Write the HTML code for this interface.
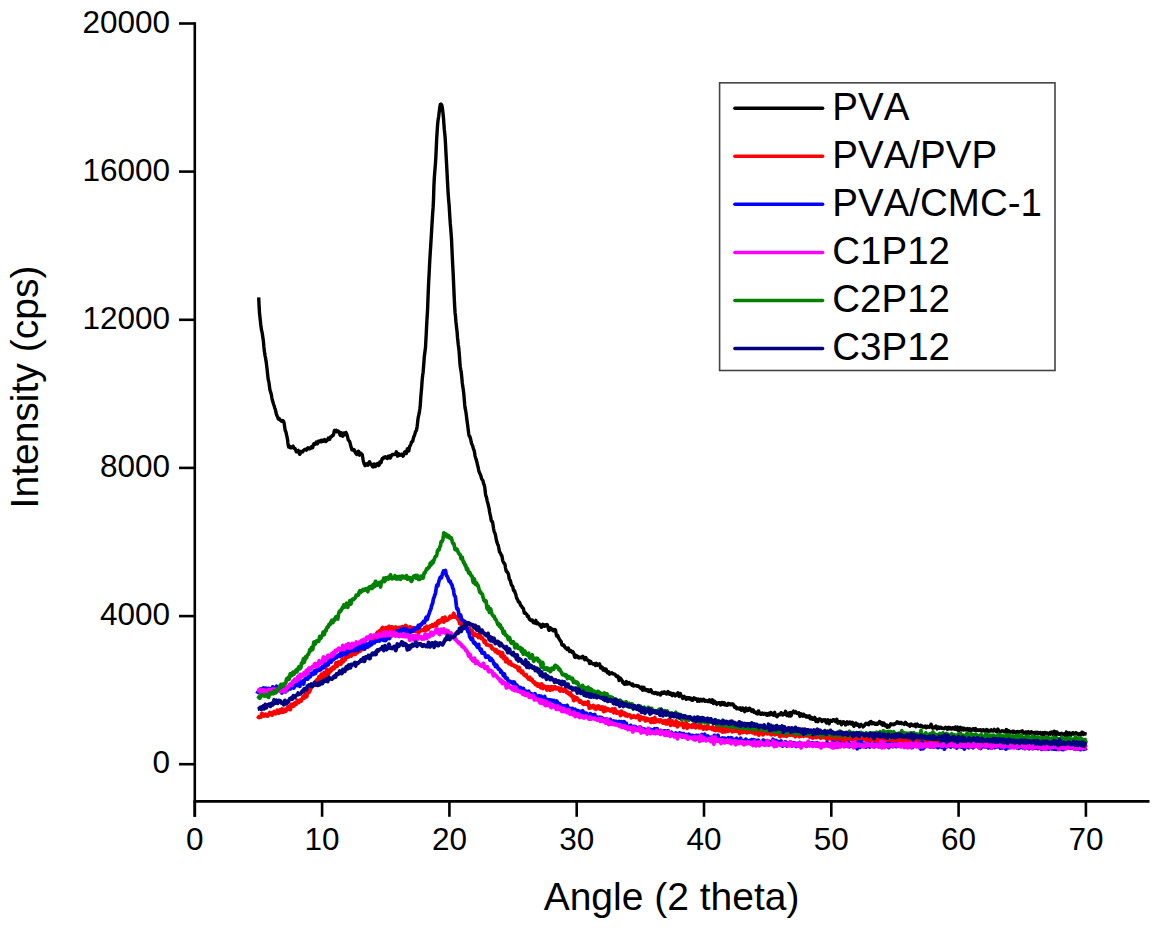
<!DOCTYPE html>
<html><head><meta charset="utf-8"><style>
html,body{margin:0;padding:0;background:#fff;}
svg{display:block;}
text{font-family:"Liberation Sans", sans-serif;fill:#000;font-kerning:none;}
</style></head><body>
<svg width="1159" height="928" viewBox="0 0 1159 928">
<rect width="1159" height="928" fill="#fff"/>

<path d="M258.7 297.4L259.1 305.9 259.5 313.0 259.9 316.6 260.3 320.2 260.7 324.2 261.1 327.2 261.5 329.9 261.9 331.6 262.3 333.5 262.7 336.4 263.1 339.1 263.5 342.1 263.9 346.9 264.3 350.6 264.7 353.4 265.1 355.8 265.5 357.6 265.9 360.2 266.3 362.6 266.7 366.1 267.1 369.2 267.5 373.2 267.9 376.7 268.3 379.9 268.7 381.3 269.1 383.5 269.5 386.7 269.9 389.8 270.3 391.1 270.7 392.4 271.1 393.6 271.5 395.5 271.9 398.0 272.3 400.0 272.7 401.4 273.1 402.5 273.5 404.0 273.9 405.1 274.3 406.1 274.7 407.9 275.1 408.7 275.5 410.0 275.9 412.3 276.3 413.7 276.7 415.0 277.1 415.9 277.5 416.7 277.9 417.8 278.3 419.1 278.7 419.2 279.1 418.4 279.5 418.9 279.9 419.8 280.3 420.2 280.7 420.3 281.1 420.7 281.5 421.3 281.9 421.3 282.3 421.0 282.7 420.5 283.1 421.1 283.5 421.1 283.9 422.5 284.3 424.2 284.7 427.1 285.1 429.9 285.5 431.2 285.9 431.9 286.3 433.7 286.7 435.5 287.1 437.3 287.5 439.3 287.9 442.9 288.3 445.5 288.7 447.1 289.1 446.5 289.5 446.1 289.9 447.3 290.3 447.9 290.7 447.9 291.1 447.5 291.5 447.8 291.9 447.7 292.3 446.7 292.7 446.4 293.1 446.1 293.5 447.3 293.9 448.1 294.3 448.4 294.7 448.3 295.1 448.5 295.5 449.6 295.9 450.5 296.3 451.7 296.7 451.4 297.1 451.8 297.5 451.3 297.9 450.7 298.3 450.4 298.7 451.2 299.1 452.5 299.5 454.2 299.9 454.2 300.3 452.9 300.7 451.5 301.1 452.0 301.5 452.1 301.9 451.7 302.3 451.6 302.7 451.8 303.1 451.1 303.5 450.3 303.9 450.0 304.3 449.8 304.7 449.6 305.1 449.2 305.5 449.8 305.9 449.9 306.3 450.2 306.7 449.4 307.1 449.1 307.5 448.2 307.9 447.8 308.3 448.2 308.7 448.5 309.1 448.9 309.5 448.0 309.9 448.7 310.3 447.9 310.7 448.4 311.1 447.7 311.5 446.8 311.9 446.4 312.3 447.2 312.7 447.6 313.1 446.1 313.5 444.7 313.9 443.8 314.3 444.1 314.7 444.2 315.1 444.3 315.5 443.2 315.9 442.8 316.3 442.0 316.7 442.7 317.1 443.2 317.5 443.8 317.9 443.0 318.3 442.1 318.7 441.1 319.1 440.9 319.5 441.5 319.9 441.6 320.3 441.7 320.7 440.9 321.1 440.4 321.5 441.2 321.9 441.7 322.3 441.1 322.7 440.2 323.1 441.4 323.5 441.4 323.9 440.7 324.3 439.8 324.7 439.6 325.1 440.0 325.5 440.8 325.9 441.6 326.3 440.8 326.7 440.7 327.1 440.3 327.5 440.0 327.9 439.0 328.3 438.1 328.7 438.6 329.1 439.2 329.5 439.5 329.9 438.5 330.3 437.8 330.7 436.8 331.1 436.8 331.5 436.7 331.9 436.3 332.3 435.5 332.7 435.7 333.1 435.6 333.5 434.7 333.9 432.8 334.3 430.7 334.7 430.3 335.1 431.0 335.5 431.4 335.9 430.6 336.3 430.3 336.7 431.1 337.1 431.7 337.5 431.4 337.9 431.7 338.3 431.1 338.7 431.5 339.1 431.7 339.5 433.2 339.9 434.4 340.3 435.4 340.7 434.6 341.1 432.7 341.5 432.8 341.9 434.0 342.3 435.4 342.7 436.2 343.1 435.6 343.5 433.8 343.9 433.0 344.3 434.1 344.7 434.8 345.1 434.4 345.5 433.6 345.9 432.4 346.3 433.2 346.7 434.3 347.1 435.2 347.5 436.5 347.9 438.3 348.3 440.2 348.7 440.5 349.1 440.9 349.5 441.3 349.9 442.4 350.3 444.0 350.7 445.5 351.1 447.1 351.5 448.1 351.9 449.8 352.3 449.6 352.7 449.8 353.1 449.5 353.5 450.4 353.9 449.7 354.3 449.8 354.7 450.8 355.1 452.1 355.5 452.8 355.9 452.8 356.3 453.8 356.7 454.5 357.1 453.9 357.5 452.8 357.9 452.0 358.3 451.2 358.7 451.3 359.1 453.4 359.5 455.2 359.9 454.5 360.3 452.9 360.7 453.2 361.1 454.2 361.5 454.6 361.9 454.1 362.3 455.0 362.7 457.2 363.1 459.7 363.5 461.8 363.9 462.8 364.3 464.2 364.7 464.4 365.1 465.6 365.5 465.2 365.9 464.9 366.3 464.2 366.7 463.8 367.1 464.2 367.5 465.2 367.9 465.3 368.3 464.3 368.7 463.6 369.1 462.3 369.5 461.7 369.9 462.4 370.3 464.1 370.7 463.8 371.1 463.8 371.5 464.1 371.9 465.5 372.3 466.4 372.7 466.8 373.1 467.0 373.5 466.7 373.9 465.9 374.3 464.0 374.7 464.5 375.1 465.5 375.5 466.5 375.9 465.8 376.3 465.0 376.7 464.2 377.1 463.6 377.5 463.5 377.9 463.6 378.3 464.8 378.7 465.5 379.1 465.2 379.5 463.5 379.9 462.0 380.3 462.4 380.7 462.9 381.1 462.6 381.5 460.9 381.9 459.3 382.3 458.6 382.7 458.8 383.1 458.9 383.5 458.0 383.9 457.4 384.3 457.7 384.7 457.2 385.1 457.0 385.5 456.7 385.9 457.7 386.3 457.7 386.7 458.1 387.1 458.4 387.5 458.5 387.9 457.4 388.3 456.3 388.7 456.3 389.1 455.9 389.5 456.0 389.9 457.4 390.3 458.0 390.7 457.3 391.1 455.6 391.5 455.6 391.9 455.1 392.3 454.5 392.7 454.6 393.1 454.5 393.5 454.6 393.9 454.5 394.3 454.6 394.7 454.0 395.1 454.3 395.5 454.3 395.9 453.4 396.3 451.8 396.7 452.2 397.1 454.2 397.5 456.2 397.9 455.9 398.3 454.5 398.7 453.7 399.1 454.4 399.5 455.0 399.9 455.3 400.3 455.2 400.7 455.0 401.1 454.5 401.5 454.3 401.9 454.3 402.3 454.5 402.7 455.6 403.1 456.2 403.5 455.5 403.9 453.5 404.3 452.8 404.7 452.0 405.1 451.7 405.5 452.0 405.9 453.4 406.3 453.5 406.7 451.3 407.1 449.6 407.5 448.8 407.9 449.5 408.3 450.8 408.7 451.0 409.1 449.4 409.5 446.9 409.9 445.8 410.3 445.5 410.7 444.6 411.1 443.5 411.5 442.0 411.9 441.8 412.3 441.5 412.7 441.4 413.1 439.4 413.5 437.8 413.9 436.5 414.3 435.7 414.7 434.5 415.1 433.2 415.5 431.7 415.9 431.4 416.3 430.5 416.7 429.0 417.1 426.7 417.5 423.4 417.9 419.8 418.3 416.9 418.7 415.6 419.1 413.4 419.5 411.1 419.9 408.4 420.3 405.1 420.7 398.5 421.1 393.6 421.5 389.5 421.9 383.9 422.3 378.6 422.7 375.0 423.1 372.4 423.5 367.5 423.9 362.3 424.3 356.7 424.7 353.8 425.1 350.5 425.5 347.5 425.9 340.0 426.3 332.7 426.7 324.3 427.1 317.3 427.5 311.2 427.9 300.8 428.3 290.5 428.7 281.4 429.1 274.1 429.5 265.9 429.9 258.4 430.3 252.0 430.7 245.8 431.1 239.3 431.5 232.6 431.9 225.9 432.3 219.1 432.7 212.9 433.1 207.7 433.5 199.6 433.9 186.1 434.3 178.1 434.7 172.9 435.1 167.9 435.5 163.0 435.9 155.8 436.3 147.0 436.7 138.7 437.1 132.0 437.5 126.0 437.9 121.6 438.3 118.8 438.7 116.3 439.1 112.9 439.5 109.6 439.9 106.6 440.3 104.5 440.7 104.7 441.1 104.1 441.5 104.9 441.9 105.5 442.3 107.7 442.7 110.8 443.1 114.2 443.5 118.1 443.9 124.0 444.3 129.2 444.7 133.1 445.1 137.2 445.5 143.9 445.9 151.7 446.3 159.0 446.7 166.2 447.1 173.9 447.5 181.8 447.9 189.2 448.3 195.3 448.7 200.7 449.1 204.9 449.5 211.5 449.9 218.0 450.3 223.9 450.7 228.3 451.1 233.7 451.5 239.2 451.9 247.8 452.3 256.9 452.7 264.8 453.1 272.4 453.5 281.2 453.9 290.1 454.3 299.1 454.7 306.9 455.1 312.9 455.5 316.2 455.9 321.4 456.3 325.0 456.7 328.7 457.1 331.9 457.5 337.4 457.9 341.0 458.3 345.0 458.7 347.7 459.1 351.6 459.5 356.9 459.9 362.8 460.3 367.0 460.7 369.3 461.1 371.3 461.5 374.6 461.9 378.6 462.3 382.9 462.7 386.1 463.1 388.5 463.5 391.4 463.9 394.9 464.3 399.8 464.7 404.7 465.1 408.1 465.5 409.9 465.9 412.0 466.3 415.1 466.7 418.2 467.1 421.3 467.5 424.1 467.9 427.4 468.3 430.4 468.7 433.5 469.1 435.8 469.5 436.4 469.9 436.7 470.3 437.9 470.7 439.5 471.1 441.5 471.5 443.2 471.9 444.1 472.3 445.1 472.7 446.0 473.1 447.5 473.5 448.8 473.9 449.8 474.3 451.2 474.7 453.4 475.1 456.1 475.5 457.5 475.9 458.7 476.3 459.8 476.7 461.3 477.1 463.0 477.5 465.0 477.9 466.4 478.3 468.2 478.7 470.1 479.1 471.8 479.5 472.6 479.9 473.8 480.3 474.2 480.7 475.4 481.1 476.6 481.5 478.5 481.9 479.4 482.3 479.7 482.7 480.1 483.1 481.3 483.5 483.1 483.9 484.4 484.3 485.1 484.7 487.1 485.1 490.2 485.5 493.8 485.9 496.0 486.3 496.6 486.7 498.4 487.1 500.6 487.5 502.1 487.9 503.4 488.3 505.1 488.7 507.0 489.1 508.2 489.5 511.2 489.9 513.4 490.3 515.1 490.7 517.0 491.1 519.8 491.5 521.1 491.9 521.4 492.3 521.5 492.7 522.8 493.1 525.2 493.5 528.2 493.9 530.4 494.3 532.0 494.7 532.7 495.1 533.7 495.5 535.1 495.9 537.5 496.3 539.7 496.7 541.4 497.1 542.6 497.5 543.8 497.9 544.8 498.3 545.6 498.7 547.3 499.1 549.7 499.5 552.0 499.9 552.2 500.3 552.9 500.7 553.6 501.1 554.9 501.5 554.9 501.9 555.9 502.3 558.0 502.7 560.6 503.1 561.6 503.5 562.1 503.9 563.3 504.3 563.4 504.7 563.8 505.1 565.1 505.5 568.0 505.9 569.9 506.3 571.1 506.7 571.6 507.1 571.6 507.5 572.3 507.9 573.0 508.3 573.9 508.7 575.5 509.1 578.2 509.5 579.6 509.9 580.0 510.3 580.3 510.7 582.3 511.1 583.8 511.5 585.4 511.9 585.5 512.3 586.0 512.7 586.4 513.1 588.4 513.5 590.3 513.9 590.7 514.3 590.5 514.7 591.2 515.1 592.9 515.5 593.6 515.9 594.8 516.3 596.7 516.7 598.3 517.1 598.5 517.5 599.5 517.9 600.3 518.3 601.9 518.7 602.0 519.1 602.1 519.5 602.2 519.9 603.1 520.3 604.5 520.7 605.4 521.1 605.9 521.5 606.1 521.9 606.6 522.3 607.8 522.7 608.0 523.1 608.1 523.5 608.8 523.9 611.1 524.3 613.2 524.7 613.3 525.1 612.7 525.5 613.0 525.9 613.9 526.3 614.0 526.7 614.2 527.1 615.6 527.5 616.6 527.9 616.4 528.3 616.0 528.7 617.3 529.1 618.6 529.5 619.3 529.9 619.3 530.3 620.1 530.7 620.3 531.1 620.6 531.5 620.2 531.9 620.2 532.3 620.0 532.7 621.4 533.1 622.3 533.5 622.6 533.9 622.1 534.3 622.2 534.7 622.9 535.1 622.2 535.5 621.1 535.9 620.4 536.3 622.3 536.7 623.7 537.1 623.6 537.5 622.6 537.9 623.4 538.3 623.9 538.7 623.7 539.1 623.8 539.5 624.7 539.9 625.4 540.3 624.8 540.7 625.6 541.1 626.7 541.5 627.3 541.9 626.5 542.3 624.6 542.7 624.2 543.1 624.5 543.5 626.0 543.9 626.4 544.3 626.4 544.7 625.1 545.1 624.7 545.5 625.0 545.9 625.7 546.3 625.4 546.7 625.5 547.1 624.5 547.5 625.1 547.9 626.4 548.3 628.5 548.7 629.7 549.1 630.3 549.5 628.9 549.9 627.6 550.3 627.6 550.7 628.7 551.1 629.7 551.5 629.5 551.9 629.5 552.3 629.0 552.7 629.9 553.1 630.1 553.5 630.9 553.9 630.9 554.3 630.8 554.7 630.5 555.1 629.5 555.5 630.0 555.9 632.0 556.3 634.7 556.7 636.0 557.1 635.9 557.5 635.2 557.9 635.9 558.3 637.0 558.7 638.3 559.1 638.5 559.5 639.5 559.9 640.1 560.3 640.8 560.7 640.8 561.1 641.3 561.5 643.2 561.9 644.8 562.3 645.1 562.7 644.7 563.1 645.5 563.5 645.4 563.9 645.1 564.3 645.8 564.7 647.0 565.1 647.5 565.5 648.2 565.9 648.3 566.3 648.4 566.7 648.1 567.1 649.5 567.5 649.2 567.9 648.7 568.3 648.0 568.7 649.3 569.1 650.4 569.5 651.5 569.9 650.8 570.3 650.5 570.7 650.5 571.1 651.4 571.5 651.9 571.9 652.3 572.3 651.8 572.7 651.5 573.1 651.9 573.5 652.8 573.9 653.9 574.3 655.6 574.7 657.1 575.1 657.4 575.5 656.5 575.9 655.3 576.3 655.5 576.7 656.1 577.1 657.0 577.5 657.5 577.9 656.8 578.3 656.6 578.7 657.1 579.1 657.9 579.5 657.5 579.9 657.6 580.3 657.3 580.7 657.7 581.1 657.8 581.5 657.8 581.9 657.4 582.3 656.6 582.7 656.3 583.1 656.5 583.5 657.7 583.9 657.8 584.3 659.0 584.7 659.7 585.1 659.6 585.5 657.9 585.9 657.6 586.3 658.6 586.7 659.5 587.1 659.9 587.5 659.9 587.9 660.4 588.3 660.2 588.7 660.6 589.1 661.3 589.5 663.4 589.9 663.6 590.3 662.6 590.7 661.3 591.1 662.5 591.5 663.0 591.9 663.4 592.3 663.5 592.7 664.0 593.1 664.0 593.5 664.1 593.9 663.8 594.3 663.5 594.7 663.8 595.1 665.1 595.5 665.5 595.9 664.3 596.3 663.3 596.7 663.7 597.1 665.0 597.5 665.2 597.9 664.4 598.3 664.4 598.7 664.5 599.1 664.3 599.5 663.8 599.9 665.1 600.3 666.6 600.7 667.9 601.1 667.5 601.5 667.6 601.9 667.1 602.3 667.3 602.7 668.6 603.1 670.0 603.5 669.8 603.9 668.6 604.3 668.9 604.7 670.3 605.1 670.7 605.5 669.7 605.9 668.9 606.3 669.6 606.7 671.0 607.1 672.3 607.5 672.9 607.9 673.0 608.3 671.8 608.7 671.8 609.1 672.9 609.5 674.2 609.9 673.9 610.3 673.0 610.7 673.5 611.1 673.3 611.5 673.0 611.9 672.7 612.3 673.7 612.7 673.8 613.1 673.7 613.5 673.6 613.9 674.0 614.3 674.2 614.7 674.2 615.1 674.3 615.5 675.3 615.9 676.1 616.3 676.2 616.7 676.6 617.1 676.8 617.5 676.7 617.9 676.1 618.3 677.1 618.7 678.7 619.1 680.6 619.5 679.9 619.9 678.7 620.3 678.0 620.7 678.5 621.1 679.4 621.5 679.6 621.9 680.2 622.3 680.6 622.7 682.5 623.1 683.1 623.5 683.2 623.9 682.9 624.3 683.6 624.7 684.3 625.1 684.2 625.5 683.3 625.9 681.7 626.3 681.5 626.7 682.6 627.1 684.0 627.5 683.7 627.9 683.9 628.3 683.7 628.7 683.1 629.1 682.5 629.5 683.6 629.9 683.7 630.3 684.1 630.7 683.9 631.1 684.0 631.5 684.4 631.9 685.2 632.3 685.0 632.7 684.1 633.1 684.8 633.5 686.1 633.9 686.1 634.3 685.5 634.7 685.4 635.1 685.5 635.5 685.6 635.9 685.6 636.3 685.9 636.7 685.6 637.1 685.9 637.5 686.3 637.9 686.3 638.3 685.9 638.7 686.3 639.1 686.8 639.5 687.2 639.9 687.4 640.3 687.7 640.7 688.4 641.1 687.8 641.5 687.6 641.9 687.1 642.3 688.9 642.7 690.2 643.1 689.6 643.5 687.7 643.9 687.3 644.3 689.0 644.7 689.9 645.1 689.6 645.5 689.3 645.9 689.4 646.3 689.9 646.7 690.5 647.1 689.7 647.5 689.9 647.9 689.7 648.3 691.3 648.7 691.5 649.1 691.6 649.5 691.3 649.9 691.1 650.3 690.8 650.7 689.7 651.1 690.0 651.5 690.9 651.9 692.4 652.3 692.7 652.7 692.9 653.1 692.7 653.5 692.7 653.9 692.7 654.3 693.5 654.7 693.6 655.1 693.0 655.5 692.4 655.9 692.6 656.3 692.6 656.7 693.3 657.1 693.6 657.5 694.1 657.9 693.3 658.3 693.3 658.7 693.3 659.1 693.4 659.5 693.9 659.9 694.3 660.3 695.1 660.7 694.7 661.1 693.8 661.5 692.4 661.9 692.2 662.3 692.9 662.7 693.4 663.1 693.4 663.5 692.6 663.9 692.4 664.3 691.9 664.7 692.8 665.1 693.0 665.5 693.6 665.9 693.5 666.3 694.1 666.7 694.0 667.1 692.9 667.5 692.0 667.9 691.6 668.3 691.8 668.7 693.2 669.1 694.0 669.5 694.2 669.9 692.9 670.3 693.2 670.7 693.0 671.1 693.7 671.5 694.1 671.9 695.3 672.3 695.6 672.7 695.0 673.1 693.5 673.5 693.5 673.9 693.7 674.3 694.8 674.7 695.0 675.1 695.9 675.5 694.8 675.9 694.2 676.3 694.2 676.7 695.2 677.1 694.6 677.5 693.5 677.9 692.7 678.3 692.9 678.7 694.7 679.1 696.5 679.5 695.8 679.9 693.9 680.3 693.5 680.7 695.0 681.1 695.8 681.5 695.9 681.9 696.2 682.3 697.7 682.7 698.4 683.1 697.6 683.5 696.7 683.9 696.8 684.3 696.4 684.7 697.2 685.1 697.5 685.5 698.3 685.9 698.6 686.3 699.3 686.7 698.3 687.1 697.5 687.5 698.1 687.9 698.7 688.3 697.9 688.7 697.6 689.1 697.7 689.5 699.0 689.9 698.7 690.3 698.5 690.7 698.0 691.1 699.2 691.5 700.0 691.9 700.4 692.3 700.4 692.7 700.4 693.1 699.2 693.5 698.5 693.9 697.9 694.3 698.8 694.7 699.1 695.1 699.1 695.5 698.5 695.9 698.6 696.3 699.5 696.7 699.5 697.1 700.0 697.5 701.2 697.9 700.7 698.3 699.1 698.7 699.6 699.1 701.2 699.5 701.2 699.9 700.0 700.3 699.4 700.7 699.3 701.1 699.7 701.5 700.7 701.9 701.0 702.3 700.9 702.7 699.7 703.1 699.5 703.5 699.2 703.9 699.4 704.3 700.0 704.7 700.9 705.1 701.3 705.5 701.1 705.9 701.0 706.3 700.8 706.7 700.6 707.1 701.0 707.5 700.9 707.9 701.6 708.3 701.6 708.7 701.5 709.1 700.3 709.5 699.8 709.9 700.4 710.3 700.8 710.7 702.1 711.1 702.2 711.5 701.3 711.9 700.0 712.3 699.7 712.7 700.8 713.1 702.1 713.5 703.5 713.9 702.6 714.3 701.1 714.7 701.6 715.1 702.6 715.5 702.7 715.9 702.3 716.3 703.4 716.7 704.4 717.1 704.0 717.5 703.1 717.9 703.1 718.3 703.2 718.7 702.8 719.1 702.6 719.5 702.7 719.9 703.1 720.3 703.4 720.7 705.0 721.1 704.7 721.5 703.7 721.9 702.4 722.3 703.1 722.7 704.2 723.1 704.5 723.5 703.8 723.9 702.6 724.3 702.6 724.7 703.7 725.1 705.0 725.5 705.0 725.9 704.4 726.3 704.5 726.7 705.4 727.1 705.4 727.5 705.1 727.9 703.9 728.3 703.3 728.7 704.3 729.1 704.6 729.5 704.4 729.9 703.9 730.3 704.7 730.7 704.4 731.1 704.2 731.5 704.5 731.9 704.7 732.3 704.0 732.7 703.9 733.1 704.1 733.5 704.9 733.9 705.5 734.3 706.6 734.7 707.3 735.1 706.8 735.5 706.6 735.9 707.1 736.3 708.2 736.7 708.8 737.1 708.5 737.5 708.0 737.9 708.2 738.3 708.3 738.7 708.8 739.1 708.8 739.5 709.3 739.9 708.3 740.3 707.7 740.7 707.9 741.1 709.2 741.5 710.3 741.9 710.1 742.3 709.2 742.7 708.1 743.1 708.2 743.5 708.7 743.9 709.8 744.3 711.0 744.7 711.6 745.1 710.3 745.5 708.7 745.9 708.1 746.3 708.3 746.7 709.5 747.1 710.6 747.5 709.9 747.9 709.1 748.3 709.7 748.7 710.2 749.1 709.2 749.5 708.2 749.9 708.4 750.3 709.1 750.7 710.0 751.1 710.7 751.5 711.2 751.9 711.5 752.3 711.5 752.7 710.4 753.1 709.8 753.5 710.4 753.9 711.6 754.3 712.4 754.7 712.4 755.1 711.9 755.5 712.1 755.9 712.9 756.3 713.5 756.7 713.4 757.1 713.8 757.5 713.9 757.9 712.3 758.3 711.0 758.7 711.0 759.1 712.1 759.5 712.7 759.9 713.7 760.3 714.1 760.7 713.2 761.1 713.5 761.5 714.1 761.9 713.7 762.3 712.9 762.7 713.6 763.1 714.1 763.5 714.3 763.9 714.1 764.3 713.7 764.7 713.3 765.1 714.0 765.5 714.2 765.9 713.9 766.3 713.6 766.7 715.2 767.1 715.1 767.5 715.2 767.9 713.9 768.3 713.7 768.7 713.3 769.1 714.0 769.5 714.9 769.9 714.7 770.3 713.7 770.7 712.5 771.1 712.5 771.5 713.2 771.9 714.2 772.3 714.4 772.7 714.6 773.1 715.1 773.5 715.3 773.9 714.1 774.3 712.8 774.7 712.3 775.1 714.0 775.5 714.9 775.9 715.8 776.3 715.6 776.7 716.7 777.1 716.7 777.5 716.2 777.9 715.1 778.3 714.4 778.7 714.5 779.1 714.2 779.5 714.0 779.9 714.7 780.3 714.2 780.7 713.7 781.1 712.7 781.5 713.6 781.9 714.3 782.3 714.9 782.7 715.0 783.1 713.7 783.5 713.7 783.9 713.5 784.3 714.3 784.7 713.9 785.1 712.5 785.5 711.3 785.9 711.8 786.3 714.4 786.7 715.4 787.1 715.1 787.5 713.5 787.9 713.8 788.3 715.2 788.7 716.0 789.1 714.7 789.5 712.7 789.9 712.6 790.3 714.5 790.7 716.0 791.1 715.8 791.5 714.6 791.9 713.2 792.3 712.7 792.7 711.9 793.1 711.7 793.5 711.1 793.9 712.2 794.3 712.6 794.7 712.8 795.1 712.3 795.5 711.6 795.9 711.9 796.3 712.7 796.7 713.2 797.1 713.1 797.5 713.6 797.9 713.6 798.3 713.2 798.7 712.7 799.1 713.5 799.5 714.7 799.9 716.4 800.3 715.7 800.7 714.4 801.1 713.9 801.5 714.8 801.9 715.2 802.3 715.9 802.7 716.2 803.1 715.5 803.5 714.2 803.9 714.8 804.3 716.0 804.7 716.1 805.1 715.3 805.5 715.4 805.9 716.6 806.3 717.0 806.7 717.0 807.1 717.1 807.5 716.6 807.9 716.0 808.3 716.4 808.7 717.1 809.1 716.3 809.5 715.8 809.9 716.9 810.3 718.9 810.7 718.2 811.1 718.3 811.5 717.4 811.9 718.3 812.3 718.2 812.7 719.4 813.1 719.4 813.5 718.3 813.9 718.2 814.3 718.1 814.7 717.4 815.1 718.4 815.5 719.9 815.9 721.4 816.3 719.6 816.7 719.4 817.1 719.9 817.5 721.7 817.9 721.6 818.3 720.5 818.7 719.7 819.1 719.0 819.5 718.8 819.9 719.1 820.3 719.8 820.7 720.0 821.1 719.5 821.5 720.6 821.9 721.4 822.3 721.2 822.7 720.6 823.1 719.9 823.5 719.8 823.9 720.3 824.3 720.6 824.7 720.5 825.1 719.7 825.5 720.5 825.9 722.0 826.3 722.9 826.7 722.7 827.1 721.3 827.5 720.6 827.9 719.7 828.3 720.8 828.7 723.0 829.1 723.8 829.5 722.1 829.9 720.7 830.3 720.3 830.7 720.9 831.1 721.0 831.5 721.3 831.9 721.3 832.3 721.0 832.7 720.7 833.1 719.8 833.5 719.8 833.9 719.7 834.3 720.5 834.7 720.5 835.1 721.2 835.5 721.6 835.9 721.1 836.3 720.0 836.7 719.2 837.1 720.2 837.5 721.9 837.9 723.2 838.3 722.7 838.7 722.7 839.1 722.1 839.5 722.8 839.9 722.4 840.3 721.6 840.7 722.0 841.1 723.9 841.5 724.7 841.9 723.1 842.3 722.3 842.7 722.7 843.1 722.0 843.5 721.7 843.9 721.9 844.3 722.8 844.7 723.7 845.1 723.9 845.5 725.0 845.9 724.6 846.3 724.3 846.7 722.4 847.1 721.8 847.5 722.6 847.9 723.5 848.3 724.0 848.7 723.4 849.1 722.9 849.5 722.1 849.9 722.0 850.3 722.4 850.7 723.2 851.1 724.1 851.5 724.1 851.9 722.9 852.3 722.4 852.7 722.8 853.1 723.8 853.5 725.4 853.9 726.3 854.3 725.6 854.7 724.2 855.1 723.5 855.5 723.2 855.9 723.0 856.3 723.5 856.7 724.2 857.1 725.2 857.5 725.4 857.9 725.3 858.3 724.3 858.7 725.0 859.1 725.7 859.5 726.8 859.9 726.2 860.3 726.0 860.7 724.8 861.1 724.4 861.5 725.3 861.9 725.5 862.3 725.5 862.7 725.8 863.1 726.9 863.5 726.5 863.9 726.3 864.3 725.8 864.7 725.1 865.1 724.2 865.5 723.9 865.9 723.4 866.3 723.8 866.7 724.1 867.1 724.3 867.5 723.4 867.9 723.7 868.3 724.3 868.7 724.8 869.1 723.4 869.5 722.3 869.9 722.0 870.3 722.3 870.7 721.6 871.1 721.4 871.5 723.3 871.9 723.7 872.3 723.3 872.7 722.6 873.1 723.4 873.5 723.6 873.9 723.1 874.3 723.0 874.7 723.4 875.1 724.3 875.5 724.0 875.9 723.4 876.3 723.4 876.7 724.3 877.1 724.0 877.5 724.2 877.9 723.0 878.3 723.3 878.7 723.1 879.1 722.2 879.5 721.5 879.9 721.6 880.3 722.7 880.7 723.7 881.1 723.9 881.5 722.9 881.9 722.8 882.3 724.0 882.7 725.2 883.1 724.9 883.5 724.1 883.9 723.1 884.3 723.9 884.7 725.5 885.1 725.8 885.5 725.2 885.9 724.9 886.3 724.9 886.7 726.3 887.1 727.2 887.5 726.8 887.9 725.5 888.3 725.8 888.7 726.9 889.1 727.1 889.5 726.1 889.9 725.4 890.3 724.5 890.7 723.7 891.1 723.9 891.5 724.5 891.9 724.7 892.3 724.4 892.7 724.6 893.1 724.0 893.5 724.2 893.9 724.7 894.3 724.4 894.7 723.7 895.1 724.0 895.5 723.8 895.9 723.3 896.3 723.1 896.7 722.4 897.1 721.9 897.5 722.2 897.9 723.0 898.3 722.4 898.7 722.2 899.1 722.6 899.5 723.5 899.9 723.1 900.3 723.0 900.7 722.4 901.1 722.5 901.5 723.1 901.9 723.6 902.3 723.2 902.7 723.1 903.1 723.5 903.5 723.5 903.9 723.4 904.3 724.4 904.7 723.8 905.1 722.9 905.5 722.3 905.9 723.1 906.3 723.4 906.7 723.7 907.1 724.5 907.5 724.7 907.9 724.9 908.3 724.8 908.7 724.7 909.1 724.5 909.5 725.4 909.9 726.2 910.3 725.6 910.7 724.6 911.1 724.0 911.5 724.4 911.9 725.2 912.3 725.5 912.7 725.0 913.1 725.3 913.5 725.8 913.9 725.8 914.3 724.8 914.7 724.4 915.1 724.2 915.5 726.0 915.9 726.8 916.3 726.2 916.7 724.4 917.1 724.1 917.5 724.5 917.9 725.0 918.3 725.9 918.7 725.9 919.1 726.3 919.5 725.9 919.9 726.2 920.3 725.3 920.7 725.2 921.1 725.6 921.5 726.4 921.9 725.7 922.3 726.0 922.7 726.5 923.1 727.1 923.5 726.6 923.9 726.7 924.3 727.0 924.7 726.5 925.1 726.1 925.5 726.3 925.9 727.4 926.3 727.8 926.7 727.2 927.1 726.5 927.5 726.2 927.9 726.9 928.3 726.7 928.7 726.9 929.1 727.0 929.5 727.2 929.9 726.7 930.3 725.8 930.7 724.9 931.1 724.2 931.5 725.3 931.9 726.7 932.3 727.6 932.7 728.1 933.1 727.4 933.5 727.6 933.9 727.3 934.3 727.8 934.7 727.5 935.1 727.4 935.5 726.6 935.9 726.0 936.3 726.6 936.7 727.8 937.1 728.9 937.5 728.5 937.9 727.6 938.3 727.0 938.7 727.8 939.1 727.6 939.5 728.2 939.9 728.0 940.3 727.9 940.7 727.2 941.1 727.8 941.5 728.3 941.9 728.4 942.3 728.0 942.7 728.2 943.1 728.5 943.5 728.6 943.9 728.7 944.3 728.5 944.7 728.5 945.1 727.4 945.5 727.2 945.9 727.7 946.3 728.0 946.7 728.4 947.1 728.6 947.5 729.3 947.9 727.8 948.3 727.3 948.7 728.0 949.1 728.9 949.5 728.8 949.9 727.5 950.3 727.7 950.7 727.8 951.1 729.1 951.5 728.1 951.9 728.1 952.3 727.8 952.7 728.8 953.1 728.2 953.5 727.8 953.9 728.7 954.3 729.2 954.7 728.5 955.1 727.1 955.5 727.0 955.9 727.9 956.3 729.4 956.7 729.6 957.1 727.6 957.5 727.1 957.9 728.7 958.3 730.4 958.7 730.8 959.1 730.0 959.5 729.1 959.9 727.8 960.3 727.3 960.7 727.9 961.1 728.7 961.5 730.0 961.9 729.7 962.3 729.0 962.7 728.1 963.1 729.1 963.5 730.0 963.9 729.0 964.3 728.2 964.7 729.0 965.1 729.7 965.5 729.2 965.9 729.2 966.3 729.9 966.7 729.7 967.1 728.9 967.5 728.5 967.9 729.1 968.3 729.6 968.7 730.6 969.1 730.8 969.5 729.7 969.9 728.8 970.3 729.3 970.7 730.6 971.1 731.0 971.5 730.4 971.9 729.5 972.3 729.3 972.7 729.4 973.1 728.6 973.5 728.6 973.9 729.4 974.3 730.2 974.7 729.2 975.1 728.8 975.5 728.5 975.9 729.3 976.3 730.5 976.7 730.2 977.1 730.2 977.5 729.9 977.9 730.0 978.3 729.9 978.7 730.5 979.1 730.0 979.5 730.1 979.9 730.0 980.3 730.3 980.7 729.8 981.1 730.9 981.5 730.8 981.9 731.0 982.3 730.2 982.7 730.6 983.1 730.0 983.5 729.7 983.9 730.1 984.3 730.9 984.7 730.9 985.1 731.0 985.5 731.4 985.9 730.6 986.3 729.8 986.7 729.6 987.1 730.5 987.5 731.5 987.9 731.9 988.3 730.8 988.7 730.3 989.1 730.9 989.5 730.9 989.9 731.1 990.3 730.4 990.7 730.2 991.1 729.9 991.5 730.7 991.9 731.0 992.3 730.6 992.7 730.8 993.1 730.9 993.5 731.1 993.9 730.1 994.3 729.4 994.7 729.8 995.1 730.0 995.5 730.2 995.9 730.5 996.3 731.5 996.7 732.0 997.1 731.2 997.5 729.6 997.9 729.1 998.3 729.9 998.7 731.1 999.1 730.9 999.5 731.3 999.9 731.4 1000.3 731.8 1000.7 731.5 1001.1 731.2 1001.5 730.9 1001.9 730.7 1002.3 730.9 1002.7 730.8 1003.1 731.4 1003.5 731.3 1003.9 731.7 1004.3 731.1 1004.7 731.1 1005.1 731.9 1005.5 732.2 1005.9 731.3 1006.3 729.6 1006.7 729.7 1007.1 731.6 1007.5 732.7 1007.9 732.9 1008.3 731.2 1008.7 730.7 1009.1 730.9 1009.5 732.5 1009.9 732.5 1010.3 732.2 1010.7 732.0 1011.1 732.0 1011.5 731.8 1011.9 731.8 1012.3 731.3 1012.7 731.3 1013.1 732.1 1013.5 732.7 1013.9 731.3 1014.3 731.4 1014.7 732.0 1015.1 732.9 1015.5 733.1 1015.9 732.8 1016.3 732.4 1016.7 731.8 1017.1 731.9 1017.5 731.5 1017.9 731.7 1018.3 732.3 1018.7 732.6 1019.1 732.4 1019.5 731.7 1019.9 731.8 1020.3 731.6 1020.7 731.4 1021.1 731.2 1021.5 731.2 1021.9 731.1 1022.3 730.8 1022.7 732.0 1023.1 733.0 1023.5 733.5 1023.9 732.4 1024.3 732.7 1024.7 733.0 1025.1 732.8 1025.5 731.9 1025.9 732.0 1026.3 732.8 1026.7 733.2 1027.1 734.0 1027.5 733.2 1027.9 733.0 1028.3 731.7 1028.7 732.6 1029.1 732.5 1029.5 732.6 1029.9 732.5 1030.3 733.6 1030.7 733.4 1031.1 732.7 1031.5 731.8 1031.9 732.4 1032.3 733.1 1032.7 733.7 1033.1 733.1 1033.5 732.6 1033.9 732.4 1034.3 733.1 1034.7 734.3 1035.1 733.8 1035.5 732.9 1035.9 732.2 1036.3 733.3 1036.7 733.0 1037.1 732.9 1037.5 732.2 1037.9 732.8 1038.3 733.3 1038.7 733.8 1039.1 733.6 1039.5 733.4 1039.9 732.6 1040.3 732.5 1040.7 733.2 1041.1 734.0 1041.5 734.3 1041.9 734.7 1042.3 734.0 1042.7 732.7 1043.1 733.0 1043.5 734.8 1043.9 735.0 1044.3 733.4 1044.7 732.4 1045.1 732.7 1045.5 732.8 1045.9 733.1 1046.3 732.9 1046.7 732.8 1047.1 733.0 1047.5 733.5 1047.9 733.7 1048.3 733.6 1048.7 734.3 1049.1 733.9 1049.5 733.3 1049.9 732.5 1050.3 733.4 1050.7 734.1 1051.1 733.6 1051.5 732.1 1051.9 731.9 1052.3 732.7 1052.7 733.7 1053.1 734.4 1053.5 733.8 1053.9 732.4 1054.3 731.2 1054.7 731.6 1055.1 732.5 1055.5 734.9 1055.9 735.4 1056.3 733.8 1056.7 731.9 1057.1 732.2 1057.5 733.0 1057.9 733.1 1058.3 733.1 1058.7 733.9 1059.1 734.3 1059.5 734.1 1059.9 734.3 1060.3 734.4 1060.7 734.5 1061.1 733.5 1061.5 733.3 1061.9 733.9 1062.3 734.0 1062.7 734.0 1063.1 734.2 1063.5 734.7 1063.9 734.5 1064.3 733.7 1064.7 734.4 1065.1 735.2 1065.5 735.7 1065.9 733.8 1066.3 732.0 1066.7 732.3 1067.1 734.4 1067.5 735.3 1067.9 735.0 1068.3 733.8 1068.7 733.2 1069.1 732.7 1069.5 733.4 1069.9 733.1 1070.3 733.6 1070.7 734.6 1071.1 735.1 1071.5 733.7 1071.9 733.2 1072.3 733.7 1072.7 732.9 1073.1 732.7 1073.5 733.4 1073.9 734.0 1074.3 734.4 1074.7 734.7 1075.1 734.1 1075.5 733.0 1075.9 732.7 1076.3 732.8 1076.7 733.2 1077.1 733.6 1077.5 733.5 1077.9 734.0 1078.3 734.8 1078.7 735.0 1079.1 734.1 1079.5 733.7 1079.9 734.1 1080.3 734.3 1080.7 735.0 1081.1 734.3 1081.5 733.7 1081.9 732.2 1082.3 732.2 1082.7 732.9 1083.1 734.4 1083.5 734.5 1083.9 733.8 1084.3 733.3 1084.7 733.6 1085.1 733.6 1085.5 733.9 1085.9 734.0 1086.3 734.1 1086.7 734.2" stroke="#000000" stroke-width="3.4" fill="none" stroke-linejoin="round"/>
<path d="M257.7 718.8L258.1 718.1 258.5 717.3 258.9 716.7 259.3 717.1 259.7 717.0 260.1 717.2 260.5 717.1 260.9 717.2 261.3 715.4 261.7 713.6 262.1 713.4 262.5 714.0 262.9 714.7 263.3 715.3 263.7 715.9 264.1 716.1 264.5 715.6 264.9 714.8 265.3 715.0 265.7 714.2 266.1 714.3 266.5 714.7 266.9 715.0 267.3 716.2 267.7 716.2 268.1 715.6 268.5 714.4 268.9 714.1 269.3 713.7 269.7 712.5 270.1 712.7 270.5 712.7 270.9 713.6 271.3 714.7 271.7 715.0 272.1 715.1 272.5 714.4 272.9 713.1 273.3 712.6 273.7 712.0 274.1 711.5 274.5 711.7 274.9 713.1 275.3 713.7 275.7 713.2 276.1 713.5 276.5 712.5 276.9 711.4 277.3 710.2 277.7 710.9 278.1 710.8 278.5 712.5 278.9 713.2 279.3 712.7 279.7 711.1 280.1 709.9 280.5 710.4 280.9 711.2 281.3 712.3 281.7 710.4 282.1 708.9 282.5 709.2 282.9 711.0 283.3 712.2 283.7 711.1 284.1 710.5 284.5 709.5 284.9 710.2 285.3 710.3 285.7 711.3 286.1 710.7 286.5 709.9 286.9 708.5 287.3 707.7 287.7 708.0 288.1 709.2 288.5 708.5 288.9 706.6 289.3 706.3 289.7 708.4 290.1 709.7 290.5 709.6 290.9 706.4 291.3 704.4 291.7 704.2 292.1 705.6 292.5 705.8 292.9 705.1 293.3 705.4 293.7 706.2 294.1 705.8 294.5 703.1 294.9 702.8 295.3 703.0 295.7 704.0 296.1 704.3 296.5 703.9 296.9 702.1 297.3 700.2 297.7 700.8 298.1 700.8 298.5 702.2 298.9 702.5 299.3 701.6 299.7 700.6 300.1 700.1 300.5 699.7 300.9 700.6 301.3 701.0 301.7 700.3 302.1 698.7 302.5 698.5 302.9 697.0 303.3 697.5 303.7 698.1 304.1 698.2 304.5 696.4 304.9 695.1 305.3 693.5 305.7 693.2 306.1 695.4 306.5 696.8 306.9 696.3 307.3 693.0 307.7 691.3 308.1 690.1 308.5 691.4 308.9 691.8 309.3 692.2 309.7 691.3 310.1 690.4 310.5 688.8 310.9 688.5 311.3 687.9 311.7 686.9 312.1 685.4 312.5 685.1 312.9 685.1 313.3 685.4 313.7 685.6 314.1 684.6 314.5 683.3 314.9 683.4 315.3 682.1 315.7 681.6 316.1 680.7 316.5 680.4 316.9 679.8 317.3 680.1 317.7 680.8 318.1 680.9 318.5 678.7 318.9 676.6 319.3 677.2 319.7 679.9 320.1 680.7 320.5 679.1 320.9 676.6 321.3 674.0 321.7 674.5 322.1 676.7 322.5 677.2 322.9 675.9 323.3 674.8 323.7 673.5 324.1 672.5 324.5 673.5 324.9 676.5 325.3 676.7 325.7 676.0 326.1 674.0 326.5 672.3 326.9 669.0 327.3 669.5 327.7 670.8 328.1 673.8 328.5 674.0 328.9 673.5 329.3 670.4 329.7 670.6 330.1 670.9 330.5 671.4 330.9 668.6 331.3 668.4 331.7 669.3 332.1 669.9 332.5 668.3 332.9 667.2 333.3 667.8 333.7 667.7 334.1 668.5 334.5 668.2 334.9 667.1 335.3 665.3 335.7 663.5 336.1 662.8 336.5 664.2 336.9 666.5 337.3 666.0 337.7 664.6 338.1 662.5 338.5 661.8 338.9 662.0 339.3 663.7 339.7 663.0 340.1 662.6 340.5 663.7 340.9 664.1 341.3 663.4 341.7 661.0 342.1 659.2 342.5 659.0 342.9 660.7 343.3 661.8 343.7 660.3 344.1 659.1 344.5 658.9 344.9 660.1 345.3 659.7 345.7 656.8 346.1 655.4 346.5 656.0 346.9 657.1 347.3 656.3 347.7 657.2 348.1 657.2 348.5 657.0 348.9 654.3 349.3 653.3 349.7 652.8 350.1 654.2 350.5 655.2 350.9 655.1 351.3 656.0 351.7 655.3 352.1 654.7 352.5 653.6 352.9 653.3 353.3 653.3 353.7 653.5 354.1 653.9 354.5 654.5 354.9 654.5 355.3 654.3 355.7 652.2 356.1 650.4 356.5 649.6 356.9 650.5 357.3 651.7 357.7 652.5 358.1 651.0 358.5 649.3 358.9 647.6 359.3 649.9 359.7 650.9 360.1 651.1 360.5 649.1 360.9 649.4 361.3 649.5 361.7 649.7 362.1 647.4 362.5 647.4 362.9 647.9 363.3 649.3 363.7 649.1 364.1 648.3 364.5 647.1 364.9 646.5 365.3 647.0 365.7 646.7 366.1 645.8 366.5 644.9 366.9 645.2 367.3 646.2 367.7 646.6 368.1 647.0 368.5 645.4 368.9 644.3 369.3 644.2 369.7 645.1 370.1 643.4 370.5 642.6 370.9 643.6 371.3 643.4 371.7 642.3 372.1 641.3 372.5 640.4 372.9 639.4 373.3 639.8 373.7 639.5 374.1 638.5 374.5 637.6 374.9 637.6 375.3 637.7 375.7 638.4 376.1 637.5 376.5 635.3 376.9 632.8 377.3 632.3 377.7 634.2 378.1 635.8 378.5 634.8 378.9 633.1 379.3 631.2 379.7 631.2 380.1 630.4 380.5 631.2 380.9 630.8 381.3 630.5 381.7 629.6 382.1 627.9 382.5 627.4 382.9 628.2 383.3 632.2 383.7 633.5 384.1 632.0 384.5 628.2 384.9 628.2 385.3 627.8 385.7 627.6 386.1 627.5 386.5 628.1 386.9 629.6 387.3 630.9 387.7 631.3 388.1 629.2 388.5 627.2 388.9 626.3 389.3 627.1 389.7 629.1 390.1 630.4 390.5 630.1 390.9 628.8 391.3 628.1 391.7 626.8 392.1 626.8 392.5 628.0 392.9 630.2 393.3 629.7 393.7 628.0 394.1 628.2 394.5 630.2 394.9 629.7 395.3 627.8 395.7 626.9 396.1 628.8 396.5 628.7 396.9 628.4 397.3 627.6 397.7 629.5 398.1 629.8 398.5 629.4 398.9 627.3 399.3 627.7 399.7 628.9 400.1 628.8 400.5 628.3 400.9 627.5 401.3 627.6 401.7 626.9 402.1 626.8 402.5 626.6 402.9 626.7 403.3 627.7 403.7 628.9 404.1 629.4 404.5 627.9 404.9 627.6 405.3 626.6 405.7 625.4 406.1 625.7 406.5 628.6 406.9 630.9 407.3 630.3 407.7 628.6 408.1 627.3 408.5 628.3 408.9 629.2 409.3 628.8 409.7 627.3 410.1 626.8 410.5 628.1 410.9 630.0 411.3 630.1 411.7 628.3 412.1 627.8 412.5 629.5 412.9 630.1 413.3 630.2 413.7 628.4 414.1 627.8 414.5 628.5 414.9 631.1 415.3 631.2 415.7 629.7 416.1 629.5 416.5 630.2 416.9 630.1 417.3 630.0 417.7 630.8 418.1 632.1 418.5 632.8 418.9 632.6 419.3 631.6 419.7 631.3 420.1 630.9 420.5 629.8 420.9 630.4 421.3 630.3 421.7 630.6 422.1 630.2 422.5 630.5 422.9 629.7 423.3 629.8 423.7 630.4 424.1 629.6 424.5 628.5 424.9 627.4 425.3 629.1 425.7 630.6 426.1 629.9 426.5 627.5 426.9 626.2 427.3 626.7 427.7 627.3 428.1 629.5 428.5 628.6 428.9 627.9 429.3 627.1 429.7 627.4 430.1 626.3 430.5 625.6 430.9 625.9 431.3 626.5 431.7 625.7 432.1 625.5 432.5 624.7 432.9 626.0 433.3 625.4 433.7 626.1 434.1 625.5 434.5 625.6 434.9 624.7 435.3 623.4 435.7 623.1 436.1 624.1 436.5 626.2 436.9 624.5 437.3 622.5 437.7 621.4 438.1 621.5 438.5 620.6 438.9 621.2 439.3 623.0 439.7 621.8 440.1 620.4 440.5 620.6 440.9 621.7 441.3 621.1 441.7 620.3 442.1 619.0 442.5 618.0 442.9 618.8 443.3 620.3 443.7 622.1 444.1 621.7 444.5 619.1 444.9 617.0 445.3 617.9 445.7 620.0 446.1 620.3 446.5 619.2 446.9 619.5 447.3 619.3 447.7 620.0 448.1 619.4 448.5 618.8 448.9 619.0 449.3 617.7 449.7 616.8 450.1 616.1 450.5 617.4 450.9 617.7 451.3 616.9 451.7 616.2 452.1 616.8 452.5 617.1 452.9 616.6 453.3 614.0 453.7 613.3 454.1 613.8 454.5 615.9 454.9 617.1 455.3 616.5 455.7 616.8 456.1 616.4 456.5 616.8 456.9 617.3 457.3 618.5 457.7 619.1 458.1 619.1 458.5 619.1 458.9 620.5 459.3 622.3 459.7 623.6 460.1 622.4 460.5 622.3 460.9 622.5 461.3 624.0 461.7 626.1 462.1 626.7 462.5 626.3 462.9 625.3 463.3 623.3 463.7 621.9 464.1 622.8 464.5 626.3 464.9 627.1 465.3 627.5 465.7 627.9 466.1 627.9 466.5 628.0 466.9 629.1 467.3 630.0 467.7 628.4 468.1 628.2 468.5 628.5 468.9 628.8 469.3 628.1 469.7 628.2 470.1 629.4 470.5 630.9 470.9 632.7 471.3 632.9 471.7 631.8 472.1 630.8 472.5 631.6 472.9 632.8 473.3 635.2 473.7 635.5 474.1 634.8 474.5 633.6 474.9 634.8 475.3 635.3 475.7 634.4 476.1 634.4 476.5 635.2 476.9 636.0 477.3 635.8 477.7 635.7 478.1 636.4 478.5 637.6 478.9 635.4 479.3 633.4 479.7 632.9 480.1 635.1 480.5 636.5 480.9 637.9 481.3 638.5 481.7 638.1 482.1 637.4 482.5 638.4 482.9 639.0 483.3 639.6 483.7 640.6 484.1 642.4 484.5 641.2 484.9 640.5 485.3 641.1 485.7 642.8 486.1 643.8 486.5 644.9 486.9 644.6 487.3 644.3 487.7 644.7 488.1 645.1 488.5 645.0 488.9 645.4 489.3 645.6 489.7 645.5 490.1 645.7 490.5 645.8 490.9 645.4 491.3 646.6 491.7 648.0 492.1 648.8 492.5 648.1 492.9 648.4 493.3 648.7 493.7 649.2 494.1 649.1 494.5 650.1 494.9 650.5 495.3 651.7 495.7 650.4 496.1 649.7 496.5 650.2 496.9 652.2 497.3 652.8 497.7 652.7 498.1 652.7 498.5 653.1 498.9 651.7 499.3 651.8 499.7 651.8 500.1 653.8 500.5 655.4 500.9 655.8 501.3 656.6 501.7 656.3 502.1 655.2 502.5 652.6 502.9 654.6 503.3 657.4 503.7 658.7 504.1 657.1 504.5 656.2 504.9 657.7 505.3 659.4 505.7 661.8 506.1 661.5 506.5 659.6 506.9 658.7 507.3 659.7 507.7 661.4 508.1 662.5 508.5 663.2 508.9 663.7 509.3 662.9 509.7 662.2 510.1 661.6 510.5 661.7 510.9 663.2 511.3 664.3 511.7 665.0 512.1 664.7 512.5 664.7 512.9 664.9 513.3 665.4 513.7 665.5 514.1 666.2 514.5 665.5 514.9 665.8 515.3 666.3 515.7 666.9 516.1 666.8 516.5 666.4 516.9 667.6 517.3 667.9 517.7 668.6 518.1 669.6 518.5 670.5 518.9 668.8 519.3 667.5 519.7 668.6 520.1 670.2 520.5 671.2 520.9 671.8 521.3 672.5 521.7 671.8 522.1 671.3 522.5 671.2 522.9 672.0 523.3 673.3 523.7 674.5 524.1 674.8 524.5 674.9 524.9 675.5 525.3 675.2 525.7 674.7 526.1 674.6 526.5 676.1 526.9 677.0 527.3 677.7 527.7 677.5 528.1 678.3 528.5 679.1 528.9 678.5 529.3 677.6 529.7 677.1 530.1 679.4 530.5 680.0 530.9 680.1 531.3 678.9 531.7 679.1 532.1 679.4 532.5 680.8 532.9 681.8 533.3 682.3 533.7 682.2 534.1 681.7 534.5 682.2 534.9 683.0 535.3 684.6 535.7 683.3 536.1 683.2 536.5 683.5 536.9 684.1 537.3 685.3 537.7 686.1 538.1 685.8 538.5 684.1 538.9 684.3 539.3 685.5 539.7 686.3 540.1 687.0 540.5 687.7 540.9 686.7 541.3 685.1 541.7 683.8 542.1 685.1 542.5 687.0 542.9 688.6 543.3 687.6 543.7 685.8 544.1 686.4 544.5 687.3 544.9 687.5 545.3 687.3 545.7 686.6 546.1 687.0 546.5 688.1 546.9 690.0 547.3 689.0 547.7 687.7 548.1 686.7 548.5 687.2 548.9 687.9 549.3 688.4 549.7 689.3 550.1 690.2 550.5 689.1 550.9 686.6 551.3 686.6 551.7 687.6 552.1 688.9 552.5 689.5 552.9 689.6 553.3 688.1 553.7 687.2 554.1 687.2 554.5 686.7 554.9 686.6 555.3 688.2 555.7 688.9 556.1 688.9 556.5 688.1 556.9 687.6 557.3 688.8 557.7 688.4 558.1 688.2 558.5 687.9 558.9 688.9 559.3 689.5 559.7 690.5 560.1 691.0 560.5 690.1 560.9 688.5 561.3 688.9 561.7 689.0 562.1 689.7 562.5 690.2 562.9 690.6 563.3 691.2 563.7 690.9 564.1 689.7 564.5 688.8 564.9 689.3 565.3 689.8 565.7 690.6 566.1 691.3 566.5 692.5 566.9 691.3 567.3 691.6 567.7 692.3 568.1 693.3 568.5 693.8 568.9 692.9 569.3 694.3 569.7 694.7 570.1 694.5 570.5 693.0 570.9 693.8 571.3 695.9 571.7 696.3 572.1 696.6 572.5 695.6 572.9 697.6 573.3 698.8 573.7 700.7 574.1 698.8 574.5 698.3 574.9 697.0 575.3 698.3 575.7 699.5 576.1 699.7 576.5 698.5 576.9 697.8 577.3 698.4 577.7 699.0 578.1 699.7 578.5 699.9 578.9 700.5 579.3 701.9 579.7 702.1 580.1 701.1 580.5 700.8 580.9 701.6 581.3 701.5 581.7 702.0 582.1 702.9 582.5 703.5 582.9 702.7 583.3 703.2 583.7 704.4 584.1 704.3 584.5 702.6 584.9 702.4 585.3 702.8 585.7 703.4 586.1 703.6 586.5 704.2 586.9 703.9 587.3 703.0 587.7 702.6 588.1 701.6 588.5 704.1 588.9 706.5 589.3 708.3 589.7 706.6 590.1 705.7 590.5 706.0 590.9 707.0 591.3 707.6 591.7 706.8 592.1 706.5 592.5 706.2 592.9 706.3 593.3 705.4 593.7 706.2 594.1 708.0 594.5 707.9 594.9 708.3 595.3 709.0 595.7 709.3 596.1 707.4 596.5 706.4 596.9 707.8 597.3 708.5 597.7 707.8 598.1 707.0 598.5 705.9 598.9 706.2 599.3 707.2 599.7 708.9 600.1 709.1 600.5 708.7 600.9 709.0 601.3 708.7 601.7 707.7 602.1 706.9 602.5 707.0 602.9 709.0 603.3 711.0 603.7 711.5 604.1 709.7 604.5 707.6 604.9 707.4 605.3 709.4 605.7 710.9 606.1 710.8 606.5 709.0 606.9 708.9 607.3 709.4 607.7 709.6 608.1 708.8 608.5 709.5 608.9 709.6 609.3 710.3 609.7 710.6 610.1 711.0 610.5 710.6 610.9 710.3 611.3 709.8 611.7 709.1 612.1 708.9 612.5 710.0 612.9 710.9 613.3 712.3 613.7 712.7 614.1 710.7 614.5 709.6 614.9 708.6 615.3 710.5 615.7 710.5 616.1 711.9 616.5 713.2 616.9 713.0 617.3 712.6 617.7 712.1 618.1 712.2 618.5 712.1 618.9 712.6 619.3 713.3 619.7 712.4 620.1 714.7 620.5 715.6 620.9 714.0 621.3 711.0 621.7 711.3 622.1 712.8 622.5 714.0 622.9 714.1 623.3 714.7 623.7 714.7 624.1 714.1 624.5 712.9 624.9 713.1 625.3 714.8 625.7 715.9 626.1 715.6 626.5 714.5 626.9 714.2 627.3 715.9 627.7 716.1 628.1 715.8 628.5 715.2 628.9 715.2 629.3 714.8 629.7 714.8 630.1 715.3 630.5 715.6 630.9 716.6 631.3 717.8 631.7 717.2 632.1 716.4 632.5 717.2 632.9 717.1 633.3 716.4 633.7 715.8 634.1 716.7 634.5 716.9 634.9 716.6 635.3 717.0 635.7 717.7 636.1 717.7 636.5 717.2 636.9 716.5 637.3 716.3 637.7 716.0 638.1 715.2 638.5 715.7 638.9 717.4 639.3 719.7 639.7 720.2 640.1 718.1 640.5 717.5 640.9 716.8 641.3 717.4 641.7 718.2 642.1 718.7 642.5 718.9 642.9 718.3 643.3 718.9 643.7 717.7 644.1 717.7 644.5 718.2 644.9 719.7 645.3 720.9 645.7 720.6 646.1 719.0 646.5 718.3 646.9 718.7 647.3 718.6 647.7 719.3 648.1 720.4 648.5 720.1 648.9 719.3 649.3 719.7 649.7 720.0 650.1 719.3 650.5 720.2 650.9 722.5 651.3 722.0 651.7 719.4 652.1 718.7 652.5 719.7 652.9 720.7 653.3 721.1 653.7 722.4 654.1 720.8 654.5 718.7 654.9 717.5 655.3 720.1 655.7 722.0 656.1 721.2 656.5 720.0 656.9 720.5 657.3 721.1 657.7 720.2 658.1 719.9 658.5 721.0 658.9 721.7 659.3 721.9 659.7 721.3 660.1 720.9 660.5 719.9 660.9 720.1 661.3 720.4 661.7 720.8 662.1 721.4 662.5 722.3 662.9 723.1 663.3 721.7 663.7 721.3 664.1 720.9 664.5 721.3 664.9 720.6 665.3 722.1 665.7 723.9 666.1 723.7 666.5 721.6 666.9 720.9 667.3 721.6 667.7 723.8 668.1 723.4 668.5 721.5 668.9 719.7 669.3 720.9 669.7 722.5 670.1 723.6 670.5 725.4 670.9 725.2 671.3 723.6 671.7 720.8 672.1 720.9 672.5 722.5 672.9 723.8 673.3 724.2 673.7 723.9 674.1 725.0 674.5 725.1 674.9 724.5 675.3 722.9 675.7 721.6 676.1 720.9 676.5 721.6 676.9 724.1 677.3 726.8 677.7 726.6 678.1 724.9 678.5 722.5 678.9 722.9 679.3 724.1 679.7 724.7 680.1 724.5 680.5 724.8 680.9 723.8 681.3 723.3 681.7 723.5 682.1 724.0 682.5 722.9 682.9 724.1 683.3 726.1 683.7 727.7 684.1 725.9 684.5 724.0 684.9 723.7 685.3 724.2 685.7 724.0 686.1 722.4 686.5 724.4 686.9 726.7 687.3 728.3 687.7 727.0 688.1 725.6 688.5 724.8 688.9 725.3 689.3 725.7 689.7 726.6 690.1 726.2 690.5 725.6 690.9 725.7 691.3 726.6 691.7 727.4 692.1 726.3 692.5 724.7 692.9 724.4 693.3 724.8 693.7 726.9 694.1 726.0 694.5 725.0 694.9 724.3 695.3 726.2 695.7 727.9 696.1 726.9 696.5 727.0 696.9 726.1 697.3 726.1 697.7 725.2 698.1 725.8 698.5 726.8 698.9 727.3 699.3 727.9 699.7 728.0 700.1 727.3 700.5 725.7 700.9 725.3 701.3 726.5 701.7 727.5 702.1 726.8 702.5 727.2 702.9 728.0 703.3 729.2 703.7 727.4 704.1 726.3 704.5 726.3 704.9 727.4 705.3 727.8 705.7 728.7 706.1 728.2 706.5 729.0 706.9 727.3 707.3 726.2 707.7 726.0 708.1 727.2 708.5 728.3 708.9 727.8 709.3 728.4 709.7 727.4 710.1 727.6 710.5 727.6 710.9 728.1 711.3 728.1 711.7 729.2 712.1 729.4 712.5 728.1 712.9 726.7 713.3 727.7 713.7 729.3 714.1 730.1 714.5 729.1 714.9 728.7 715.3 729.3 715.7 730.5 716.1 730.2 716.5 727.7 716.9 726.8 717.3 728.6 717.7 729.9 718.1 729.0 718.5 727.9 718.9 729.4 719.3 730.8 719.7 729.6 720.1 728.3 720.5 727.8 720.9 728.2 721.3 727.9 721.7 729.4 722.1 731.9 722.5 732.1 722.9 728.8 723.3 726.7 723.7 727.0 724.1 729.0 724.5 729.3 724.9 731.3 725.3 731.9 725.7 730.4 726.1 728.2 726.5 728.4 726.9 729.2 727.3 729.6 727.7 730.8 728.1 731.4 728.5 730.4 728.9 729.1 729.3 729.3 729.7 729.8 730.1 730.3 730.5 730.4 730.9 729.4 731.3 728.2 731.7 729.3 732.1 731.8 732.5 731.8 732.9 730.9 733.3 729.5 733.7 728.2 734.1 728.2 734.5 729.7 734.9 731.2 735.3 730.8 735.7 730.5 736.1 729.6 736.5 729.8 736.9 730.8 737.3 731.4 737.7 731.4 738.1 729.5 738.5 728.3 738.9 729.1 739.3 732.5 739.7 733.5 740.1 732.1 740.5 729.8 740.9 729.6 741.3 730.8 741.7 731.1 742.1 730.9 742.5 731.2 742.9 732.5 743.3 731.2 743.7 730.9 744.1 730.0 744.5 731.3 744.9 731.8 745.3 731.7 745.7 731.2 746.1 732.4 746.5 732.6 746.9 732.8 747.3 731.9 747.7 731.8 748.1 731.3 748.5 730.8 748.9 730.7 749.3 730.7 749.7 732.3 750.1 731.1 750.5 731.4 750.9 731.1 751.3 730.9 751.7 730.7 752.1 731.0 752.5 732.8 752.9 732.7 753.3 732.2 753.7 730.7 754.1 731.6 754.5 732.8 754.9 733.8 755.3 733.5 755.7 732.1 756.1 731.7 756.5 732.8 756.9 733.8 757.3 733.2 757.7 730.8 758.1 731.4 758.5 733.6 758.9 735.2 759.3 734.0 759.7 732.9 760.1 732.0 760.5 731.9 760.9 732.8 761.3 733.4 761.7 732.7 762.1 732.6 762.5 733.8 762.9 734.8 763.3 734.6 763.7 732.7 764.1 732.3 764.5 732.4 764.9 732.9 765.3 731.6 765.7 731.5 766.1 732.1 766.5 733.3 766.9 733.1 767.3 733.9 767.7 733.4 768.1 732.4 768.5 731.8 768.9 732.3 769.3 733.8 769.7 733.6 770.1 733.1 770.5 732.9 770.9 734.1 771.3 734.8 771.7 734.6 772.1 733.9 772.5 733.6 772.9 733.3 773.3 733.2 773.7 732.6 774.1 732.2 774.5 734.0 774.9 734.8 775.3 734.4 775.7 733.0 776.1 733.3 776.5 734.2 776.9 734.1 777.3 732.6 777.7 732.2 778.1 732.1 778.5 733.0 778.9 733.3 779.3 735.2 779.7 736.5 780.1 736.7 780.5 735.3 780.9 733.1 781.3 732.4 781.7 733.2 782.1 733.1 782.5 733.4 782.9 734.0 783.3 735.9 783.7 736.0 784.1 735.9 784.5 734.8 784.9 734.2 785.3 732.8 785.7 733.1 786.1 734.9 786.5 736.4 786.9 736.0 787.3 734.0 787.7 734.4 788.1 734.2 788.5 735.1 788.9 734.6 789.3 734.2 789.7 734.0 790.1 734.4 790.5 735.1 790.9 734.7 791.3 734.8 791.7 734.4 792.1 734.6 792.5 735.0 792.9 735.4 793.3 735.0 793.7 734.0 794.1 733.3 794.5 733.7 794.9 735.1 795.3 736.8 795.7 736.4 796.1 735.9 796.5 734.3 796.9 734.5 797.3 734.7 797.7 734.8 798.1 733.9 798.5 734.1 798.9 735.9 799.3 736.7 799.7 735.6 800.1 736.3 800.5 736.4 800.9 735.6 801.3 734.9 801.7 735.8 802.1 735.9 802.5 735.5 802.9 735.7 803.3 736.2 803.7 735.8 804.1 735.2 804.5 735.3 804.9 735.8 805.3 735.7 805.7 734.3 806.1 734.8 806.5 735.7 806.9 736.0 807.3 735.9 807.7 735.9 808.1 734.3 808.5 733.7 808.9 734.7 809.3 736.5 809.7 737.2 810.1 736.9 810.5 736.3 810.9 736.1 811.3 735.8 811.7 736.1 812.1 736.9 812.5 738.0 812.9 738.1 813.3 737.8 813.7 736.6 814.1 735.8 814.5 736.1 814.9 737.0 815.3 736.6 815.7 737.3 816.1 737.6 816.5 736.9 816.9 736.2 817.3 736.8 817.7 737.0 818.1 736.1 818.5 735.2 818.9 734.9 819.3 735.1 819.7 736.1 820.1 737.7 820.5 738.2 820.9 737.8 821.3 737.1 821.7 737.3 822.1 736.8 822.5 736.7 822.9 736.8 823.3 737.6 823.7 737.3 824.1 737.0 824.5 737.2 824.9 736.8 825.3 737.4 825.7 737.9 826.1 738.7 826.5 738.7 826.9 739.5 827.3 739.4 827.7 739.0 828.1 737.6 828.5 736.2 828.9 734.8 829.3 737.1 829.7 738.0 830.1 738.5 830.5 738.3 830.9 738.6 831.3 738.4 831.7 738.8 832.1 739.8 832.5 740.1 832.9 739.7 833.3 738.5 833.7 737.2 834.1 737.0 834.5 736.8 834.9 735.8 835.3 738.2 835.7 739.7 836.1 740.0 836.5 738.1 836.9 738.4 837.3 738.7 837.7 739.1 838.1 738.1 838.5 736.7 838.9 736.1 839.3 737.0 839.7 739.6 840.1 741.3 840.5 742.1 840.9 741.1 841.3 740.1 841.7 737.9 842.1 737.4 842.5 736.4 842.9 736.8 843.3 738.6 843.7 740.9 844.1 741.7 844.5 740.1 844.9 738.0 845.3 736.2 845.7 736.5 846.1 738.6 846.5 740.9 846.9 740.9 847.3 739.1 847.7 737.6 848.1 738.0 848.5 737.6 848.9 737.9 849.3 738.9 849.7 740.1 850.1 739.2 850.5 738.4 850.9 737.1 851.3 738.3 851.7 738.6 852.1 739.4 852.5 738.7 852.9 738.7 853.3 737.8 853.7 736.5 854.1 737.7 854.5 739.2 854.9 740.2 855.3 740.2 855.7 739.9 856.1 739.3 856.5 738.0 856.9 739.0 857.3 739.4 857.7 739.8 858.1 739.1 858.5 739.2 858.9 740.2 859.3 739.7 859.7 739.1 860.1 738.7 860.5 740.0 860.9 738.9 861.3 739.3 861.7 739.5 862.1 740.3 862.5 739.6 862.9 738.9 863.3 738.3 863.7 737.5 864.1 737.7 864.5 737.8 864.9 739.0 865.3 739.6 865.7 739.8 866.1 741.3 866.5 742.0 866.9 740.9 867.3 738.7 867.7 738.1 868.1 738.8 868.5 739.0 868.9 738.9 869.3 740.1 869.7 740.9 870.1 740.7 870.5 739.1 870.9 739.0 871.3 740.5 871.7 741.6 872.1 742.1 872.5 738.7 872.9 737.4 873.3 738.2 873.7 742.1 874.1 742.4 874.5 740.0 874.9 738.5 875.3 738.3 875.7 738.1 876.1 737.3 876.5 738.8 876.9 741.2 877.3 742.1 877.7 740.7 878.1 740.9 878.5 740.2 878.9 739.9 879.3 737.4 879.7 738.8 880.1 740.0 880.5 741.6 880.9 741.0 881.3 740.2 881.7 739.4 882.1 738.0 882.5 738.5 882.9 739.6 883.3 740.5 883.7 739.3 884.1 738.8 884.5 740.3 884.9 741.2 885.3 741.1 885.7 739.7 886.1 738.2 886.5 737.7 886.9 738.5 887.3 739.7 887.7 740.1 888.1 740.5 888.5 741.0 888.9 741.0 889.3 741.0 889.7 741.0 890.1 740.9 890.5 740.9 890.9 739.8 891.3 740.3 891.7 739.8 892.1 741.1 892.5 740.8 892.9 742.1 893.3 741.7 893.7 740.6 894.1 740.3 894.5 740.7 894.9 741.1 895.3 740.5 895.7 741.2 896.1 742.0 896.5 742.0 896.9 739.9 897.3 738.4 897.7 738.4 898.1 740.9 898.5 741.8 898.9 741.2 899.3 740.5 899.7 740.3 900.1 740.1 900.5 739.5 900.9 738.8 901.3 739.4 901.7 740.2 902.1 741.0 902.5 739.4 902.9 739.1 903.3 740.7 903.7 741.6 904.1 740.6 904.5 740.0 904.9 739.6 905.3 738.5 905.7 737.9 906.1 739.0 906.5 740.3 906.9 740.4 907.3 740.8 907.7 740.7 908.1 740.1 908.5 739.1 908.9 739.7 909.3 741.4 909.7 742.8 910.1 742.9 910.5 739.9 910.9 737.6 911.3 737.4 911.7 740.1 912.1 740.0 912.5 740.7 912.9 741.1 913.3 741.2 913.7 739.9 914.1 739.6 914.5 739.4 914.9 739.8 915.3 740.2 915.7 739.6 916.1 738.6 916.5 738.9 916.9 739.2 917.3 740.2 917.7 740.0 918.1 741.2 918.5 741.3 918.9 741.1 919.3 739.6 919.7 739.9 920.1 740.6 920.5 739.5 920.9 738.8 921.3 740.6 921.7 741.0 922.1 740.8 922.5 739.9 922.9 740.5 923.3 739.7 923.7 739.4 924.1 740.2 924.5 741.1 924.9 740.6 925.3 740.4 925.7 739.4 926.1 739.8 926.5 739.3 926.9 740.9 927.3 741.0 927.7 741.2 928.1 740.3 928.5 740.3 928.9 740.0 929.3 741.4 929.7 740.8 930.1 740.9 930.5 740.5 930.9 741.4 931.3 740.6 931.7 740.8 932.1 740.1 932.5 739.3 932.9 739.6 933.3 740.0 933.7 741.4 934.1 741.3 934.5 741.9 934.9 740.9 935.3 741.0 935.7 740.5 936.1 739.6 936.5 739.0 936.9 739.9 937.3 741.5 937.7 742.8 938.1 742.5 938.5 741.3 938.9 739.2 939.3 739.2 939.7 740.7 940.1 741.7 940.5 741.5 940.9 742.0 941.3 742.4 941.7 742.4 942.1 742.0 942.5 740.6 942.9 739.2 943.3 739.3 943.7 741.2 944.1 741.4 944.5 740.9 944.9 739.7 945.3 739.8 945.7 740.4 946.1 741.8 946.5 742.5 946.9 742.2 947.3 741.4 947.7 740.9 948.1 741.1 948.5 742.0 948.9 740.6 949.3 739.5 949.7 739.3 950.1 742.0 950.5 741.9 950.9 741.7 951.3 742.0 951.7 742.5 952.1 740.8 952.5 739.5 952.9 739.2 953.3 740.7 953.7 740.9 954.1 742.7 954.5 742.8 954.9 742.1 955.3 740.0 955.7 739.0 956.1 739.9 956.5 741.9 956.9 742.9 957.3 742.7 957.7 741.0 958.1 740.8 958.5 742.0 958.9 742.5 959.3 742.8 959.7 742.6 960.1 742.2 960.5 739.5 960.9 738.2 961.3 740.3 961.7 741.4 962.1 741.7 962.5 741.3 962.9 741.6 963.3 741.5 963.7 740.8 964.1 741.4 964.5 741.2 964.9 742.2 965.3 741.9 965.7 741.5 966.1 741.1 966.5 742.2 966.9 741.7 967.3 741.0 967.7 740.3 968.1 740.8 968.5 741.1 968.9 741.6 969.3 741.8 969.7 741.1 970.1 743.0 970.5 743.2 970.9 742.1 971.3 739.6 971.7 738.8 972.1 739.8 972.5 740.9 972.9 742.3 973.3 742.3 973.7 741.9 974.1 741.1 974.5 740.8 974.9 741.1 975.3 742.0 975.7 743.1 976.1 742.8 976.5 741.0 976.9 739.9 977.3 740.9 977.7 740.9 978.1 740.7 978.5 741.0 978.9 742.0 979.3 741.0 979.7 741.4 980.1 743.0 980.5 743.2 980.9 742.4 981.3 742.5 981.7 742.1 982.1 742.8 982.5 742.5 982.9 742.5 983.3 740.2 983.7 740.7 984.1 740.3 984.5 740.8 984.9 741.9 985.3 743.0 985.7 742.6 986.1 742.6 986.5 742.1 986.9 742.3 987.3 741.6 987.7 742.2 988.1 741.9 988.5 742.4 988.9 742.4 989.3 742.0 989.7 741.7 990.1 742.4 990.5 743.4 990.9 743.0 991.3 741.8 991.7 741.4 992.1 742.2 992.5 743.0 992.9 743.9 993.3 743.6 993.7 743.3 994.1 742.5 994.5 740.8 994.9 740.5 995.3 741.1 995.7 742.0 996.1 741.3 996.5 742.6 996.9 742.8 997.3 743.4 997.7 742.8 998.1 742.2 998.5 740.4 998.9 740.7 999.3 742.1 999.7 743.7 1000.1 744.6 1000.5 744.5 1000.9 743.7 1001.3 742.2 1001.7 742.1 1002.1 741.9 1002.5 741.6 1002.9 743.0 1003.3 742.7 1003.7 742.8 1004.1 742.4 1004.5 744.0 1004.9 743.3 1005.3 742.8 1005.7 742.6 1006.1 742.3 1006.5 742.4 1006.9 742.6 1007.3 742.8 1007.7 743.0 1008.1 742.7 1008.5 742.8 1008.9 742.2 1009.3 743.0 1009.7 743.2 1010.1 743.9 1010.5 742.9 1010.9 741.7 1011.3 740.9 1011.7 741.6 1012.1 743.1 1012.5 744.8 1012.9 744.7 1013.3 743.9 1013.7 742.3 1014.1 741.1 1014.5 740.7 1014.9 742.1 1015.3 742.8 1015.7 741.9 1016.1 742.3 1016.5 742.8 1016.9 742.2 1017.3 743.1 1017.7 744.3 1018.1 744.5 1018.5 743.2 1018.9 742.8 1019.3 743.9 1019.7 743.0 1020.1 742.0 1020.5 740.9 1020.9 741.9 1021.3 743.8 1021.7 743.2 1022.1 742.3 1022.5 741.2 1022.9 742.8 1023.3 744.1 1023.7 744.2 1024.1 745.1 1024.5 744.2 1024.9 743.4 1025.3 742.8 1025.7 743.3 1026.1 743.1 1026.5 742.7 1026.9 742.7 1027.3 742.4 1027.7 742.3 1028.1 741.7 1028.5 742.0 1028.9 741.4 1029.3 743.3 1029.7 744.9 1030.1 746.4 1030.5 744.3 1030.9 742.2 1031.3 742.3 1031.7 743.3 1032.1 744.4 1032.5 743.6 1032.9 744.2 1033.3 743.8 1033.7 744.1 1034.1 742.5 1034.5 742.2 1034.9 742.7 1035.3 743.7 1035.7 743.7 1036.1 743.7 1036.5 744.1 1036.9 744.8 1037.3 743.0 1037.7 742.6 1038.1 742.9 1038.5 743.6 1038.9 742.1 1039.3 742.5 1039.7 743.3 1040.1 743.3 1040.5 743.3 1040.9 743.9 1041.3 744.2 1041.7 743.4 1042.1 743.7 1042.5 744.4 1042.9 745.5 1043.3 743.6 1043.7 742.7 1044.1 743.1 1044.5 743.9 1044.9 744.1 1045.3 743.1 1045.7 744.1 1046.1 743.6 1046.5 745.4 1046.9 744.5 1047.3 743.4 1047.7 742.2 1048.1 742.8 1048.5 744.4 1048.9 745.2 1049.3 744.6 1049.7 744.1 1050.1 744.2 1050.5 744.7 1050.9 743.4 1051.3 742.2 1051.7 743.0 1052.1 744.7 1052.5 744.9 1052.9 743.2 1053.3 743.5 1053.7 743.7 1054.1 744.4 1054.5 743.4 1054.9 742.6 1055.3 741.9 1055.7 742.4 1056.1 744.3 1056.5 745.8 1056.9 745.8 1057.3 744.7 1057.7 744.0 1058.1 743.8 1058.5 742.6 1058.9 743.3 1059.3 744.4 1059.7 744.8 1060.1 743.6 1060.5 743.6 1060.9 743.3 1061.3 744.3 1061.7 745.9 1062.1 746.4 1062.5 744.6 1062.9 743.1 1063.3 742.2 1063.7 742.4 1064.1 743.5 1064.5 746.8 1064.9 747.7 1065.3 745.5 1065.7 743.7 1066.1 742.1 1066.5 742.1 1066.9 743.6 1067.3 746.4 1067.7 745.8 1068.1 742.9 1068.5 742.8 1068.9 744.4 1069.3 745.3 1069.7 745.1 1070.1 744.8 1070.5 743.7 1070.9 743.8 1071.3 744.6 1071.7 744.9 1072.1 743.3 1072.5 743.6 1072.9 743.9 1073.3 744.9 1073.7 745.0 1074.1 746.2 1074.5 745.8 1074.9 744.7 1075.3 742.2 1075.7 741.2 1076.1 742.7 1076.5 746.7 1076.9 747.1 1077.3 744.7 1077.7 742.8 1078.1 744.5 1078.5 745.3 1078.9 745.0 1079.3 743.7 1079.7 743.4 1080.1 744.4 1080.5 746.9 1080.9 747.1 1081.3 745.7 1081.7 744.7 1082.1 745.6 1082.5 746.4 1082.9 745.6 1083.3 745.0 1083.7 745.5 1084.1 745.5 1084.5 744.1 1084.9 743.9 1085.3 744.7 1085.7 745.4 1086.1 745.3 1086.5 744.9 1086.9 744.7" stroke="#ff0000" stroke-width="3.7" fill="none" stroke-linejoin="round"/>
<path d="M257.1 693.7L257.5 692.5 257.9 692.1 258.3 692.3 258.7 692.7 259.1 692.5 259.5 692.7 259.9 691.2 260.3 689.1 260.7 689.1 261.1 689.9 261.5 689.2 261.9 689.0 262.3 689.7 262.7 689.1 263.1 688.1 263.5 687.9 263.9 689.3 264.3 689.4 264.7 690.8 265.1 689.8 265.5 689.9 265.9 688.2 266.3 688.3 266.7 689.0 267.1 690.8 267.5 691.6 267.9 690.6 268.3 689.3 268.7 688.4 269.1 688.8 269.5 688.7 269.9 689.0 270.3 689.1 270.7 690.0 271.1 689.9 271.5 690.1 271.9 689.0 272.3 688.1 272.7 686.9 273.1 686.9 273.5 687.2 273.9 688.4 274.3 687.7 274.7 689.3 275.1 689.7 275.5 690.6 275.9 689.5 276.3 687.8 276.7 686.2 277.1 687.5 277.5 688.5 277.9 688.8 278.3 688.2 278.7 689.3 279.1 689.1 279.5 688.7 279.9 688.4 280.3 687.8 280.7 688.1 281.1 688.4 281.5 691.5 281.9 693.0 282.3 692.1 282.7 689.6 283.1 688.6 283.5 688.6 283.9 690.3 284.3 691.5 284.7 691.7 285.1 690.8 285.5 691.9 285.9 690.6 286.3 690.2 286.7 689.4 287.1 690.6 287.5 689.5 287.9 688.2 288.3 688.0 288.7 688.8 289.1 688.7 289.5 687.6 289.9 687.6 290.3 688.9 290.7 688.6 291.1 686.7 291.5 684.8 291.9 686.0 292.3 686.9 292.7 686.5 293.1 685.3 293.5 686.8 293.9 688.1 294.3 686.5 294.7 684.7 295.1 684.2 295.5 685.0 295.9 684.5 296.3 684.4 296.7 684.1 297.1 685.0 297.5 685.6 297.9 684.9 298.3 682.9 298.7 682.4 299.1 684.2 299.5 686.2 299.9 686.4 300.3 683.4 300.7 681.7 301.1 681.6 301.5 683.3 301.9 682.4 302.3 681.7 302.7 681.0 303.1 682.9 303.5 684.0 303.9 683.3 304.3 680.6 304.7 679.3 305.1 679.1 305.5 678.5 305.9 678.1 306.3 678.3 306.7 679.0 307.1 679.1 307.5 679.2 307.9 678.9 308.3 677.5 308.7 674.8 309.1 673.6 309.5 674.4 309.9 675.9 310.3 676.8 310.7 675.9 311.1 674.1 311.5 673.2 311.9 674.3 312.3 674.4 312.7 673.7 313.1 673.9 313.5 674.3 313.9 673.5 314.3 670.8 314.7 671.0 315.1 672.2 315.5 673.5 315.9 672.0 316.3 670.1 316.7 669.3 317.1 669.6 317.5 670.9 317.9 670.1 318.3 670.2 318.7 669.5 319.1 670.3 319.5 668.7 319.9 668.5 320.3 668.9 320.7 669.9 321.1 668.8 321.5 667.5 321.9 668.1 322.3 668.1 322.7 666.8 323.1 666.4 323.5 666.9 323.9 667.6 324.3 666.6 324.7 665.0 325.1 663.4 325.5 665.0 325.9 665.8 326.3 665.3 326.7 664.0 327.1 663.3 327.5 663.5 327.9 664.0 328.3 664.8 328.7 662.7 329.1 660.4 329.5 657.7 329.9 658.0 330.3 659.4 330.7 661.5 331.1 662.2 331.5 661.4 331.9 659.6 332.3 658.5 332.7 659.8 333.1 659.8 333.5 659.5 333.9 658.6 334.3 658.6 334.7 658.6 335.1 658.3 335.5 657.2 335.9 656.8 336.3 657.4 336.7 657.5 337.1 656.5 337.5 656.2 337.9 655.5 338.3 655.3 338.7 655.0 339.1 655.9 339.5 656.4 339.9 656.4 340.3 654.9 340.7 653.6 341.1 652.5 341.5 654.4 341.9 655.2 342.3 655.4 342.7 654.6 343.1 654.0 343.5 652.7 343.9 651.7 344.3 652.1 344.7 651.5 345.1 651.3 345.5 652.9 345.9 654.4 346.3 654.3 346.7 652.9 347.1 650.9 347.5 650.8 347.9 651.6 348.3 652.1 348.7 651.4 349.1 651.2 349.5 651.2 349.9 650.1 350.3 649.3 350.7 648.8 351.1 649.5 351.5 650.2 351.9 650.8 352.3 650.0 352.7 649.0 353.1 649.9 353.5 649.2 353.9 649.6 354.3 649.3 354.7 650.6 355.1 649.6 355.5 649.3 355.9 648.5 356.3 647.5 356.7 647.7 357.1 647.9 357.5 649.3 357.9 650.5 358.3 648.8 358.7 645.7 359.1 645.0 359.5 647.4 359.9 648.1 360.3 647.7 360.7 647.4 361.1 647.5 361.5 648.3 361.9 648.2 362.3 647.7 362.7 645.3 363.1 644.3 363.5 643.3 363.9 645.4 364.3 647.8 364.7 649.1 365.1 646.5 365.5 643.9 365.9 643.7 366.3 644.9 366.7 646.2 367.1 647.1 367.5 645.0 367.9 644.1 368.3 644.0 368.7 645.3 369.1 645.5 369.5 645.8 369.9 644.3 370.3 641.6 370.7 641.4 371.1 642.9 371.5 644.8 371.9 644.2 372.3 642.3 372.7 641.7 373.1 641.9 373.5 642.8 373.9 642.5 374.3 642.8 374.7 641.7 375.1 641.8 375.5 641.6 375.9 641.2 376.3 640.8 376.7 640.7 377.1 641.1 377.5 641.1 377.9 640.8 378.3 639.9 378.7 639.5 379.1 640.6 379.5 641.0 379.9 640.3 380.3 638.7 380.7 639.2 381.1 639.7 381.5 639.5 381.9 638.9 382.3 639.0 382.7 639.7 383.1 640.2 383.5 638.9 383.9 637.0 384.3 634.7 384.7 635.8 385.1 638.0 385.5 640.7 385.9 640.2 386.3 639.7 386.7 638.9 387.1 638.3 387.5 636.4 387.9 635.4 388.3 635.1 388.7 636.8 389.1 638.6 389.5 638.6 389.9 637.6 390.3 636.8 390.7 636.6 391.1 635.1 391.5 634.2 391.9 633.9 392.3 634.4 392.7 634.8 393.1 635.2 393.5 634.8 393.9 634.8 394.3 634.1 394.7 634.1 395.1 632.9 395.5 632.9 395.9 632.7 396.3 633.1 396.7 631.3 397.1 630.8 397.5 631.0 397.9 631.9 398.3 631.8 398.7 631.8 399.1 630.7 399.5 630.7 399.9 631.0 400.3 630.2 400.7 629.4 401.1 629.9 401.5 630.9 401.9 631.1 402.3 630.8 402.7 630.5 403.1 629.7 403.5 628.7 403.9 629.5 404.3 630.3 404.7 630.8 405.1 629.1 405.5 629.1 405.9 628.9 406.3 631.9 406.7 632.2 407.1 631.5 407.5 630.3 407.9 632.3 408.3 631.9 408.7 631.0 409.1 631.7 409.5 632.6 409.9 632.8 410.3 632.3 410.7 631.9 411.1 630.7 411.5 630.5 411.9 630.0 412.3 631.1 412.7 631.4 413.1 630.7 413.5 629.1 413.9 629.2 414.3 630.0 414.7 629.4 415.1 629.1 415.5 628.0 415.9 628.0 416.3 627.7 416.7 627.6 417.1 628.6 417.5 628.4 417.9 627.1 418.3 625.4 418.7 626.0 419.1 626.7 419.5 627.3 419.9 625.9 420.3 625.0 420.7 624.4 421.1 624.9 421.5 624.8 421.9 623.5 422.3 623.0 422.7 622.8 423.1 622.5 423.5 621.4 423.9 622.1 424.3 622.7 424.7 622.4 425.1 620.8 425.5 619.5 425.9 617.8 426.3 617.2 426.7 618.4 427.1 619.5 427.5 618.5 427.9 617.0 428.3 615.8 428.7 614.8 429.1 613.6 429.5 612.6 429.9 610.9 430.3 610.5 430.7 609.2 431.1 608.5 431.5 605.8 431.9 605.2 432.3 603.8 432.7 603.2 433.1 600.5 433.5 598.7 433.9 597.7 434.3 596.9 434.7 595.3 435.1 594.4 435.5 592.9 435.9 590.7 436.3 587.4 436.7 585.7 437.1 584.9 437.5 586.1 437.9 585.7 438.3 584.1 438.7 582.2 439.1 580.3 439.5 579.5 439.9 577.9 440.3 577.4 440.7 577.0 441.1 577.4 441.5 577.9 441.9 575.8 442.3 574.5 442.7 572.8 443.1 572.7 443.5 571.0 443.9 571.2 444.3 571.4 444.7 571.7 445.1 570.7 445.5 570.5 445.9 572.9 446.3 575.1 446.7 576.0 447.1 576.0 447.5 576.9 447.9 577.9 448.3 579.0 448.7 580.3 449.1 581.3 449.5 580.9 449.9 581.0 450.3 581.3 450.7 582.9 451.1 583.7 451.5 584.4 451.9 584.7 452.3 586.3 452.7 588.1 453.1 588.6 453.5 589.8 453.9 592.8 454.3 595.2 454.7 596.0 455.1 596.2 455.5 597.9 455.9 601.3 456.3 605.3 456.7 608.0 457.1 609.1 457.5 608.6 457.9 608.9 458.3 610.6 458.7 613.4 459.1 615.5 459.5 616.3 459.9 616.2 460.3 614.7 460.7 615.4 461.1 616.7 461.5 619.2 461.9 619.6 462.3 619.6 462.7 620.1 463.1 620.2 463.5 620.8 463.9 621.7 464.3 622.4 464.7 621.4 465.1 621.5 465.5 623.1 465.9 625.4 466.3 626.9 466.7 627.5 467.1 628.3 467.5 630.2 467.9 631.8 468.3 632.1 468.7 631.6 469.1 633.1 469.5 636.0 469.9 637.3 470.3 637.7 470.7 638.3 471.1 639.4 471.5 639.0 471.9 638.3 472.3 638.5 472.7 639.3 473.1 641.3 473.5 642.5 473.9 643.1 474.3 643.1 474.7 642.3 475.1 642.7 475.5 644.3 475.9 644.8 476.3 645.0 476.7 645.7 477.1 646.6 477.5 647.2 477.9 646.2 478.3 644.6 478.7 644.5 479.1 647.1 479.5 648.1 479.9 649.2 480.3 650.4 480.7 650.2 481.1 648.9 481.5 650.0 481.9 653.0 482.3 653.1 482.7 652.7 483.1 652.4 483.5 652.9 483.9 652.8 484.3 652.7 484.7 653.4 485.1 654.9 485.5 656.7 485.9 657.3 486.3 656.8 486.7 656.7 487.1 657.0 487.5 656.4 487.9 656.0 488.3 656.3 488.7 657.1 489.1 657.2 489.5 658.0 489.9 660.2 490.3 660.4 490.7 659.0 491.1 658.5 491.5 659.6 491.9 659.9 492.3 660.0 492.7 660.6 493.1 661.3 493.5 662.9 493.9 664.1 494.3 664.5 494.7 663.6 495.1 665.3 495.5 666.7 495.9 666.1 496.3 664.9 496.7 665.2 497.1 666.2 497.5 666.9 497.9 668.0 498.3 668.9 498.7 668.7 499.1 669.3 499.5 669.2 499.9 670.0 500.3 670.7 500.7 672.3 501.1 670.9 501.5 672.0 501.9 672.1 502.3 673.1 502.7 673.5 503.1 675.2 503.5 675.6 503.9 673.9 504.3 673.9 504.7 675.0 505.1 677.5 505.5 678.2 505.9 678.3 506.3 678.4 506.7 678.4 507.1 678.1 507.5 679.6 507.9 680.3 508.3 681.3 508.7 680.7 509.1 682.1 509.5 681.3 509.9 681.5 510.3 681.3 510.7 681.9 511.1 682.1 511.5 681.8 511.9 682.0 512.3 682.1 512.7 683.4 513.1 683.9 513.5 683.1 513.9 682.0 514.3 682.1 514.7 682.7 515.1 684.0 515.5 685.2 515.9 686.4 516.3 685.4 516.7 684.9 517.1 685.6 517.5 685.9 517.9 686.6 518.3 686.8 518.7 687.7 519.1 687.7 519.5 687.4 519.9 687.8 520.3 687.5 520.7 687.6 521.1 688.8 521.5 690.4 521.9 690.2 522.3 690.1 522.7 690.9 523.1 689.6 523.5 688.5 523.9 690.5 524.3 693.3 524.7 694.5 525.1 693.9 525.5 693.1 525.9 691.1 526.3 691.2 526.7 692.7 527.1 694.6 527.5 694.8 527.9 692.6 528.3 691.6 528.7 691.3 529.1 693.3 529.5 693.7 529.9 694.5 530.3 693.3 530.7 694.3 531.1 693.8 531.5 694.1 531.9 695.0 532.3 696.5 532.7 695.5 533.1 694.3 533.5 695.7 533.9 697.4 534.3 696.1 534.7 695.1 535.1 693.7 535.5 695.8 535.9 696.9 536.3 697.6 536.7 696.5 537.1 696.9 537.5 696.5 537.9 696.8 538.3 696.9 538.7 696.1 539.1 695.8 539.5 697.9 539.9 699.9 540.3 699.1 540.7 696.9 541.1 696.1 541.5 697.4 541.9 699.1 542.3 699.7 542.7 698.5 543.1 698.6 543.5 699.1 543.9 699.2 544.3 697.3 544.7 696.5 545.1 698.1 545.5 700.0 545.9 700.5 546.3 700.1 546.7 699.4 547.1 699.5 547.5 700.1 547.9 700.7 548.3 700.7 548.7 700.3 549.1 699.7 549.5 700.1 549.9 700.0 550.3 701.3 550.7 701.4 551.1 701.6 551.5 700.2 551.9 700.1 552.3 700.5 552.7 701.6 553.1 701.7 553.5 700.7 553.9 700.5 554.3 701.5 554.7 703.0 555.1 704.3 555.5 704.5 555.9 702.6 556.3 701.4 556.7 701.0 557.1 701.6 557.5 703.2 557.9 705.7 558.3 706.3 558.7 705.0 559.1 704.3 559.5 703.6 559.9 704.0 560.3 704.6 560.7 706.9 561.1 706.4 561.5 706.7 561.9 705.6 562.3 706.8 562.7 706.3 563.1 707.2 563.5 706.8 563.9 706.6 564.3 705.8 564.7 706.6 565.1 707.8 565.5 709.4 565.9 710.1 566.3 708.0 566.7 706.2 567.1 705.3 567.5 707.2 567.9 709.0 568.3 709.8 568.7 708.6 569.1 707.9 569.5 708.5 569.9 710.0 570.3 710.5 570.7 710.9 571.1 711.1 571.5 710.8 571.9 710.0 572.3 708.3 572.7 708.9 573.1 710.4 573.5 712.6 573.9 712.8 574.3 711.3 574.7 709.7 575.1 709.3 575.5 710.5 575.9 712.9 576.3 712.8 576.7 710.7 577.1 710.6 577.5 711.6 577.9 712.4 578.3 710.7 578.7 711.4 579.1 711.7 579.5 712.3 579.9 712.0 580.3 711.4 580.7 711.6 581.1 712.8 581.5 714.2 581.9 713.5 582.3 711.5 582.7 710.8 583.1 711.5 583.5 712.4 583.9 712.5 584.3 713.0 584.7 713.4 585.1 713.9 585.5 713.6 585.9 713.9 586.3 713.1 586.7 713.8 587.1 714.3 587.5 715.2 587.9 714.8 588.3 715.5 588.7 716.1 589.1 716.1 589.5 715.4 589.9 713.7 590.3 713.6 590.7 714.2 591.1 715.4 591.5 716.9 591.9 716.2 592.3 715.3 592.7 714.9 593.1 717.3 593.5 718.3 593.9 716.7 594.3 714.8 594.7 714.4 595.1 715.6 595.5 717.6 595.9 718.0 596.3 718.1 596.7 717.3 597.1 717.2 597.5 717.4 597.9 717.3 598.3 717.8 598.7 718.0 599.1 718.8 599.5 718.1 599.9 717.1 600.3 717.4 600.7 719.0 601.1 719.3 601.5 718.5 601.9 717.7 602.3 719.4 602.7 719.4 603.1 720.6 603.5 719.5 603.9 720.1 604.3 719.1 604.7 719.5 605.1 720.0 605.5 720.8 605.9 720.7 606.3 719.2 606.7 720.0 607.1 721.9 607.5 722.6 607.9 720.9 608.3 720.1 608.7 720.4 609.1 721.6 609.5 721.2 609.9 720.5 610.3 719.3 610.7 720.7 611.1 722.5 611.5 723.2 611.9 722.4 612.3 722.2 612.7 722.3 613.1 721.1 613.5 721.0 613.9 722.3 614.3 723.2 614.7 723.8 615.1 724.0 615.5 722.5 615.9 721.3 616.3 721.7 616.7 724.1 617.1 724.4 617.5 723.9 617.9 722.8 618.3 723.0 618.7 722.0 619.1 721.5 619.5 721.7 619.9 723.9 620.3 726.3 620.7 726.2 621.1 723.9 621.5 721.6 621.9 722.1 622.3 722.9 622.7 724.2 623.1 725.8 623.5 725.4 623.9 723.6 624.3 721.7 624.7 723.7 625.1 726.6 625.5 727.0 625.9 724.4 626.3 723.3 626.7 725.4 627.1 727.7 627.5 727.9 627.9 727.2 628.3 726.7 628.7 726.4 629.1 727.6 629.5 728.5 629.9 727.9 630.3 726.2 630.7 725.3 631.1 725.8 631.5 727.0 631.9 727.3 632.3 727.5 632.7 728.8 633.1 730.2 633.5 728.5 633.9 726.5 634.3 726.3 634.7 726.6 635.1 726.6 635.5 726.7 635.9 727.5 636.3 728.3 636.7 727.6 637.1 728.3 637.5 729.1 637.9 730.1 638.3 728.1 638.7 728.1 639.1 727.9 639.5 729.3 639.9 729.5 640.3 729.0 640.7 727.2 641.1 728.1 641.5 730.3 641.9 730.8 642.3 729.8 642.7 729.5 643.1 729.2 643.5 729.0 643.9 728.8 644.3 729.0 644.7 729.4 645.1 729.3 645.5 729.6 645.9 729.5 646.3 730.3 646.7 730.4 647.1 731.1 647.5 731.2 647.9 731.0 648.3 730.2 648.7 730.1 649.1 729.3 649.5 729.1 649.9 729.5 650.3 730.4 650.7 730.7 651.1 729.6 651.5 730.2 651.9 730.1 652.3 730.9 652.7 730.7 653.1 732.1 653.5 732.1 653.9 731.2 654.3 729.1 654.7 728.8 655.1 729.3 655.5 731.0 655.9 732.6 656.3 731.8 656.7 729.4 657.1 728.7 657.5 731.5 657.9 732.8 658.3 732.5 658.7 731.8 659.1 731.9 659.5 732.9 659.9 733.4 660.3 732.1 660.7 730.4 661.1 730.5 661.5 731.3 661.9 731.6 662.3 731.6 662.7 731.8 663.1 732.7 663.5 733.0 663.9 732.3 664.3 730.8 664.7 730.9 665.1 733.1 665.5 734.4 665.9 735.0 666.3 734.0 666.7 732.2 667.1 731.0 667.5 730.9 667.9 731.5 668.3 730.9 668.7 732.8 669.1 733.5 669.5 733.2 669.9 733.3 670.3 735.1 670.7 734.3 671.1 732.8 671.5 732.3 671.9 733.1 672.3 733.9 672.7 734.2 673.1 733.9 673.5 734.5 673.9 734.2 674.3 733.7 674.7 733.7 675.1 734.5 675.5 734.0 675.9 732.9 676.3 733.4 676.7 733.6 677.1 734.7 677.5 735.4 677.9 735.6 678.3 734.4 678.7 733.5 679.1 733.5 679.5 733.0 679.9 733.5 680.3 734.1 680.7 735.0 681.1 733.4 681.5 733.6 681.9 735.2 682.3 737.0 682.7 735.4 683.1 733.6 683.5 733.6 683.9 734.9 684.3 735.3 684.7 735.8 685.1 735.3 685.5 735.2 685.9 734.5 686.3 734.6 686.7 735.4 687.1 735.9 687.5 735.9 687.9 734.8 688.3 734.5 688.7 734.2 689.1 736.0 689.5 736.4 689.9 736.8 690.3 735.4 690.7 735.3 691.1 735.6 691.5 737.5 691.9 737.1 692.3 735.4 692.7 735.5 693.1 735.8 693.5 736.4 693.9 735.6 694.3 736.1 694.7 737.3 695.1 739.2 695.5 739.6 695.9 736.7 696.3 735.3 696.7 735.3 697.1 736.6 697.5 737.6 697.9 736.7 698.3 736.1 698.7 735.5 699.1 736.1 699.5 737.1 699.9 737.0 700.3 737.3 700.7 736.7 701.1 736.3 701.5 734.9 701.9 734.4 702.3 736.8 702.7 739.0 703.1 740.1 703.5 739.1 703.9 736.2 704.3 734.6 704.7 734.2 705.1 736.2 705.5 737.5 705.9 739.4 706.3 739.4 706.7 738.7 707.1 736.8 707.5 736.4 707.9 736.0 708.3 737.7 708.7 737.8 709.1 738.2 709.5 737.2 709.9 737.5 710.3 737.9 710.7 738.2 711.1 738.3 711.5 737.2 711.9 738.1 712.3 738.3 712.7 739.6 713.1 740.5 713.5 739.3 713.9 736.7 714.3 735.3 714.7 737.9 715.1 738.8 715.5 738.8 715.9 737.7 716.3 738.3 716.7 737.8 717.1 738.5 717.5 736.6 717.9 735.2 718.3 736.0 718.7 738.7 719.1 739.0 719.5 738.9 719.9 740.0 720.3 741.1 720.7 739.6 721.1 739.2 721.5 739.0 721.9 738.2 722.3 737.9 722.7 738.1 723.1 740.2 723.5 741.1 723.9 740.7 724.3 739.0 724.7 738.2 725.1 739.3 725.5 739.6 725.9 739.1 726.3 739.1 726.7 739.9 727.1 740.9 727.5 740.9 727.9 739.8 728.3 737.7 728.7 738.2 729.1 739.6 729.5 740.9 729.9 740.6 730.3 739.8 730.7 739.3 731.1 737.7 731.5 737.9 731.9 737.9 732.3 740.7 732.7 741.7 733.1 741.7 733.5 740.2 733.9 740.2 734.3 739.9 734.7 739.5 735.1 739.2 735.5 741.4 735.9 742.2 736.3 740.2 736.7 738.2 737.1 740.2 737.5 741.4 737.9 742.6 738.3 742.0 738.7 742.5 739.1 740.4 739.5 740.3 739.9 739.3 740.3 739.1 740.7 738.2 741.1 739.7 741.5 740.4 741.9 741.6 742.3 741.2 742.7 741.3 743.1 740.7 743.5 740.6 743.9 741.0 744.3 741.3 744.7 741.8 745.1 741.5 745.5 740.0 745.9 739.1 746.3 739.7 746.7 741.7 747.1 743.3 747.5 743.0 747.9 741.9 748.3 740.8 748.7 741.1 749.1 740.8 749.5 741.0 749.9 740.3 750.3 740.4 750.7 741.7 751.1 741.6 751.5 740.9 751.9 739.7 752.3 741.4 752.7 743.4 753.1 744.0 753.5 741.1 753.9 739.7 754.3 741.4 754.7 742.5 755.1 741.6 755.5 741.2 755.9 740.5 756.3 740.7 756.7 742.0 757.1 743.7 757.5 742.4 757.9 741.0 758.3 740.2 758.7 741.3 759.1 741.6 759.5 742.8 759.9 743.1 760.3 742.0 760.7 741.8 761.1 742.7 761.5 743.9 761.9 743.0 762.3 741.9 762.7 741.7 763.1 740.2 763.5 740.2 763.9 741.3 764.3 744.2 764.7 744.4 765.1 741.9 765.5 741.2 765.9 741.7 766.3 742.8 766.7 743.2 767.1 742.9 767.5 743.2 767.9 742.1 768.3 743.4 768.7 742.6 769.1 742.8 769.5 741.3 769.9 742.6 770.3 743.7 770.7 744.3 771.1 744.3 771.5 744.4 771.9 744.5 772.3 742.9 772.7 740.7 773.1 739.2 773.5 740.6 773.9 742.8 774.3 744.4 774.7 744.6 775.1 744.3 775.5 743.2 775.9 741.6 776.3 740.4 776.7 742.0 777.1 744.3 777.5 744.3 777.9 742.3 778.3 741.6 778.7 743.5 779.1 743.7 779.5 743.3 779.9 743.3 780.3 742.6 780.7 741.4 781.1 740.9 781.5 742.1 781.9 744.3 782.3 745.8 782.7 746.0 783.1 743.5 783.5 743.3 783.9 744.3 784.3 744.7 784.7 743.6 785.1 741.9 785.5 741.8 785.9 743.1 786.3 745.4 786.7 746.0 787.1 745.6 787.5 744.3 787.9 743.1 788.3 743.5 788.7 744.6 789.1 744.2 789.5 743.4 789.9 744.0 790.3 745.1 790.7 744.7 791.1 743.6 791.5 743.3 791.9 744.8 792.3 745.8 792.7 744.9 793.1 743.7 793.5 742.8 793.9 743.1 794.3 743.0 794.7 744.3 795.1 744.5 795.5 745.3 795.9 746.5 796.3 746.5 796.7 744.8 797.1 743.4 797.5 744.0 797.9 744.9 798.3 744.6 798.7 745.0 799.1 744.9 799.5 743.5 799.9 742.4 800.3 743.1 800.7 745.6 801.1 745.6 801.5 744.4 801.9 744.0 802.3 744.2 802.7 744.6 803.1 744.4 803.5 745.4 803.9 745.2 804.3 743.8 804.7 743.5 805.1 743.4 805.5 743.7 805.9 744.6 806.3 746.3 806.7 745.9 807.1 743.9 807.5 743.3 807.9 743.5 808.3 742.5 808.7 743.1 809.1 744.5 809.5 745.7 809.9 744.6 810.3 743.8 810.7 744.1 811.1 743.7 811.5 743.1 811.9 742.8 812.3 744.1 812.7 744.9 813.1 744.4 813.5 743.2 813.9 744.3 814.3 744.9 814.7 744.8 815.1 743.4 815.5 744.7 815.9 745.1 816.3 744.9 816.7 743.2 817.1 742.8 817.5 744.1 817.9 745.8 818.3 745.3 818.7 745.5 819.1 745.5 819.5 745.5 819.9 744.5 820.3 744.7 820.7 745.0 821.1 744.6 821.5 745.1 821.9 745.0 822.3 743.8 822.7 743.7 823.1 743.8 823.5 745.3 823.9 745.4 824.3 745.8 824.7 744.9 825.1 745.4 825.5 745.3 825.9 744.5 826.3 743.9 826.7 742.7 827.1 742.5 827.5 742.9 827.9 744.7 828.3 745.6 828.7 746.1 829.1 746.1 829.5 744.7 829.9 744.8 830.3 744.5 830.7 744.0 831.1 744.0 831.5 745.3 831.9 747.0 832.3 746.5 832.7 743.9 833.1 742.2 833.5 743.6 833.9 745.2 834.3 746.0 834.7 746.9 835.1 746.5 835.5 744.4 835.9 742.5 836.3 743.6 836.7 745.4 837.1 747.2 837.5 746.2 837.9 744.7 838.3 743.4 838.7 742.9 839.1 742.5 839.5 742.3 839.9 743.1 840.3 744.6 840.7 746.1 841.1 746.0 841.5 744.8 841.9 744.1 842.3 744.7 842.7 745.2 843.1 745.2 843.5 744.6 843.9 744.3 844.3 744.2 844.7 744.0 845.1 744.9 845.5 744.3 845.9 744.6 846.3 743.4 846.7 745.2 847.1 746.2 847.5 746.3 847.9 744.2 848.3 742.5 848.7 742.8 849.1 743.9 849.5 746.8 849.9 746.4 850.3 745.7 850.7 743.8 851.1 744.4 851.5 744.4 851.9 745.4 852.3 745.3 852.7 744.4 853.1 744.0 853.5 744.1 853.9 745.6 854.3 745.4 854.7 744.6 855.1 743.2 855.5 743.1 855.9 743.0 856.3 744.7 856.7 747.4 857.1 748.8 857.5 746.6 857.9 744.0 858.3 742.2 858.7 743.1 859.1 744.8 859.5 746.8 859.9 747.3 860.3 746.4 860.7 744.1 861.1 741.6 861.5 741.7 861.9 744.1 862.3 746.5 862.7 746.2 863.1 745.1 863.5 744.2 863.9 745.1 864.3 745.3 864.7 744.3 865.1 744.4 865.5 745.6 865.9 747.1 866.3 746.0 866.7 745.6 867.1 744.4 867.5 743.5 867.9 743.2 868.3 744.2 868.7 745.7 869.1 746.7 869.5 746.8 869.9 747.0 870.3 745.8 870.7 745.7 871.1 743.8 871.5 744.1 871.9 743.9 872.3 744.9 872.7 745.4 873.1 744.5 873.5 744.2 873.9 743.8 874.3 745.2 874.7 745.8 875.1 746.3 875.5 745.6 875.9 744.5 876.3 744.8 876.7 744.9 877.1 745.6 877.5 744.2 877.9 744.9 878.3 744.3 878.7 745.3 879.1 744.5 879.5 745.0 879.9 744.1 880.3 744.5 880.7 744.1 881.1 744.8 881.5 745.1 881.9 745.5 882.3 746.0 882.7 745.6 883.1 745.9 883.5 745.4 883.9 744.7 884.3 744.0 884.7 744.4 885.1 746.6 885.5 746.5 885.9 746.2 886.3 745.1 886.7 743.8 887.1 743.5 887.5 743.3 887.9 745.5 888.3 747.0 888.7 747.5 889.1 744.9 889.5 743.4 889.9 744.2 890.3 746.2 890.7 746.3 891.1 745.0 891.5 744.1 891.9 744.0 892.3 746.2 892.7 746.7 893.1 746.5 893.5 745.1 893.9 744.7 894.3 744.5 894.7 744.5 895.1 745.0 895.5 745.0 895.9 745.9 896.3 746.7 896.7 745.5 897.1 743.9 897.5 744.2 897.9 745.0 898.3 745.3 898.7 745.1 899.1 746.0 899.5 746.0 899.9 745.7 900.3 744.7 900.7 744.8 901.1 744.6 901.5 746.1 901.9 746.4 902.3 746.4 902.7 745.7 903.1 746.0 903.5 746.3 903.9 745.8 904.3 745.4 904.7 744.5 905.1 744.2 905.5 745.7 905.9 746.2 906.3 745.8 906.7 744.7 907.1 745.5 907.5 747.5 907.9 747.5 908.3 746.8 908.7 745.7 909.1 746.0 909.5 746.0 909.9 745.2 910.3 745.5 910.7 745.3 911.1 745.2 911.5 745.4 911.9 746.4 912.3 747.6 912.7 745.3 913.1 743.8 913.5 742.9 913.9 744.6 914.3 746.2 914.7 745.4 915.1 744.2 915.5 743.7 915.9 745.9 916.3 746.5 916.7 745.7 917.1 744.7 917.5 744.2 917.9 744.6 918.3 744.9 918.7 745.3 919.1 745.4 919.5 744.2 919.9 745.8 920.3 747.6 920.7 749.1 921.1 746.4 921.5 743.2 921.9 741.8 922.3 743.1 922.7 746.6 923.1 748.6 923.5 747.8 923.9 746.1 924.3 746.1 924.7 746.7 925.1 746.9 925.5 746.8 925.9 746.2 926.3 744.5 926.7 744.3 927.1 746.0 927.5 746.2 927.9 744.6 928.3 743.9 928.7 743.1 929.1 744.6 929.5 745.1 929.9 747.0 930.3 747.0 930.7 746.3 931.1 744.3 931.5 744.5 931.9 746.1 932.3 746.2 932.7 744.9 933.1 745.9 933.5 747.1 933.9 747.0 934.3 745.7 934.7 744.3 935.1 744.4 935.5 745.7 935.9 746.2 936.3 746.8 936.7 745.4 937.1 745.1 937.5 745.6 937.9 747.7 938.3 747.7 938.7 745.8 939.1 744.3 939.5 744.4 939.9 745.8 940.3 746.5 940.7 745.5 941.1 744.5 941.5 745.3 941.9 747.3 942.3 746.8 942.7 745.3 943.1 743.3 943.5 743.5 943.9 746.7 944.3 749.2 944.7 748.6 945.1 745.5 945.5 744.2 945.9 743.0 946.3 743.5 946.7 744.7 947.1 746.8 947.5 745.9 947.9 745.5 948.3 745.7 948.7 745.5 949.1 744.9 949.5 743.4 949.9 744.7 950.3 745.9 950.7 747.2 951.1 746.5 951.5 744.7 951.9 744.5 952.3 745.3 952.7 746.1 953.1 745.8 953.5 745.5 953.9 746.5 954.3 745.7 954.7 745.0 955.1 744.3 955.5 745.6 955.9 746.7 956.3 747.7 956.7 748.0 957.1 746.7 957.5 745.5 957.9 744.2 958.3 745.1 958.7 746.0 959.1 746.6 959.5 745.6 959.9 745.0 960.3 744.8 960.7 745.9 961.1 746.1 961.5 747.2 961.9 747.2 962.3 745.8 962.7 744.2 963.1 743.5 963.5 745.4 963.9 747.6 964.3 749.1 964.7 748.4 965.1 746.3 965.5 744.3 965.9 743.5 966.3 744.8 966.7 745.2 967.1 745.0 967.5 745.3 967.9 746.5 968.3 747.3 968.7 747.7 969.1 746.7 969.5 745.2 969.9 745.1 970.3 744.9 970.7 745.5 971.1 746.0 971.5 746.1 971.9 744.2 972.3 745.8 972.7 747.4 973.1 747.8 973.5 746.7 973.9 747.0 974.3 746.7 974.7 746.3 975.1 745.5 975.5 745.8 975.9 744.9 976.3 745.5 976.7 745.8 977.1 745.9 977.5 746.4 977.9 746.0 978.3 747.0 978.7 745.5 979.1 745.8 979.5 744.5 979.9 746.1 980.3 747.2 980.7 748.5 981.1 747.5 981.5 746.9 981.9 745.8 982.3 745.3 982.7 745.8 983.1 746.4 983.5 746.6 983.9 745.2 984.3 744.6 984.7 745.5 985.1 746.6 985.5 747.1 985.9 746.9 986.3 746.4 986.7 745.2 987.1 744.9 987.5 745.7 987.9 746.5 988.3 747.9 988.7 747.4 989.1 745.2 989.5 744.1 989.9 744.6 990.3 745.4 990.7 746.6 991.1 748.2 991.5 748.2 991.9 746.8 992.3 746.1 992.7 746.3 993.1 745.5 993.5 744.7 993.9 743.8 994.3 745.5 994.7 747.6 995.1 747.6 995.5 746.7 995.9 745.7 996.3 746.6 996.7 746.2 997.1 746.9 997.5 746.4 997.9 746.4 998.3 745.8 998.7 746.0 999.1 746.0 999.5 745.4 999.9 746.9 1000.3 748.3 1000.7 747.7 1001.1 744.6 1001.5 742.7 1001.9 743.6 1002.3 746.7 1002.7 747.9 1003.1 746.9 1003.5 744.2 1003.9 745.0 1004.3 745.7 1004.7 746.9 1005.1 747.1 1005.5 748.3 1005.9 749.1 1006.3 747.8 1006.7 745.4 1007.1 743.8 1007.5 743.4 1007.9 745.6 1008.3 747.0 1008.7 747.7 1009.1 746.3 1009.5 747.4 1009.9 747.4 1010.3 747.6 1010.7 747.1 1011.1 747.2 1011.5 745.2 1011.9 745.4 1012.3 745.7 1012.7 746.4 1013.1 746.1 1013.5 746.7 1013.9 747.6 1014.3 747.0 1014.7 746.5 1015.1 745.9 1015.5 746.3 1015.9 746.9 1016.3 746.9 1016.7 747.7 1017.1 747.0 1017.5 745.9 1017.9 745.2 1018.3 747.1 1018.7 748.3 1019.1 747.6 1019.5 746.5 1019.9 746.9 1020.3 747.2 1020.7 747.5 1021.1 746.1 1021.5 746.5 1021.9 747.0 1022.3 747.2 1022.7 746.6 1023.1 746.8 1023.5 748.2 1023.9 746.9 1024.3 747.4 1024.7 747.2 1025.1 746.5 1025.5 746.0 1025.9 746.7 1026.3 747.5 1026.7 746.8 1027.1 745.8 1027.5 746.3 1027.9 746.7 1028.3 747.8 1028.7 748.4 1029.1 748.8 1029.5 747.9 1029.9 746.0 1030.3 745.9 1030.7 747.3 1031.1 747.8 1031.5 746.5 1031.9 746.0 1032.3 746.6 1032.7 747.4 1033.1 748.4 1033.5 748.2 1033.9 747.4 1034.3 745.0 1034.7 745.3 1035.1 746.0 1035.5 748.2 1035.9 747.5 1036.3 746.6 1036.7 746.5 1037.1 747.3 1037.5 748.5 1037.9 748.6 1038.3 747.4 1038.7 745.7 1039.1 744.7 1039.5 746.0 1039.9 747.2 1040.3 748.1 1040.7 747.2 1041.1 747.3 1041.5 749.4 1041.9 749.3 1042.3 747.9 1042.7 745.1 1043.1 745.2 1043.5 745.7 1043.9 746.9 1044.3 747.6 1044.7 748.1 1045.1 746.9 1045.5 747.1 1045.9 747.7 1046.3 748.2 1046.7 748.0 1047.1 747.3 1047.5 746.1 1047.9 747.4 1048.3 749.3 1048.7 748.8 1049.1 746.8 1049.5 746.5 1049.9 746.2 1050.3 746.1 1050.7 747.0 1051.1 748.1 1051.5 748.8 1051.9 747.5 1052.3 745.7 1052.7 745.8 1053.1 747.3 1053.5 749.1 1053.9 749.1 1054.3 747.9 1054.7 746.4 1055.1 745.6 1055.5 746.3 1055.9 747.1 1056.3 749.4 1056.7 749.5 1057.1 748.7 1057.5 747.7 1057.9 748.2 1058.3 746.3 1058.7 745.3 1059.1 745.6 1059.5 747.8 1059.9 747.8 1060.3 748.0 1060.7 748.7 1061.1 749.2 1061.5 748.0 1061.9 746.7 1062.3 746.7 1062.7 748.0 1063.1 749.7 1063.5 749.4 1063.9 747.2 1064.3 745.3 1064.7 746.3 1065.1 747.7 1065.5 748.5 1065.9 748.3 1066.3 748.4 1066.7 748.1 1067.1 747.0 1067.5 746.3 1067.9 746.7 1068.3 747.9 1068.7 748.0 1069.1 747.3 1069.5 747.8 1069.9 748.2 1070.3 748.4 1070.7 747.6 1071.1 747.2 1071.5 746.0 1071.9 745.9 1072.3 746.3 1072.7 747.9 1073.1 747.7 1073.5 747.3 1073.9 747.2 1074.3 748.2 1074.7 748.9 1075.1 749.2 1075.5 748.2 1075.9 746.8 1076.3 745.6 1076.7 747.5 1077.1 748.2 1077.5 748.8 1077.9 749.1 1078.3 748.8 1078.7 747.9 1079.1 746.9 1079.5 747.0 1079.9 747.8 1080.3 748.7 1080.7 749.7 1081.1 749.0 1081.5 748.2 1081.9 747.3 1082.3 747.0 1082.7 746.3 1083.1 746.8 1083.5 748.2 1083.9 749.3 1084.3 748.3 1084.7 747.7 1085.1 747.8 1085.5 748.2 1085.9 748.6 1086.3 748.5 1086.7 748.2" stroke="#0000ff" stroke-width="3.7" fill="none" stroke-linejoin="round"/>
<path d="M257.1 690.5L257.5 690.5 257.9 690.7 258.3 690.8 258.7 690.3 259.1 689.7 259.5 689.3 259.9 690.0 260.3 691.3 260.7 692.6 261.1 692.8 261.5 691.8 261.9 690.7 262.3 690.5 262.7 690.5 263.1 690.5 263.5 689.6 263.9 689.8 264.3 690.2 264.7 692.2 265.1 693.1 265.5 692.5 265.9 691.1 266.3 690.4 266.7 691.1 267.1 691.8 267.5 694.3 267.9 693.2 268.3 691.3 268.7 689.4 269.1 690.4 269.5 691.2 269.9 690.9 270.3 690.0 270.7 689.8 271.1 691.4 271.5 691.1 271.9 689.2 272.3 689.1 272.7 691.0 273.1 692.8 273.5 691.2 273.9 689.7 274.3 689.0 274.7 690.0 275.1 690.3 275.5 690.2 275.9 690.7 276.3 690.7 276.7 690.1 277.1 689.2 277.5 689.2 277.9 689.6 278.3 690.0 278.7 689.9 279.1 690.7 279.5 691.5 279.9 691.4 280.3 691.3 280.7 691.2 281.1 691.3 281.5 690.8 281.9 691.2 282.3 691.1 282.7 691.3 283.1 690.5 283.5 689.6 283.9 689.2 284.3 689.9 284.7 690.0 285.1 691.0 285.5 691.3 285.9 690.1 286.3 687.7 286.7 686.9 287.1 687.2 287.5 687.1 287.9 687.9 288.3 686.9 288.7 686.4 289.1 685.6 289.5 685.0 289.9 684.0 290.3 683.9 290.7 684.0 291.1 684.7 291.5 685.4 291.9 685.0 292.3 682.5 292.7 681.4 293.1 681.7 293.5 682.2 293.9 681.6 294.3 680.1 294.7 679.2 295.1 679.5 295.5 679.7 295.9 679.5 296.3 679.9 296.7 680.7 297.1 680.8 297.5 678.1 297.9 676.3 298.3 676.9 298.7 678.6 299.1 679.0 299.5 678.6 299.9 677.0 300.3 674.4 300.7 674.3 301.1 675.4 301.5 677.0 301.9 676.2 302.3 675.8 302.7 676.1 303.1 675.4 303.5 674.6 303.9 672.8 304.3 673.2 304.7 673.7 305.1 674.6 305.5 674.1 305.9 671.8 306.3 670.3 306.7 670.6 307.1 672.3 307.5 673.6 307.9 673.2 308.3 671.0 308.7 668.4 309.1 668.0 309.5 669.5 309.9 669.3 310.3 669.3 310.7 669.1 311.1 668.8 311.5 668.0 311.9 667.0 312.3 667.0 312.7 666.4 313.1 666.9 313.5 666.2 313.9 666.0 314.3 664.3 314.7 663.8 315.1 663.4 315.5 665.9 315.9 667.0 316.3 666.5 316.7 664.3 317.1 663.7 317.5 664.1 317.9 666.3 318.3 665.0 318.7 663.8 319.1 660.5 319.5 661.9 319.9 661.7 320.3 663.4 320.7 662.3 321.1 662.5 321.5 661.9 321.9 663.0 322.3 662.6 322.7 660.0 323.1 657.8 323.5 656.9 323.9 659.3 324.3 660.5 324.7 660.9 325.1 659.6 325.5 658.5 325.9 657.7 326.3 658.5 326.7 659.1 327.1 658.9 327.5 656.3 327.9 655.3 328.3 655.7 328.7 656.8 329.1 657.1 329.5 657.0 329.9 656.3 330.3 656.2 330.7 655.1 331.1 654.5 331.5 653.8 331.9 655.2 332.3 656.2 332.7 655.9 333.1 653.7 333.5 652.3 333.9 652.7 334.3 654.3 334.7 653.3 335.1 651.3 335.5 650.3 335.9 651.2 336.3 651.4 336.7 651.4 337.1 649.9 337.5 650.0 337.9 649.0 338.3 649.0 338.7 648.2 339.1 649.6 339.5 650.1 339.9 649.9 340.3 649.8 340.7 649.1 341.1 649.0 341.5 649.6 341.9 649.4 342.3 647.3 342.7 645.3 343.1 646.9 343.5 649.2 343.9 649.6 344.3 648.4 344.7 647.8 345.1 648.6 345.5 647.1 345.9 645.7 346.3 644.9 346.7 646.5 347.1 646.9 347.5 646.4 347.9 645.6 348.3 643.5 348.7 645.1 349.1 646.7 349.5 648.3 349.9 645.4 350.3 644.5 350.7 645.6 351.1 647.8 351.5 647.7 351.9 645.0 352.3 643.5 352.7 643.7 353.1 645.4 353.5 644.8 353.9 644.3 354.3 644.0 354.7 644.6 355.1 645.3 355.5 644.4 355.9 643.1 356.3 641.9 356.7 643.3 357.1 644.2 357.5 643.7 357.9 643.3 358.3 643.6 358.7 643.1 359.1 642.3 359.5 642.0 359.9 642.7 360.3 642.8 360.7 642.2 361.1 641.0 361.5 640.5 361.9 641.3 362.3 641.8 362.7 641.2 363.1 639.9 363.5 639.5 363.9 640.5 364.3 640.7 364.7 641.5 365.1 641.0 365.5 640.6 365.9 639.0 366.3 637.8 366.7 637.2 367.1 638.0 367.5 639.1 367.9 638.9 368.3 637.9 368.7 636.8 369.1 636.5 369.5 637.3 369.9 638.5 370.3 636.2 370.7 634.9 371.1 635.6 371.5 638.7 371.9 638.6 372.3 637.8 372.7 636.4 373.1 635.7 373.5 635.9 373.9 635.7 374.3 635.1 374.7 635.0 375.1 635.1 375.5 635.5 375.9 634.9 376.3 635.9 376.7 636.6 377.1 637.4 377.5 636.5 377.9 635.7 378.3 634.2 378.7 633.8 379.1 634.4 379.5 636.4 379.9 636.1 380.3 635.0 380.7 634.7 381.1 636.1 381.5 635.9 381.9 635.3 382.3 635.4 382.7 635.9 383.1 634.3 383.5 632.3 383.9 632.1 384.3 634.6 384.7 635.7 385.1 635.9 385.5 635.6 385.9 634.5 386.3 632.3 386.7 632.4 387.1 634.6 387.5 635.3 387.9 634.2 388.3 633.7 388.7 633.2 389.1 634.9 389.5 634.6 389.9 633.2 390.3 631.7 390.7 634.2 391.1 635.8 391.5 635.6 391.9 634.1 392.3 634.1 392.7 633.6 393.1 633.3 393.5 632.3 393.9 632.3 394.3 634.3 394.7 635.8 395.1 635.9 395.5 636.1 395.9 636.0 396.3 634.6 396.7 633.5 397.1 633.8 397.5 634.7 397.9 635.9 398.3 636.4 398.7 635.4 399.1 635.9 399.5 636.5 399.9 635.7 400.3 634.7 400.7 635.2 401.1 634.8 401.5 635.7 401.9 636.2 402.3 636.4 402.7 635.2 403.1 635.1 403.5 633.9 403.9 634.7 404.3 635.3 404.7 636.7 405.1 635.7 405.5 635.1 405.9 634.9 406.3 636.3 406.7 636.7 407.1 636.7 407.5 636.2 407.9 636.4 408.3 635.0 408.7 635.5 409.1 637.2 409.5 639.9 409.9 640.3 410.3 638.9 410.7 638.3 411.1 637.9 411.5 638.3 411.9 638.0 412.3 635.9 412.7 635.7 413.1 637.0 413.5 639.8 413.9 638.8 414.3 638.5 414.7 638.4 415.1 637.4 415.5 635.3 415.9 635.1 416.3 636.7 416.7 638.1 417.1 638.1 417.5 639.5 417.9 638.7 418.3 637.4 418.7 635.8 419.1 636.3 419.5 636.7 419.9 637.3 420.3 636.8 420.7 636.4 421.1 637.1 421.5 638.5 421.9 639.2 422.3 638.7 422.7 637.3 423.1 636.9 423.5 637.5 423.9 639.2 424.3 638.5 424.7 636.3 425.1 633.8 425.5 634.6 425.9 637.3 426.3 638.3 426.7 638.6 427.1 637.1 427.5 635.5 427.9 634.9 428.3 635.7 428.7 635.7 429.1 635.9 429.5 636.7 429.9 635.8 430.3 634.4 430.7 632.5 431.1 632.4 431.5 632.6 431.9 632.3 432.3 632.5 432.7 633.9 433.1 635.0 433.5 633.8 433.9 633.3 434.3 632.9 434.7 632.8 435.1 632.5 435.5 631.5 435.9 629.6 436.3 629.1 436.7 631.2 437.1 632.3 437.5 632.8 437.9 631.2 438.3 629.5 438.7 630.0 439.1 633.1 439.5 634.6 439.9 632.6 440.3 631.3 440.7 630.6 441.1 630.3 441.5 629.2 441.9 630.5 442.3 631.7 442.7 632.5 443.1 631.5 443.5 629.7 443.9 628.9 444.3 630.3 444.7 631.7 445.1 632.8 445.5 631.6 445.9 631.2 446.3 630.3 446.7 630.8 447.1 631.5 447.5 630.6 447.9 630.7 448.3 631.5 448.7 633.2 449.1 633.0 449.5 632.7 449.9 633.3 450.3 633.7 450.7 633.3 451.1 633.0 451.5 634.1 451.9 635.6 452.3 636.0 452.7 636.0 453.1 635.8 453.5 635.9 453.9 635.2 454.3 635.9 454.7 637.9 455.1 639.6 455.5 639.2 455.9 639.1 456.3 639.9 456.7 640.9 457.1 641.1 457.5 641.9 457.9 642.3 458.3 641.8 458.7 642.8 459.1 643.8 459.5 643.9 459.9 643.0 460.3 644.1 460.7 644.1 461.1 644.5 461.5 644.5 461.9 646.5 462.3 646.7 462.7 646.6 463.1 646.3 463.5 647.2 463.9 648.0 464.3 647.8 464.7 647.8 465.1 649.4 465.5 649.8 465.9 650.6 466.3 649.8 466.7 651.4 467.1 651.4 467.5 652.2 467.9 653.0 468.3 655.2 468.7 656.1 469.1 655.3 469.5 655.1 469.9 654.3 470.3 655.1 470.7 656.8 471.1 658.8 471.5 658.7 471.9 659.0 472.3 659.4 472.7 660.6 473.1 661.0 473.5 661.2 473.9 660.1 474.3 658.1 474.7 658.5 475.1 660.1 475.5 663.5 475.9 662.4 476.3 662.2 476.7 660.9 477.1 661.9 477.5 661.5 477.9 662.5 478.3 663.0 478.7 664.1 479.1 664.4 479.5 664.6 479.9 665.0 480.3 665.5 480.7 665.1 481.1 665.2 481.5 665.6 481.9 666.2 482.3 665.8 482.7 665.6 483.1 663.3 483.5 663.6 483.9 664.4 484.3 666.9 484.7 668.2 485.1 668.4 485.5 667.8 485.9 667.1 486.3 668.2 486.7 666.9 487.1 666.8 487.5 667.1 487.9 669.2 488.3 671.2 488.7 671.7 489.1 670.3 489.5 670.3 489.9 670.9 490.3 671.1 490.7 670.3 491.1 671.2 491.5 672.0 491.9 671.8 492.3 671.5 492.7 672.8 493.1 675.1 493.5 675.8 493.9 674.8 494.3 673.8 494.7 674.6 495.1 675.0 495.5 675.6 495.9 675.4 496.3 675.6 496.7 676.1 497.1 677.1 497.5 677.8 497.9 678.2 498.3 678.7 498.7 679.0 499.1 678.6 499.5 678.7 499.9 679.9 500.3 681.4 500.7 681.8 501.1 680.9 501.5 680.3 501.9 681.9 502.3 683.7 502.7 683.4 503.1 682.2 503.5 681.9 503.9 682.9 504.3 682.5 504.7 683.0 505.1 683.0 505.5 683.8 505.9 685.5 506.3 687.9 506.7 687.8 507.1 685.8 507.5 684.6 507.9 684.1 508.3 684.3 508.7 685.4 509.1 686.2 509.5 687.0 509.9 687.3 510.3 687.1 510.7 687.3 511.1 688.1 511.5 688.4 511.9 688.6 512.3 689.7 512.7 689.4 513.1 688.0 513.5 687.1 513.9 686.7 514.3 688.1 514.7 690.6 515.1 690.7 515.5 689.2 515.9 687.4 516.3 688.6 516.7 689.2 517.1 690.4 517.5 690.8 517.9 691.3 518.3 691.2 518.7 691.0 519.1 691.2 519.5 691.7 519.9 691.5 520.3 692.1 520.7 692.2 521.1 692.6 521.5 691.5 521.9 692.2 522.3 692.6 522.7 694.4 523.1 693.4 523.5 693.0 523.9 692.2 524.3 693.9 524.7 694.8 525.1 695.2 525.5 693.9 525.9 693.6 526.3 694.0 526.7 695.3 527.1 694.3 527.5 693.7 527.9 693.3 528.3 695.3 528.7 695.5 529.1 697.3 529.5 697.0 529.9 697.3 530.3 695.7 530.7 695.3 531.1 695.9 531.5 695.8 531.9 696.8 532.3 696.8 532.7 697.6 533.1 695.4 533.5 696.1 533.9 697.7 534.3 699.9 534.7 699.8 535.1 698.8 535.5 698.3 535.9 699.0 536.3 699.5 536.7 699.6 537.1 699.7 537.5 700.0 537.9 699.7 538.3 699.6 538.7 699.5 539.1 701.1 539.5 701.8 539.9 702.9 540.3 702.5 540.7 701.2 541.1 699.8 541.5 700.7 541.9 703.5 542.3 703.3 542.7 702.7 543.1 701.5 543.5 701.0 543.9 700.9 544.3 702.3 544.7 704.5 545.1 705.4 545.5 705.6 545.9 703.7 546.3 702.2 546.7 701.8 547.1 704.5 547.5 705.4 547.9 704.3 548.3 703.2 548.7 705.3 549.1 705.5 549.5 704.7 549.9 703.2 550.3 705.0 550.7 706.5 551.1 707.7 551.5 706.7 551.9 706.0 552.3 706.1 552.7 706.0 553.1 705.6 553.5 705.0 553.9 705.6 554.3 706.1 554.7 707.3 555.1 706.1 555.5 706.4 555.9 707.0 556.3 709.5 556.7 709.2 557.1 707.4 557.5 705.8 557.9 707.1 558.3 708.9 558.7 709.4 559.1 708.5 559.5 708.7 559.9 708.8 560.3 708.0 560.7 707.4 561.1 708.5 561.5 711.0 561.9 711.5 562.3 710.2 562.7 710.0 563.1 710.2 563.5 709.5 563.9 708.4 564.3 709.4 564.7 711.6 565.1 711.6 565.5 711.0 565.9 709.9 566.3 711.0 566.7 711.6 567.1 712.5 567.5 711.5 567.9 711.1 568.3 711.0 568.7 709.6 569.1 710.1 569.5 711.7 569.9 714.2 570.3 713.6 570.7 713.5 571.1 713.7 571.5 713.1 571.9 713.1 572.3 713.6 572.7 714.7 573.1 713.6 573.5 712.8 573.9 712.0 574.3 713.1 574.7 714.7 575.1 716.6 575.5 716.0 575.9 714.4 576.3 713.8 576.7 714.9 577.1 715.8 577.5 716.1 577.9 714.3 578.3 713.8 578.7 714.2 579.1 715.9 579.5 717.5 579.9 717.3 580.3 715.9 580.7 715.1 581.1 715.7 581.5 716.2 581.9 716.0 582.3 716.6 582.7 716.1 583.1 716.5 583.5 717.9 583.9 718.0 584.3 716.8 584.7 716.6 585.1 717.6 585.5 717.0 585.9 716.0 586.3 716.9 586.7 717.2 587.1 717.4 587.5 717.2 587.9 717.3 588.3 717.3 588.7 717.9 589.1 719.2 589.5 719.3 589.9 717.7 590.3 717.0 590.7 717.4 591.1 719.2 591.5 718.3 591.9 718.2 592.3 718.3 592.7 718.2 593.1 718.5 593.5 718.5 593.9 718.3 594.3 717.9 594.7 718.4 595.1 719.2 595.5 719.0 595.9 719.4 596.3 719.7 596.7 719.9 597.1 720.1 597.5 720.2 597.9 719.5 598.3 718.9 598.7 718.9 599.1 719.5 599.5 719.8 599.9 720.9 600.3 721.5 600.7 719.6 601.1 718.5 601.5 718.6 601.9 719.6 602.3 719.8 602.7 720.0 603.1 721.2 603.5 721.5 603.9 721.3 604.3 720.7 604.7 721.3 605.1 722.5 605.5 723.0 605.9 722.8 606.3 722.1 606.7 720.2 607.1 718.7 607.5 719.7 607.9 721.8 608.3 723.9 608.7 724.6 609.1 723.6 609.5 721.7 609.9 722.9 610.3 724.2 610.7 723.9 611.1 722.4 611.5 722.9 611.9 722.8 612.3 723.4 612.7 724.4 613.1 724.3 613.5 724.3 613.9 723.6 614.3 724.4 614.7 724.8 615.1 724.9 615.5 724.6 615.9 724.2 616.3 724.1 616.7 724.8 617.1 724.6 617.5 724.8 617.9 724.9 618.3 725.7 618.7 725.7 619.1 726.2 619.5 725.6 619.9 724.7 620.3 725.0 620.7 725.8 621.1 726.1 621.5 727.1 621.9 727.5 622.3 725.8 622.7 725.8 623.1 726.8 623.5 727.0 623.9 726.5 624.3 725.7 624.7 726.3 625.1 728.2 625.5 728.4 625.9 727.9 626.3 726.8 626.7 728.1 627.1 727.6 627.5 728.9 627.9 729.7 628.3 729.5 628.7 727.9 629.1 727.3 629.5 728.9 629.9 729.3 630.3 729.4 630.7 728.7 631.1 727.5 631.5 727.1 631.9 727.6 632.3 730.5 632.7 731.9 633.1 731.9 633.5 729.8 633.9 727.9 634.3 727.2 634.7 728.1 635.1 729.4 635.5 729.8 635.9 728.9 636.3 729.5 636.7 730.3 637.1 730.4 637.5 729.7 637.9 729.1 638.3 730.7 638.7 729.8 639.1 727.9 639.5 726.8 639.9 728.7 640.3 730.6 640.7 731.7 641.1 733.0 641.5 731.4 641.9 730.2 642.3 729.2 642.7 730.6 643.1 731.3 643.5 732.4 643.9 731.8 644.3 731.6 644.7 731.1 645.1 731.4 645.5 730.9 645.9 730.5 646.3 731.4 646.7 732.7 647.1 734.1 647.5 732.6 647.9 730.1 648.3 728.2 648.7 728.9 649.1 730.9 649.5 732.3 649.9 733.3 650.3 733.7 650.7 733.5 651.1 732.7 651.5 731.3 651.9 731.5 652.3 731.6 652.7 731.6 653.1 731.6 653.5 732.4 653.9 733.4 654.3 732.7 654.7 733.2 655.1 733.5 655.5 733.7 655.9 732.4 656.3 731.1 656.7 730.3 657.1 731.8 657.5 732.4 657.9 733.3 658.3 732.4 658.7 732.4 659.1 731.4 659.5 731.6 659.9 733.1 660.3 734.3 660.7 734.4 661.1 732.7 661.5 730.9 661.9 732.4 662.3 733.7 662.7 733.3 663.1 732.4 663.5 732.3 663.9 733.2 664.3 733.8 664.7 735.3 665.1 735.3 665.5 733.8 665.9 732.2 666.3 731.6 666.7 733.2 667.1 734.6 667.5 735.2 667.9 734.7 668.3 732.5 668.7 731.8 669.1 732.6 669.5 734.6 669.9 736.1 670.3 736.4 670.7 735.5 671.1 733.3 671.5 733.7 671.9 734.3 672.3 735.4 672.7 735.5 673.1 734.7 673.5 734.6 673.9 734.9 674.3 736.9 674.7 735.6 675.1 734.5 675.5 735.1 675.9 736.3 676.3 735.6 676.7 735.4 677.1 738.2 677.5 738.9 677.9 736.9 678.3 734.7 678.7 734.4 679.1 734.6 679.5 734.5 679.9 735.0 680.3 735.7 680.7 736.4 681.1 736.2 681.5 735.2 681.9 735.1 682.3 735.8 682.7 736.2 683.1 735.4 683.5 735.4 683.9 735.9 684.3 735.9 684.7 736.4 685.1 737.6 685.5 737.7 685.9 736.9 686.3 735.6 686.7 735.6 687.1 736.6 687.5 738.5 687.9 739.1 688.3 738.6 688.7 737.4 689.1 737.4 689.5 737.1 689.9 737.7 690.3 737.9 690.7 737.9 691.1 737.7 691.5 737.5 691.9 738.1 692.3 737.4 692.7 737.5 693.1 738.5 693.5 739.5 693.9 739.7 694.3 738.6 694.7 738.0 695.1 736.6 695.5 737.0 695.9 737.4 696.3 738.7 696.7 737.7 697.1 737.4 697.5 737.4 697.9 738.9 698.3 737.9 698.7 736.9 699.1 738.8 699.5 741.3 699.9 741.3 700.3 737.3 700.7 735.3 701.1 736.1 701.5 738.8 701.9 740.2 702.3 740.3 702.7 739.8 703.1 739.4 703.5 737.5 703.9 738.5 704.3 738.6 704.7 738.9 705.1 738.4 705.5 739.7 705.9 740.9 706.3 739.8 706.7 739.5 707.1 739.7 707.5 739.8 707.9 739.5 708.3 739.3 708.7 740.0 709.1 739.5 709.5 738.5 709.9 738.8 710.3 739.8 710.7 741.7 711.1 741.6 711.5 740.4 711.9 737.9 712.3 737.3 712.7 737.9 713.1 740.5 713.5 742.8 713.9 744.3 714.3 741.8 714.7 738.4 715.1 737.0 715.5 737.8 715.9 740.1 716.3 741.2 716.7 741.2 717.1 740.0 717.5 740.9 717.9 741.1 718.3 741.3 718.7 740.0 719.1 740.0 719.5 739.4 719.9 740.5 720.3 741.2 720.7 742.8 721.1 743.5 721.5 742.9 721.9 741.0 722.3 739.8 722.7 740.1 723.1 741.0 723.5 741.1 723.9 741.9 724.3 742.9 724.7 742.9 725.1 741.5 725.5 740.7 725.9 741.3 726.3 742.2 726.7 741.6 727.1 741.1 727.5 740.0 727.9 740.9 728.3 742.1 728.7 742.6 729.1 741.7 729.5 740.4 729.9 740.2 730.3 741.4 730.7 743.2 731.1 743.8 731.5 741.9 731.9 741.4 732.3 741.2 732.7 742.1 733.1 741.7 733.5 741.5 733.9 741.0 734.3 740.8 734.7 742.3 735.1 744.2 735.5 744.7 735.9 742.3 736.3 741.2 736.7 741.5 737.1 742.2 737.5 741.9 737.9 741.6 738.3 742.2 738.7 743.7 739.1 742.9 739.5 742.2 739.9 741.5 740.3 741.7 740.7 741.4 741.1 741.7 741.5 742.8 741.9 743.4 742.3 743.2 742.7 741.7 743.1 742.3 743.5 744.2 743.9 744.9 744.3 743.1 744.7 742.2 745.1 743.1 745.5 743.1 745.9 743.5 746.3 743.1 746.7 743.9 747.1 742.6 747.5 742.4 747.9 741.7 748.3 742.2 748.7 743.3 749.1 743.3 749.5 742.7 749.9 742.4 750.3 742.9 750.7 744.2 751.1 743.3 751.5 744.3 751.9 743.2 752.3 744.4 752.7 744.4 753.1 745.5 753.5 743.5 753.9 741.4 754.3 741.2 754.7 742.7 755.1 744.0 755.5 745.1 755.9 745.8 756.3 744.6 756.7 744.2 757.1 742.7 757.5 743.1 757.9 742.1 758.3 741.9 758.7 742.5 759.1 744.0 759.5 745.8 759.9 744.1 760.3 742.5 760.7 741.7 761.1 742.9 761.5 744.1 761.9 744.0 762.3 744.0 762.7 743.2 763.1 744.3 763.5 744.7 763.9 744.1 764.3 743.4 764.7 744.2 765.1 745.3 765.5 745.2 765.9 744.8 766.3 744.4 766.7 742.6 767.1 741.2 767.5 740.5 767.9 742.4 768.3 744.7 768.7 745.4 769.1 744.3 769.5 743.8 769.9 743.9 770.3 744.4 770.7 744.4 771.1 743.9 771.5 743.5 771.9 744.0 772.3 744.0 772.7 742.4 773.1 741.0 773.5 742.6 773.9 745.3 774.3 746.6 774.7 745.7 775.1 742.8 775.5 742.3 775.9 743.5 776.3 746.1 776.7 744.8 777.1 743.8 777.5 743.4 777.9 745.0 778.3 744.6 778.7 744.5 779.1 743.4 779.5 743.9 779.9 744.0 780.3 745.0 780.7 745.5 781.1 745.5 781.5 744.3 781.9 743.2 782.3 742.9 782.7 743.8 783.1 744.6 783.5 745.1 783.9 744.9 784.3 744.8 784.7 744.2 785.1 742.7 785.5 743.0 785.9 744.3 786.3 744.9 786.7 745.3 787.1 744.3 787.5 744.5 787.9 743.6 788.3 744.6 788.7 745.0 789.1 745.9 789.5 745.7 789.9 743.6 790.3 741.7 790.7 741.8 791.1 744.3 791.5 746.1 791.9 745.6 792.3 744.2 792.7 744.0 793.1 745.5 793.5 745.5 793.9 745.4 794.3 744.8 794.7 744.8 795.1 743.5 795.5 744.3 795.9 745.6 796.3 745.7 796.7 744.5 797.1 744.7 797.5 745.1 797.9 746.1 798.3 745.8 798.7 744.7 799.1 743.1 799.5 742.6 799.9 742.8 800.3 744.2 800.7 746.8 801.1 747.8 801.5 746.7 801.9 744.6 802.3 743.2 802.7 743.4 803.1 744.5 803.5 744.6 803.9 743.6 804.3 744.3 804.7 745.5 805.1 745.6 805.5 744.5 805.9 744.9 806.3 745.9 806.7 746.4 807.1 744.9 807.5 743.1 807.9 741.6 808.3 741.2 808.7 742.5 809.1 744.6 809.5 745.5 809.9 745.3 810.3 745.1 810.7 745.2 811.1 743.5 811.5 743.7 811.9 745.4 812.3 746.2 812.7 746.4 813.1 746.1 813.5 745.7 813.9 744.0 814.3 742.8 814.7 743.0 815.1 742.8 815.5 745.0 815.9 746.3 816.3 746.1 816.7 745.1 817.1 743.9 817.5 744.5 817.9 745.1 818.3 746.5 818.7 745.2 819.1 743.9 819.5 743.3 819.9 743.7 820.3 745.0 820.7 746.8 821.1 747.9 821.5 746.5 821.9 744.4 822.3 743.5 822.7 744.8 823.1 744.4 823.5 743.8 823.9 745.2 824.3 746.3 824.7 745.4 825.1 743.7 825.5 744.8 825.9 745.5 826.3 745.7 826.7 744.2 827.1 744.2 827.5 744.9 827.9 745.6 828.3 745.5 828.7 746.4 829.1 746.4 829.5 745.1 829.9 744.0 830.3 744.5 830.7 743.3 831.1 743.2 831.5 745.3 831.9 747.5 832.3 747.8 832.7 744.6 833.1 743.4 833.5 744.1 833.9 747.8 834.3 747.7 834.7 745.5 835.1 744.3 835.5 744.0 835.9 744.1 836.3 742.9 836.7 743.5 837.1 744.2 837.5 746.6 837.9 747.3 838.3 746.3 838.7 744.6 839.1 743.4 839.5 743.9 839.9 744.6 840.3 746.0 840.7 746.8 841.1 745.4 841.5 744.3 841.9 744.2 842.3 744.5 842.7 744.8 843.1 744.2 843.5 745.9 843.9 745.8 844.3 746.8 844.7 745.8 845.1 746.2 845.5 745.5 845.9 744.6 846.3 742.8 846.7 743.8 847.1 744.7 847.5 746.4 847.9 746.5 848.3 745.6 848.7 744.7 849.1 744.7 849.5 745.7 849.9 745.5 850.3 745.4 850.7 745.4 851.1 745.9 851.5 745.5 851.9 744.0 852.3 742.8 852.7 744.6 853.1 746.1 853.5 747.8 853.9 745.1 854.3 743.2 854.7 741.9 855.1 744.5 855.5 746.2 855.9 746.5 856.3 745.0 856.7 744.2 857.1 745.8 857.5 745.1 857.9 744.3 858.3 744.2 858.7 745.5 859.1 744.8 859.5 745.2 859.9 746.1 860.3 746.1 860.7 745.1 861.1 745.0 861.5 744.9 861.9 745.5 862.3 745.0 862.7 745.5 863.1 746.2 863.5 746.9 863.9 747.0 864.3 745.5 864.7 745.3 865.1 745.6 865.5 746.3 865.9 745.8 866.3 743.7 866.7 743.5 867.1 743.9 867.5 744.2 867.9 743.9 868.3 744.1 868.7 745.3 869.1 744.8 869.5 745.3 869.9 745.2 870.3 745.2 870.7 745.4 871.1 746.3 871.5 745.1 871.9 743.9 872.3 743.4 872.7 744.3 873.1 745.4 873.5 747.2 873.9 747.1 874.3 744.9 874.7 745.0 875.1 745.8 875.5 746.2 875.9 744.3 876.3 744.1 876.7 745.2 877.1 746.1 877.5 745.3 877.9 745.2 878.3 746.2 878.7 747.1 879.1 746.7 879.5 746.8 879.9 744.7 880.3 742.9 880.7 741.5 881.1 744.6 881.5 747.0 881.9 747.8 882.3 745.4 882.7 743.8 883.1 741.8 883.5 743.8 883.9 746.0 884.3 747.5 884.7 744.7 885.1 744.1 885.5 744.6 885.9 745.8 886.3 746.3 886.7 745.4 887.1 745.1 887.5 745.5 887.9 746.8 888.3 746.8 888.7 746.1 889.1 744.9 889.5 745.0 889.9 745.4 890.3 745.5 890.7 745.4 891.1 744.7 891.5 744.2 891.9 744.4 892.3 746.4 892.7 746.5 893.1 745.5 893.5 745.2 893.9 745.3 894.3 744.5 894.7 744.2 895.1 744.6 895.5 745.2 895.9 745.6 896.3 745.8 896.7 745.2 897.1 744.5 897.5 745.9 897.9 746.4 898.3 745.6 898.7 743.8 899.1 744.4 899.5 744.2 899.9 745.2 900.3 746.3 900.7 746.8 901.1 745.6 901.5 743.9 901.9 744.4 902.3 744.5 902.7 744.7 903.1 744.4 903.5 744.6 903.9 745.7 904.3 747.5 904.7 746.6 905.1 744.4 905.5 743.5 905.9 744.3 906.3 744.1 906.7 744.2 907.1 746.1 907.5 747.5 907.9 747.1 908.3 746.0 908.7 745.2 909.1 745.3 909.5 744.4 909.9 743.3 910.3 743.2 910.7 745.3 911.1 747.6 911.5 746.5 911.9 744.9 912.3 744.0 912.7 745.3 913.1 744.9 913.5 745.7 913.9 745.7 914.3 746.4 914.7 746.2 915.1 744.6 915.5 743.1 915.9 743.9 916.3 745.9 916.7 746.6 917.1 745.9 917.5 745.0 917.9 744.1 918.3 744.8 918.7 746.6 919.1 747.7 919.5 746.4 919.9 745.4 920.3 743.9 920.7 744.2 921.1 744.0 921.5 745.7 921.9 746.3 922.3 747.1 922.7 746.4 923.1 746.2 923.5 745.9 923.9 746.1 924.3 744.4 924.7 744.2 925.1 744.8 925.5 746.1 925.9 745.7 926.3 744.6 926.7 743.9 927.1 744.1 927.5 745.0 927.9 746.4 928.3 746.1 928.7 746.4 929.1 743.6 929.5 743.6 929.9 743.0 930.3 746.6 930.7 746.4 931.1 747.0 931.5 745.1 931.9 744.0 932.3 743.7 932.7 745.2 933.1 745.5 933.5 746.2 933.9 746.1 934.3 747.0 934.7 745.1 935.1 744.3 935.5 743.7 935.9 744.4 936.3 745.6 936.7 744.6 937.1 744.9 937.5 744.6 937.9 745.1 938.3 744.9 938.7 745.1 939.1 745.0 939.5 745.0 939.9 745.3 940.3 745.6 940.7 745.9 941.1 745.7 941.5 745.7 941.9 744.8 942.3 745.5 942.7 746.0 943.1 746.1 943.5 744.5 943.9 742.9 944.3 742.7 944.7 744.3 945.1 745.3 945.5 745.3 945.9 744.9 946.3 745.3 946.7 746.5 947.1 746.0 947.5 745.6 947.9 745.6 948.3 745.5 948.7 745.1 949.1 744.5 949.5 745.1 949.9 745.7 950.3 745.3 950.7 744.3 951.1 743.5 951.5 744.9 951.9 745.2 952.3 745.8 952.7 745.2 953.1 744.8 953.5 744.9 953.9 745.8 954.3 746.0 954.7 745.3 955.1 745.8 955.5 746.9 955.9 746.7 956.3 745.1 956.7 743.6 957.1 745.1 957.5 745.9 957.9 745.3 958.3 744.4 958.7 746.2 959.1 746.4 959.5 745.4 959.9 743.5 960.3 743.3 960.7 744.7 961.1 746.4 961.5 746.4 961.9 745.3 962.3 745.4 962.7 745.5 963.1 744.5 963.5 743.3 963.9 744.7 964.3 745.6 964.7 746.5 965.1 744.7 965.5 745.3 965.9 745.3 966.3 745.8 966.7 746.4 967.1 745.9 967.5 745.5 967.9 744.0 968.3 744.2 968.7 744.4 969.1 744.8 969.5 745.4 969.9 747.1 970.3 746.8 970.7 744.9 971.1 742.6 971.5 743.2 971.9 744.6 972.3 745.9 972.7 746.3 973.1 745.6 973.5 746.6 973.9 746.0 974.3 744.5 974.7 743.3 975.1 745.1 975.5 746.4 975.9 746.1 976.3 745.0 976.7 744.7 977.1 744.8 977.5 744.9 977.9 744.1 978.3 745.2 978.7 746.3 979.1 748.2 979.5 747.2 979.9 746.2 980.3 745.0 980.7 745.6 981.1 745.8 981.5 746.0 981.9 744.7 982.3 744.2 982.7 744.9 983.1 744.9 983.5 743.9 983.9 743.8 984.3 745.7 984.7 745.8 985.1 745.3 985.5 745.8 985.9 747.0 986.3 746.4 986.7 744.6 987.1 744.6 987.5 745.7 987.9 746.0 988.3 745.2 988.7 745.5 989.1 745.9 989.5 745.7 989.9 745.0 990.3 743.7 990.7 744.7 991.1 746.4 991.5 748.3 991.9 746.9 992.3 745.7 992.7 745.3 993.1 746.3 993.5 745.5 993.9 744.8 994.3 743.9 994.7 744.6 995.1 744.0 995.5 745.5 995.9 746.4 996.3 746.5 996.7 746.1 997.1 746.0 997.5 745.2 997.9 744.0 998.3 744.1 998.7 744.7 999.1 745.6 999.5 745.8 999.9 745.2 1000.3 745.2 1000.7 745.9 1001.1 746.9 1001.5 746.7 1001.9 745.4 1002.3 743.6 1002.7 742.6 1003.1 744.6 1003.5 746.7 1003.9 747.3 1004.3 745.4 1004.7 745.0 1005.1 745.5 1005.5 746.3 1005.9 745.7 1006.3 744.6 1006.7 745.4 1007.1 746.0 1007.5 746.3 1007.9 746.4 1008.3 745.9 1008.7 745.8 1009.1 745.8 1009.5 747.0 1009.9 746.7 1010.3 745.7 1010.7 743.6 1011.1 744.3 1011.5 745.9 1011.9 747.6 1012.3 747.0 1012.7 747.0 1013.1 746.0 1013.5 745.6 1013.9 746.7 1014.3 747.2 1014.7 747.5 1015.1 746.5 1015.5 745.3 1015.9 744.4 1016.3 745.0 1016.7 745.8 1017.1 747.1 1017.5 747.5 1017.9 746.7 1018.3 746.5 1018.7 746.8 1019.1 746.9 1019.5 746.3 1019.9 746.2 1020.3 745.2 1020.7 745.1 1021.1 745.7 1021.5 746.0 1021.9 746.2 1022.3 746.5 1022.7 746.2 1023.1 744.4 1023.5 743.9 1023.9 745.8 1024.3 748.1 1024.7 748.8 1025.1 747.4 1025.5 747.1 1025.9 746.2 1026.3 745.8 1026.7 745.7 1027.1 745.4 1027.5 745.4 1027.9 745.7 1028.3 748.0 1028.7 748.0 1029.1 747.8 1029.5 746.5 1029.9 746.2 1030.3 744.1 1030.7 743.3 1031.1 744.7 1031.5 747.4 1031.9 748.1 1032.3 748.8 1032.7 748.9 1033.1 747.1 1033.5 744.8 1033.9 744.8 1034.3 747.1 1034.7 747.4 1035.1 747.4 1035.5 747.3 1035.9 747.6 1036.3 747.1 1036.7 745.2 1037.1 745.2 1037.5 743.8 1037.9 744.4 1038.3 745.9 1038.7 747.8 1039.1 747.3 1039.5 745.8 1039.9 746.9 1040.3 747.9 1040.7 748.6 1041.1 747.3 1041.5 746.4 1041.9 745.0 1042.3 745.3 1042.7 745.6 1043.1 747.4 1043.5 748.7 1043.9 749.1 1044.3 747.5 1044.7 744.8 1045.1 744.4 1045.5 746.1 1045.9 749.3 1046.3 747.8 1046.7 744.8 1047.1 744.2 1047.5 746.2 1047.9 747.7 1048.3 747.4 1048.7 747.9 1049.1 746.5 1049.5 745.6 1049.9 746.1 1050.3 747.9 1050.7 747.5 1051.1 746.7 1051.5 746.8 1051.9 746.4 1052.3 746.4 1052.7 747.0 1053.1 747.5 1053.5 747.5 1053.9 746.6 1054.3 746.7 1054.7 746.3 1055.1 746.4 1055.5 745.4 1055.9 746.6 1056.3 747.4 1056.7 746.9 1057.1 745.2 1057.5 744.5 1057.9 745.2 1058.3 747.7 1058.7 749.6 1059.1 749.2 1059.5 747.9 1059.9 746.8 1060.3 746.0 1060.7 745.2 1061.1 746.8 1061.5 747.9 1061.9 748.0 1062.3 746.4 1062.7 746.6 1063.1 746.8 1063.5 747.2 1063.9 747.4 1064.3 748.7 1064.7 747.9 1065.1 747.1 1065.5 745.8 1065.9 746.1 1066.3 747.3 1066.7 748.6 1067.1 748.3 1067.5 747.1 1067.9 746.7 1068.3 747.7 1068.7 747.5 1069.1 747.8 1069.5 747.2 1069.9 747.3 1070.3 746.9 1070.7 746.7 1071.1 746.7 1071.5 747.7 1071.9 748.0 1072.3 747.1 1072.7 746.8 1073.1 747.0 1073.5 748.1 1073.9 748.9 1074.3 747.7 1074.7 745.8 1075.1 745.0 1075.5 747.4 1075.9 749.2 1076.3 749.1 1076.7 747.2 1077.1 746.0 1077.5 746.4 1077.9 747.2 1078.3 748.0 1078.7 748.6 1079.1 748.6 1079.5 748.5 1079.9 747.9 1080.3 746.4 1080.7 745.1 1081.1 745.8 1081.5 747.4 1081.9 748.8 1082.3 747.8 1082.7 746.3 1083.1 745.8 1083.5 747.3 1083.9 748.3 1084.3 748.2 1084.7 747.1 1085.1 747.1 1085.5 747.5 1085.9 747.6 1086.3 747.8 1086.7 747.9" stroke="#ff00ff" stroke-width="3.7" fill="none" stroke-linejoin="round"/>
<path d="M257.8 698.9L258.2 698.4 258.6 697.5 259.0 696.9 259.4 697.3 259.8 698.2 260.2 697.6 260.6 696.5 261.0 695.7 261.4 695.3 261.8 694.6 262.2 694.8 262.6 694.8 263.0 695.5 263.4 695.8 263.8 695.1 264.2 695.4 264.6 695.1 265.0 696.2 265.4 696.0 265.8 695.8 266.2 695.1 266.6 694.9 267.0 695.0 267.4 695.1 267.8 696.5 268.2 697.3 268.6 697.4 269.0 696.1 269.4 693.9 269.8 692.9 270.2 693.0 270.6 694.0 271.0 693.8 271.4 693.3 271.8 693.5 272.2 693.0 272.6 692.8 273.0 693.4 273.4 693.8 273.8 692.3 274.2 690.8 274.6 690.9 275.0 691.6 275.4 692.7 275.8 692.9 276.2 692.4 276.6 690.7 277.0 689.8 277.4 689.3 277.8 689.3 278.2 690.0 278.6 689.6 279.0 689.1 279.4 687.1 279.8 686.5 280.2 685.6 280.6 685.5 281.0 684.3 281.4 684.4 281.8 685.9 282.2 686.0 282.6 686.0 283.0 685.0 283.4 686.0 283.8 683.8 284.2 684.5 284.6 683.6 285.0 683.4 285.4 683.2 285.8 683.1 286.2 680.6 286.6 679.0 287.0 679.6 287.4 679.8 287.8 678.6 288.2 677.4 288.6 678.1 289.0 679.4 289.4 678.6 289.8 675.8 290.2 673.9 290.6 675.0 291.0 674.8 291.4 675.8 291.8 675.3 292.2 674.3 292.6 672.6 293.0 672.1 293.4 673.9 293.8 674.5 294.2 673.9 294.6 672.0 295.0 672.6 295.4 672.3 295.8 670.5 296.2 670.0 296.6 671.5 297.0 671.9 297.4 670.3 297.8 670.0 298.2 668.0 298.6 667.3 299.0 666.6 299.4 668.0 299.8 666.9 300.2 668.6 300.6 667.9 301.0 667.3 301.4 663.4 301.8 662.8 302.2 662.9 302.6 663.2 303.0 660.5 303.4 659.0 303.8 660.6 304.2 662.4 304.6 661.2 305.0 659.3 305.4 656.8 305.8 657.4 306.2 657.1 306.6 657.9 307.0 656.1 307.4 655.1 307.8 654.6 308.2 654.2 308.6 654.3 309.0 652.8 309.4 651.7 309.8 649.7 310.2 650.4 310.6 650.9 311.0 650.2 311.4 647.5 311.8 647.4 312.2 648.6 312.6 649.6 313.0 648.4 313.4 644.6 313.8 642.2 314.2 642.0 314.6 644.3 315.0 644.3 315.4 643.9 315.8 643.0 316.2 642.2 316.6 640.8 317.0 640.9 317.4 640.6 317.8 640.6 318.2 641.1 318.6 641.4 319.0 640.6 319.4 637.7 319.8 636.3 320.2 636.9 320.6 638.4 321.0 638.3 321.4 636.9 321.8 636.0 322.2 635.6 322.6 634.8 323.0 632.2 323.4 632.3 323.8 633.8 324.2 634.7 324.6 633.3 325.0 631.1 325.4 630.7 325.8 629.8 326.2 630.6 326.6 628.9 327.0 627.7 327.4 626.9 327.8 627.3 328.2 627.0 328.6 626.1 329.0 624.3 329.4 624.5 329.8 624.6 330.2 624.5 330.6 623.0 331.0 621.8 331.4 621.0 331.8 620.3 332.2 621.1 332.6 621.8 333.0 622.6 333.4 621.1 333.8 620.1 334.2 619.2 334.6 620.2 335.0 619.3 335.4 617.6 335.8 617.0 336.2 618.0 336.6 617.2 337.0 616.4 337.4 617.6 337.8 619.1 338.2 616.2 338.6 613.8 339.0 612.1 339.4 612.5 339.8 611.0 340.2 611.7 340.6 611.0 341.0 610.7 341.4 609.2 341.8 609.3 342.2 608.7 342.6 607.1 343.0 606.7 343.4 606.3 343.8 605.0 344.2 605.2 344.6 605.9 345.0 607.0 345.4 606.2 345.8 605.4 346.2 604.3 346.6 603.2 347.0 604.4 347.4 606.2 347.8 607.3 348.2 605.6 348.6 604.9 349.0 604.6 349.4 603.4 349.8 600.5 350.2 600.6 350.6 603.0 351.0 604.1 351.4 602.7 351.8 600.6 352.2 599.6 352.6 599.0 353.0 599.1 353.4 599.0 353.8 599.3 354.2 598.4 354.6 598.5 355.0 598.0 355.4 597.7 355.8 596.3 356.2 595.1 356.6 595.9 357.0 595.4 357.4 595.5 357.8 595.0 358.2 595.1 358.6 594.7 359.0 592.4 359.4 591.5 359.8 590.8 360.2 592.3 360.6 592.4 361.0 591.8 361.4 590.9 361.8 590.8 362.2 591.1 362.6 590.1 363.0 589.4 363.4 589.9 363.8 590.3 364.2 590.4 364.6 590.2 365.0 589.6 365.4 588.9 365.8 589.3 366.2 589.8 366.6 589.0 367.0 590.0 367.4 591.0 367.8 591.7 368.2 590.2 368.6 587.7 369.0 587.3 369.4 586.9 369.8 588.5 370.2 586.9 370.6 587.2 371.0 586.4 371.4 586.5 371.8 587.1 372.2 588.5 372.6 587.3 373.0 585.0 373.4 584.5 373.8 585.7 374.2 586.8 374.6 586.1 375.0 583.8 375.4 581.4 375.8 581.3 376.2 582.8 376.6 584.3 377.0 585.3 377.4 585.0 377.8 584.1 378.2 583.7 378.6 583.7 379.0 583.3 379.4 582.5 379.8 583.4 380.2 585.4 380.6 587.0 381.0 584.6 381.4 583.0 381.8 581.5 382.2 581.9 382.6 581.6 383.0 581.2 383.4 579.5 383.8 578.1 384.2 580.0 384.6 581.7 385.0 581.0 385.4 578.9 385.8 577.9 386.2 578.4 386.6 578.0 387.0 578.8 387.4 578.8 387.8 579.1 388.2 577.1 388.6 576.9 389.0 576.9 389.4 578.7 389.8 576.5 390.2 575.2 390.6 574.8 391.0 576.3 391.4 576.7 391.8 577.9 392.2 578.8 392.6 578.0 393.0 577.6 393.4 577.7 393.8 578.1 394.2 578.1 394.6 577.3 395.0 575.7 395.4 576.4 395.8 578.3 396.2 578.9 396.6 578.1 397.0 578.7 397.4 578.2 397.8 576.9 398.2 576.7 398.6 578.8 399.0 578.5 399.4 576.8 399.8 576.4 400.2 578.4 400.6 579.4 401.0 577.5 401.4 576.5 401.8 577.0 402.2 577.8 402.6 576.1 403.0 576.5 403.4 577.2 403.8 577.6 404.2 576.8 404.6 576.6 405.0 576.9 405.4 578.1 405.8 577.4 406.2 576.4 406.6 575.6 407.0 578.1 407.4 579.2 407.8 578.5 408.2 577.5 408.6 578.1 409.0 579.0 409.4 579.0 409.8 578.8 410.2 577.7 410.6 579.2 411.0 581.0 411.4 581.4 411.8 579.7 412.2 580.3 412.6 579.2 413.0 577.3 413.4 576.5 413.8 576.9 414.2 576.8 414.6 575.9 415.0 575.6 415.4 575.4 415.8 577.1 416.2 578.1 416.6 577.7 417.0 576.9 417.4 575.5 417.8 577.3 418.2 578.5 418.6 579.4 419.0 578.1 419.4 578.9 419.8 579.4 420.2 578.8 420.6 577.0 421.0 576.2 421.4 576.2 421.8 576.7 422.2 576.8 422.6 577.4 423.0 578.2 423.4 577.3 423.8 574.6 424.2 572.8 424.6 573.3 425.0 572.8 425.4 571.6 425.8 570.7 426.2 570.3 426.6 568.9 427.0 568.5 427.4 568.6 427.8 568.7 428.2 568.1 428.6 567.1 429.0 567.5 429.4 566.8 429.8 565.4 430.2 563.2 430.6 564.3 431.0 565.1 431.4 564.1 431.8 563.2 432.2 561.5 432.6 563.1 433.0 562.1 433.4 562.3 433.8 560.0 434.2 559.9 434.6 558.1 435.0 557.4 435.4 556.5 435.8 556.4 436.2 556.3 436.6 555.5 437.0 553.9 437.4 551.3 437.8 550.3 438.2 549.6 438.6 550.2 439.0 550.0 439.4 548.6 439.8 546.8 440.2 546.2 440.6 545.2 441.0 542.2 441.4 541.4 441.8 541.5 442.2 541.4 442.6 540.4 443.0 538.6 443.4 536.1 443.8 532.9 444.2 533.8 444.6 534.9 445.0 535.9 445.4 534.7 445.8 533.9 446.2 534.4 446.6 536.2 447.0 536.9 447.4 536.8 447.8 535.9 448.2 535.5 448.6 535.7 449.0 536.0 449.4 537.9 449.8 537.7 450.2 537.8 450.6 538.4 451.0 538.8 451.4 538.0 451.8 539.4 452.2 541.4 452.6 542.8 453.0 543.4 453.4 544.2 453.8 543.4 454.2 545.0 454.6 547.2 455.0 549.3 455.4 548.8 455.8 549.8 456.2 549.5 456.6 549.4 457.0 549.1 457.4 550.2 457.8 551.3 458.2 552.2 458.6 553.3 459.0 553.7 459.4 554.3 459.8 554.1 460.2 554.9 460.6 556.2 461.0 558.7 461.4 557.7 461.8 557.8 462.2 557.1 462.6 559.8 463.0 560.4 463.4 562.4 463.8 561.7 464.2 562.8 464.6 564.3 465.0 565.2 465.4 564.7 465.8 565.6 466.2 567.8 466.6 569.5 467.0 569.1 467.4 568.5 467.8 569.3 468.2 571.2 468.6 572.9 469.0 573.2 469.4 572.4 469.8 572.4 470.2 573.7 470.6 574.9 471.0 575.6 471.4 575.5 471.8 576.2 472.2 576.5 472.6 579.4 473.0 581.6 473.4 582.6 473.8 580.3 474.2 578.8 474.6 580.1 475.0 582.5 475.4 584.4 475.8 583.6 476.2 582.7 476.6 583.0 477.0 584.9 477.4 585.6 477.8 585.0 478.2 586.1 478.6 587.6 479.0 589.1 479.4 590.7 479.8 592.2 480.2 592.4 480.6 591.8 481.0 593.3 481.4 593.7 481.8 593.8 482.2 594.0 482.6 595.1 483.0 597.1 483.4 598.1 483.8 600.0 484.2 600.2 484.6 601.2 485.0 601.6 485.4 601.0 485.8 600.6 486.2 601.3 486.6 605.4 487.0 608.2 487.4 609.1 487.8 606.7 488.2 606.4 488.6 607.9 489.0 610.3 489.4 612.5 489.8 611.8 490.2 610.2 490.6 608.8 491.0 610.2 491.4 611.9 491.8 613.4 492.2 614.8 492.6 615.1 493.0 615.5 493.4 616.5 493.8 616.7 494.2 616.3 494.6 617.4 495.0 618.9 495.4 619.3 495.8 619.3 496.2 620.1 496.6 621.2 497.0 621.9 497.4 623.2 497.8 624.4 498.2 624.4 498.6 623.5 499.0 624.8 499.4 626.4 499.8 626.6 500.2 624.9 500.6 626.1 501.0 627.9 501.4 628.5 501.8 628.0 502.2 628.2 502.6 630.7 503.0 632.4 503.4 633.3 503.8 631.7 504.2 631.2 504.6 632.2 505.0 633.9 505.4 635.2 505.8 635.3 506.2 635.6 506.6 635.5 507.0 635.6 507.4 636.7 507.8 637.9 508.2 639.6 508.6 638.7 509.0 637.7 509.4 637.4 509.8 638.1 510.2 639.8 510.6 641.0 511.0 642.7 511.4 643.1 511.8 642.1 512.2 641.9 512.6 641.9 513.0 642.1 513.4 641.8 513.8 642.6 514.2 644.3 514.6 646.8 515.0 647.9 515.4 647.8 515.8 645.9 516.2 645.5 516.6 644.4 517.0 644.7 517.4 646.0 517.8 647.5 518.2 648.3 518.6 647.2 519.0 648.1 519.4 648.5 519.8 648.4 520.2 647.4 520.6 648.6 521.0 650.1 521.4 651.3 521.8 650.2 522.2 648.8 522.6 649.5 523.0 653.2 523.4 654.2 523.8 653.0 524.2 651.0 524.6 651.0 525.0 651.2 525.4 652.8 525.8 653.0 526.2 654.0 526.6 654.5 527.0 655.0 527.4 654.9 527.8 654.9 528.2 653.8 528.6 653.1 529.0 655.6 529.4 657.5 529.8 658.0 530.2 657.1 530.6 657.3 531.0 657.8 531.4 656.7 531.8 655.3 532.2 654.7 532.6 656.4 533.0 658.5 533.4 660.8 533.8 661.3 534.2 659.8 534.6 658.5 535.0 659.3 535.4 659.1 535.8 658.3 536.2 658.2 536.6 659.7 537.0 659.2 537.4 659.2 537.8 658.6 538.2 660.2 538.6 661.5 539.0 661.4 539.4 660.6 539.8 660.8 540.2 662.2 540.6 663.0 541.0 665.5 541.4 667.2 541.8 665.8 542.2 663.3 542.6 662.5 543.0 663.3 543.4 666.0 543.8 668.2 544.2 669.1 544.6 669.2 545.0 669.3 545.4 669.3 545.8 668.3 546.2 667.8 546.6 667.9 547.0 668.0 547.4 669.5 547.8 670.2 548.2 670.2 548.6 669.2 549.0 668.5 549.4 669.2 549.8 669.5 550.2 671.8 550.6 671.4 551.0 670.8 551.4 668.8 551.8 668.1 552.2 668.3 552.6 668.5 553.0 669.2 553.4 668.5 553.8 669.1 554.2 666.9 554.6 666.1 555.0 665.5 555.4 666.6 555.8 665.4 556.2 666.0 556.6 666.5 557.0 667.2 557.4 666.6 557.8 667.1 558.2 667.7 558.6 669.4 559.0 669.8 559.4 669.7 559.8 669.0 560.2 670.3 560.6 671.0 561.0 671.6 561.4 672.1 561.8 673.2 562.2 674.3 562.6 674.3 563.0 674.9 563.4 675.0 563.8 674.5 564.2 674.4 564.6 674.9 565.0 675.8 565.4 675.9 565.8 675.8 566.2 674.9 566.6 675.3 567.0 677.6 567.4 678.5 567.8 678.2 568.2 677.8 568.6 677.7 569.0 676.6 569.4 676.7 569.8 677.4 570.2 678.1 570.6 678.6 571.0 678.4 571.4 679.0 571.8 678.6 572.2 678.2 572.6 678.4 573.0 680.5 573.4 682.5 573.8 682.3 574.2 681.2 574.6 681.1 575.0 681.9 575.4 682.7 575.8 682.1 576.2 682.9 576.6 682.1 577.0 683.0 577.4 682.3 577.8 684.1 578.2 683.5 578.6 685.1 579.0 687.0 579.4 688.4 579.8 686.7 580.2 686.3 580.6 687.5 581.0 687.9 581.4 688.1 581.8 687.6 582.2 686.7 582.6 685.3 583.0 686.9 583.4 686.6 583.8 688.0 584.2 689.9 584.6 691.2 585.0 690.0 585.4 687.8 585.8 687.8 586.2 688.4 586.6 690.4 587.0 691.4 587.4 691.8 587.8 689.2 588.2 687.1 588.6 688.5 589.0 691.2 589.4 693.0 589.8 691.0 590.2 689.8 590.6 689.0 591.0 689.6 591.4 689.2 591.8 690.4 592.2 692.2 592.6 692.1 593.0 691.3 593.4 691.7 593.8 691.5 594.2 691.1 594.6 691.5 595.0 692.0 595.4 692.4 595.8 692.2 596.2 693.4 596.6 693.6 597.0 694.0 597.4 692.8 597.8 691.4 598.2 691.3 598.6 691.9 599.0 693.4 599.4 693.3 599.8 692.8 600.2 692.9 600.6 693.5 601.0 693.5 601.4 693.8 601.8 694.4 602.2 694.8 602.6 695.1 603.0 695.7 603.4 694.7 603.8 693.1 604.2 693.0 604.6 695.1 605.0 697.5 605.4 699.1 605.8 699.0 606.2 697.5 606.6 694.8 607.0 693.8 607.4 694.7 607.8 695.8 608.2 697.2 608.6 697.6 609.0 698.3 609.4 698.5 609.8 697.7 610.2 696.6 610.6 697.5 611.0 700.2 611.4 700.7 611.8 698.8 612.2 697.4 612.6 697.6 613.0 700.0 613.4 701.7 613.8 702.0 614.2 701.5 614.6 701.8 615.0 700.7 615.4 699.3 615.8 699.1 616.2 701.7 616.6 703.7 617.0 703.1 617.4 701.7 617.8 700.4 618.2 700.7 618.6 701.4 619.0 702.3 619.4 702.2 619.8 701.2 620.2 700.2 620.6 700.5 621.0 702.0 621.4 703.7 621.8 703.2 622.2 702.0 622.6 702.5 623.0 704.1 623.4 705.5 623.8 704.5 624.2 703.6 624.6 702.5 625.0 703.8 625.4 704.2 625.8 703.3 626.2 701.9 626.6 703.7 627.0 705.6 627.4 706.2 627.8 705.4 628.2 705.0 628.6 704.3 629.0 703.3 629.4 704.4 629.8 705.3 630.2 707.1 630.6 705.4 631.0 705.3 631.4 704.1 631.8 703.8 632.2 703.8 632.6 705.9 633.0 708.1 633.4 709.0 633.8 708.1 634.2 707.2 634.6 706.2 635.0 706.1 635.4 706.2 635.8 707.1 636.2 708.1 636.6 706.6 637.0 706.6 637.4 706.2 637.8 708.2 638.2 708.8 638.6 708.3 639.0 706.9 639.4 706.9 639.8 707.4 640.2 706.8 640.6 706.3 641.0 707.4 641.4 708.6 641.8 708.6 642.2 708.5 642.6 709.3 643.0 710.5 643.4 709.4 643.8 707.5 644.2 707.3 644.6 709.1 645.0 710.5 645.4 710.0 645.8 708.5 646.2 708.9 646.6 709.9 647.0 711.6 647.4 710.1 647.8 708.9 648.2 707.4 648.6 709.6 649.0 711.6 649.4 711.7 649.8 708.8 650.2 708.5 650.6 709.8 651.0 710.4 651.4 708.4 651.8 708.4 652.2 709.5 652.6 710.7 653.0 711.0 653.4 710.9 653.8 710.5 654.2 711.0 654.6 711.7 655.0 711.7 655.4 711.6 655.8 710.6 656.2 711.1 656.6 711.6 657.0 712.3 657.4 711.2 657.8 712.0 658.2 713.1 658.6 711.5 659.0 709.3 659.4 709.2 659.8 712.3 660.2 714.3 660.6 714.0 661.0 712.9 661.4 712.5 661.8 712.4 662.2 712.3 662.6 711.1 663.0 711.7 663.4 712.7 663.8 713.9 664.2 712.2 664.6 710.6 665.0 711.0 665.4 712.3 665.8 713.9 666.2 715.1 666.6 713.7 667.0 712.2 667.4 711.0 667.8 713.5 668.2 714.4 668.6 713.9 669.0 713.1 669.4 713.7 669.8 715.9 670.2 716.4 670.6 715.5 671.0 713.7 671.4 712.9 671.8 713.6 672.2 714.9 672.6 715.4 673.0 714.7 673.4 715.2 673.8 716.0 674.2 716.7 674.6 715.4 675.0 714.5 675.4 712.7 675.8 712.3 676.2 713.4 676.6 716.3 677.0 717.1 677.4 715.2 677.8 713.8 678.2 715.1 678.6 716.5 679.0 717.5 679.4 717.1 679.8 716.0 680.2 714.5 680.6 714.7 681.0 717.7 681.4 719.5 681.8 719.0 682.2 717.2 682.6 716.8 683.0 716.5 683.4 715.9 683.8 715.7 684.2 716.5 684.6 718.1 685.0 719.7 685.4 719.3 685.8 718.4 686.2 717.3 686.6 716.7 687.0 716.7 687.4 718.0 687.8 719.0 688.2 719.4 688.6 719.7 689.0 720.1 689.4 719.2 689.8 717.4 690.2 717.8 690.6 718.3 691.0 719.2 691.4 718.5 691.8 718.5 692.2 719.3 692.6 720.4 693.0 720.8 693.4 719.3 693.8 718.2 694.2 717.5 694.6 718.4 695.0 719.4 695.4 719.7 695.8 719.6 696.2 719.7 696.6 720.1 697.0 719.4 697.4 719.0 697.8 719.2 698.2 719.8 698.6 720.7 699.0 721.3 699.4 722.2 699.8 720.7 700.2 719.1 700.6 718.7 701.0 719.4 701.4 721.3 701.8 722.1 702.2 721.7 702.6 720.3 703.0 720.6 703.4 720.1 703.8 720.5 704.2 721.7 704.6 722.5 705.0 722.3 705.4 720.8 705.8 720.1 706.2 719.9 706.6 721.5 707.0 723.0 707.4 723.2 707.8 722.0 708.2 721.1 708.6 721.7 709.0 722.8 709.4 722.5 709.8 722.2 710.2 721.3 710.6 721.6 711.0 721.3 711.4 721.0 711.8 721.4 712.2 721.7 712.6 721.8 713.0 721.6 713.4 722.2 713.8 722.9 714.2 722.7 714.6 723.4 715.0 721.6 715.4 720.3 715.8 719.7 716.2 722.4 716.6 725.3 717.0 725.0 717.4 723.5 717.8 722.0 718.2 721.0 718.6 721.4 719.0 722.6 719.4 725.0 719.8 725.1 720.2 724.6 720.6 722.7 721.0 722.1 721.4 723.0 721.8 723.5 722.2 725.5 722.6 725.8 723.0 724.4 723.4 722.1 723.8 723.2 724.2 725.1 724.6 725.2 725.0 724.3 725.4 723.5 725.8 723.0 726.2 723.2 726.6 724.2 727.0 724.9 727.4 726.0 727.8 726.4 728.2 726.0 728.6 724.4 729.0 724.8 729.4 724.1 729.8 723.7 730.2 725.2 730.6 727.4 731.0 726.1 731.4 723.7 731.8 723.1 732.2 726.0 732.6 727.0 733.0 727.0 733.4 725.2 733.8 724.7 734.2 722.6 734.6 722.4 735.0 724.6 735.4 726.9 735.8 727.1 736.2 727.1 736.6 727.4 737.0 725.5 737.4 725.4 737.8 726.4 738.2 728.1 738.6 727.1 739.0 726.2 739.4 725.2 739.8 725.5 740.2 726.7 740.6 727.0 741.0 727.1 741.4 726.2 741.8 726.5 742.2 726.0 742.6 726.9 743.0 728.2 743.4 728.7 743.8 727.3 744.2 725.3 744.6 725.5 745.0 725.9 745.4 727.1 745.8 727.7 746.2 728.7 746.6 728.0 747.0 726.9 747.4 726.0 747.8 727.1 748.2 727.9 748.6 728.9 749.0 727.6 749.4 727.1 749.8 726.9 750.2 727.2 750.6 726.9 751.0 726.2 751.4 727.2 751.8 727.9 752.2 729.4 752.6 728.8 753.0 727.1 753.4 725.6 753.8 726.2 754.2 727.6 754.6 728.2 755.0 729.1 755.4 728.8 755.8 728.0 756.2 726.7 756.6 726.6 757.0 728.0 757.4 729.5 757.8 728.1 758.2 727.3 758.6 726.2 759.0 726.8 759.4 727.0 759.8 728.9 760.2 729.5 760.6 729.5 761.0 730.0 761.4 729.0 761.8 728.6 762.2 728.4 762.6 727.5 763.0 726.6 763.4 727.8 763.8 729.5 764.2 729.5 764.6 729.9 765.0 730.1 765.4 730.1 765.8 729.2 766.2 730.0 766.6 729.4 767.0 729.9 767.4 730.7 767.8 731.0 768.2 730.6 768.6 729.0 769.0 729.3 769.4 729.9 769.8 730.6 770.2 728.9 770.6 728.1 771.0 728.6 771.4 729.7 771.8 730.0 772.2 730.8 772.6 731.7 773.0 731.8 773.4 729.6 773.8 728.4 774.2 728.9 774.6 730.3 775.0 731.3 775.4 731.8 775.8 731.2 776.2 730.1 776.6 729.0 777.0 729.5 777.4 729.9 777.8 732.3 778.2 732.6 778.6 732.5 779.0 731.2 779.4 729.6 779.8 729.0 780.2 729.5 780.6 731.4 781.0 732.2 781.4 732.4 781.8 732.4 782.2 732.0 782.6 731.8 783.0 731.4 783.4 730.6 783.8 729.1 784.2 729.7 784.6 732.0 785.0 733.9 785.4 732.5 785.8 731.6 786.2 731.8 786.6 731.7 787.0 730.6 787.4 731.2 787.8 732.3 788.2 732.6 788.6 731.3 789.0 730.7 789.4 730.8 789.8 731.7 790.2 732.0 790.6 731.6 791.0 731.1 791.4 731.9 791.8 732.6 792.2 732.8 792.6 731.5 793.0 731.5 793.4 731.3 793.8 732.2 794.2 732.7 794.6 733.7 795.0 732.8 795.4 731.8 795.8 730.6 796.2 731.3 796.6 731.5 797.0 732.3 797.4 732.4 797.8 733.7 798.2 733.2 798.6 733.6 799.0 732.4 799.4 731.4 799.8 731.2 800.2 732.0 800.6 733.4 801.0 732.8 801.4 732.9 801.8 731.4 802.2 730.2 802.6 730.8 803.0 732.3 803.4 734.0 803.8 733.2 804.2 731.5 804.6 730.3 805.0 731.3 805.4 733.7 805.8 734.8 806.2 734.3 806.6 732.8 807.0 731.3 807.4 730.4 807.8 731.1 808.2 732.5 808.6 733.8 809.0 732.8 809.4 732.6 809.8 732.5 810.2 733.9 810.6 733.8 811.0 733.6 811.4 732.8 811.8 732.5 812.2 732.0 812.6 731.8 813.0 730.8 813.4 732.1 813.8 733.5 814.2 734.9 814.6 732.7 815.0 732.2 815.4 732.5 815.8 733.5 816.2 732.9 816.6 732.7 817.0 731.9 817.4 732.4 817.8 732.2 818.2 732.7 818.6 732.5 819.0 733.5 819.4 734.9 819.8 735.1 820.2 733.4 820.6 733.4 821.0 732.9 821.4 732.7 821.8 731.7 822.2 732.2 822.6 733.4 823.0 734.3 823.4 735.4 823.8 734.2 824.2 734.0 824.6 733.3 825.0 733.0 825.4 732.8 825.8 733.5 826.2 734.4 826.6 734.4 827.0 733.1 827.4 732.3 827.8 731.1 828.2 731.7 828.6 732.1 829.0 734.5 829.4 733.3 829.8 734.2 830.2 734.2 830.6 734.0 831.0 732.4 831.4 733.2 831.8 734.6 832.2 735.8 832.6 735.3 833.0 734.2 833.4 732.9 833.8 733.1 834.2 733.2 834.6 734.4 835.0 734.7 835.4 734.4 835.8 734.7 836.2 735.7 836.6 734.0 837.0 732.6 837.4 732.1 837.8 733.7 838.2 733.9 838.6 735.1 839.0 733.4 839.4 732.7 839.8 731.1 840.2 733.1 840.6 735.0 841.0 735.5 841.4 734.7 841.8 734.1 842.2 733.7 842.6 732.4 843.0 732.9 843.4 734.8 843.8 735.5 844.2 735.3 844.6 735.0 845.0 735.2 845.4 733.8 845.8 733.0 846.2 733.1 846.6 732.6 847.0 733.0 847.4 734.3 847.8 735.7 848.2 736.0 848.6 734.9 849.0 733.3 849.4 731.4 849.8 731.8 850.2 733.9 850.6 734.9 851.0 734.8 851.4 733.4 851.8 734.3 852.2 734.6 852.6 733.7 853.0 732.6 853.4 733.5 853.8 734.1 854.2 734.7 854.6 734.5 855.0 734.1 855.4 733.4 855.8 734.8 856.2 735.3 856.6 735.4 857.0 734.7 857.4 734.6 857.8 733.5 858.2 733.7 858.6 734.5 859.0 735.0 859.4 735.1 859.8 734.3 860.2 733.3 860.6 732.3 861.0 732.9 861.4 733.6 861.8 734.2 862.2 734.5 862.6 733.8 863.0 733.2 863.4 733.3 863.8 735.2 864.2 735.6 864.6 735.5 865.0 735.6 865.4 734.9 865.8 733.9 866.2 732.8 866.6 733.2 867.0 733.6 867.4 733.7 867.8 733.9 868.2 733.9 868.6 734.5 869.0 734.6 869.4 734.3 869.8 733.1 870.2 732.8 870.6 733.7 871.0 735.0 871.4 734.7 871.8 734.5 872.2 733.9 872.6 733.4 873.0 733.0 873.4 733.1 873.8 733.9 874.2 736.8 874.6 737.5 875.0 735.2 875.4 732.9 875.8 732.6 876.2 732.7 876.6 732.2 877.0 733.2 877.4 733.6 877.8 733.7 878.2 733.6 878.6 734.2 879.0 735.0 879.4 734.7 879.8 733.3 880.2 731.7 880.6 732.2 881.0 732.9 881.4 735.2 881.8 735.1 882.2 735.7 882.6 734.0 883.0 732.6 883.4 730.9 883.8 732.2 884.2 734.7 884.6 735.0 885.0 734.8 885.4 733.5 885.8 732.8 886.2 731.9 886.6 733.5 887.0 734.5 887.4 734.4 887.8 732.0 888.2 731.5 888.6 732.2 889.0 734.8 889.4 734.7 889.8 733.5 890.2 731.6 890.6 731.6 891.0 732.9 891.4 733.6 891.8 734.9 892.2 735.1 892.6 734.8 893.0 733.1 893.4 732.1 893.8 731.8 894.2 733.2 894.6 735.4 895.0 735.4 895.4 733.6 895.8 733.8 896.2 734.2 896.6 734.2 897.0 733.7 897.4 734.2 897.8 733.9 898.2 733.4 898.6 733.8 899.0 733.1 899.4 733.1 899.8 733.8 900.2 734.4 900.6 734.6 901.0 734.1 901.4 732.7 901.8 730.6 902.2 731.7 902.6 734.4 903.0 735.5 903.4 734.0 903.8 732.8 904.2 733.8 904.6 734.9 905.0 733.8 905.4 733.0 905.8 733.1 906.2 733.9 906.6 733.9 907.0 734.6 907.4 734.6 907.8 733.7 908.2 733.2 908.6 733.7 909.0 735.4 909.4 735.0 909.8 734.4 910.2 733.2 910.6 734.2 911.0 734.3 911.4 732.8 911.8 733.0 912.2 734.1 912.6 735.4 913.0 733.7 913.4 733.1 913.8 732.8 914.2 733.6 914.6 734.7 915.0 735.4 915.4 735.3 915.8 734.3 916.2 734.2 916.6 734.0 917.0 734.5 917.4 734.6 917.8 734.3 918.2 734.3 918.6 734.6 919.0 734.7 919.4 735.2 919.8 736.5 920.2 735.7 920.6 732.1 921.0 730.4 921.4 732.4 921.8 735.1 922.2 736.4 922.6 735.9 923.0 735.3 923.4 735.4 923.8 735.2 924.2 734.7 924.6 735.3 925.0 735.3 925.4 734.3 925.8 732.9 926.2 734.4 926.6 735.9 927.0 736.8 927.4 735.4 927.8 734.3 928.2 734.5 928.6 734.9 929.0 735.4 929.4 734.7 929.8 734.3 930.2 733.6 930.6 734.3 931.0 735.9 931.4 735.9 931.8 736.4 932.2 735.2 932.6 734.3 933.0 731.9 933.4 733.1 933.8 735.9 934.2 737.1 934.6 735.8 935.0 734.5 935.4 734.2 935.8 734.4 936.2 735.3 936.6 736.2 937.0 735.2 937.4 734.9 937.8 735.9 938.2 735.8 938.6 735.2 939.0 735.2 939.4 734.1 939.8 733.5 940.2 734.9 940.6 736.1 941.0 736.0 941.4 735.3 941.8 736.2 942.2 735.3 942.6 734.6 943.0 732.9 943.4 734.5 943.8 735.3 944.2 735.6 944.6 735.4 945.0 737.0 945.4 737.4 945.8 735.2 946.2 734.2 946.6 733.5 947.0 733.7 947.4 734.6 947.8 736.5 948.2 737.1 948.6 735.5 949.0 734.8 949.4 735.7 949.8 735.4 950.2 735.5 950.6 736.0 951.0 736.3 951.4 734.4 951.8 733.8 952.2 734.7 952.6 736.9 953.0 736.6 953.4 736.7 953.8 735.6 954.2 735.9 954.6 735.0 955.0 735.3 955.4 736.1 955.8 736.2 956.2 736.3 956.6 735.6 957.0 736.0 957.4 735.2 957.8 735.3 958.2 734.2 958.6 734.3 959.0 735.6 959.4 737.9 959.8 736.8 960.2 734.4 960.6 733.5 961.0 736.1 961.4 737.4 961.8 737.2 962.2 735.6 962.6 735.6 963.0 735.1 963.4 735.2 963.8 735.6 964.2 736.7 964.6 735.7 965.0 735.5 965.4 736.6 965.8 737.9 966.2 737.2 966.6 733.8 967.0 733.3 967.4 734.9 967.8 737.7 968.2 737.2 968.6 736.2 969.0 737.3 969.4 737.1 969.8 735.8 970.2 734.9 970.6 736.1 971.0 735.0 971.4 734.1 971.8 735.1 972.2 736.2 972.6 736.2 973.0 736.1 973.4 735.1 973.8 734.7 974.2 736.8 974.6 739.8 975.0 738.5 975.4 735.4 975.8 734.1 976.2 735.5 976.6 735.8 977.0 735.1 977.4 735.8 977.8 737.2 978.2 738.2 978.6 737.4 979.0 737.8 979.4 737.1 979.8 736.8 980.2 735.7 980.6 734.8 981.0 734.8 981.4 734.9 981.8 735.6 982.2 736.1 982.6 737.0 983.0 737.3 983.4 736.6 983.8 736.2 984.2 737.1 984.6 737.7 985.0 737.5 985.4 735.0 985.8 733.8 986.2 735.0 986.6 736.8 987.0 736.5 987.4 736.1 987.8 736.3 988.2 737.2 988.6 737.1 989.0 737.3 989.4 735.1 989.8 735.8 990.2 735.8 990.6 735.7 991.0 735.5 991.4 736.3 991.8 737.1 992.2 736.9 992.6 737.4 993.0 736.0 993.4 735.2 993.8 735.5 994.2 735.6 994.6 736.1 995.0 736.3 995.4 736.9 995.8 736.4 996.2 736.3 996.6 736.2 997.0 736.8 997.4 737.2 997.8 737.2 998.2 736.1 998.6 734.6 999.0 734.8 999.4 737.0 999.8 738.0 1000.2 736.4 1000.6 735.1 1001.0 736.2 1001.4 738.3 1001.8 738.6 1002.2 736.9 1002.6 735.7 1003.0 736.4 1003.4 737.3 1003.8 737.9 1004.2 737.3 1004.6 737.6 1005.0 738.1 1005.4 737.6 1005.8 735.5 1006.2 734.8 1006.6 738.0 1007.0 739.7 1007.4 738.9 1007.8 737.5 1008.2 737.2 1008.6 736.1 1009.0 734.8 1009.4 736.4 1009.8 737.0 1010.2 736.1 1010.6 735.9 1011.0 737.7 1011.4 739.6 1011.8 738.6 1012.2 737.4 1012.6 736.1 1013.0 736.1 1013.4 736.4 1013.8 736.9 1014.2 738.3 1014.6 738.2 1015.0 737.3 1015.4 736.7 1015.8 737.6 1016.2 739.0 1016.6 739.0 1017.0 737.8 1017.4 736.4 1017.8 735.1 1018.2 735.3 1018.6 736.0 1019.0 738.2 1019.4 738.8 1019.8 739.2 1020.2 739.0 1020.6 737.6 1021.0 736.1 1021.4 735.4 1021.8 736.9 1022.2 736.8 1022.6 737.3 1023.0 738.3 1023.4 739.3 1023.8 739.2 1024.2 738.0 1024.6 738.1 1025.0 737.8 1025.4 737.2 1025.8 736.6 1026.2 738.1 1026.6 739.4 1027.0 738.1 1027.4 736.6 1027.8 736.8 1028.2 736.2 1028.6 737.1 1029.0 738.8 1029.4 740.3 1029.8 739.8 1030.2 739.0 1030.6 738.0 1031.0 737.8 1031.4 739.0 1031.8 739.3 1032.2 737.2 1032.6 735.7 1033.0 737.0 1033.4 738.2 1033.8 740.6 1034.2 739.8 1034.6 739.3 1035.0 737.7 1035.4 738.1 1035.8 738.7 1036.2 738.7 1036.6 738.9 1037.0 738.0 1037.4 737.0 1037.8 737.1 1038.2 737.6 1038.6 737.7 1039.0 737.6 1039.4 738.3 1039.8 739.0 1040.2 739.8 1040.6 740.1 1041.0 739.6 1041.4 737.5 1041.8 737.7 1042.2 738.5 1042.6 738.9 1043.0 738.3 1043.4 738.1 1043.8 738.5 1044.2 738.1 1044.6 739.8 1045.0 740.3 1045.4 739.4 1045.8 737.9 1046.2 738.1 1046.6 736.9 1047.0 737.2 1047.4 738.9 1047.8 741.6 1048.2 741.0 1048.6 738.9 1049.0 737.9 1049.4 738.1 1049.8 738.9 1050.2 738.6 1050.6 739.2 1051.0 738.6 1051.4 738.9 1051.8 738.3 1052.2 740.0 1052.6 740.9 1053.0 740.8 1053.4 738.1 1053.8 737.1 1054.2 737.5 1054.6 737.8 1055.0 739.2 1055.4 740.7 1055.8 740.3 1056.2 738.9 1056.6 738.3 1057.0 739.1 1057.4 738.4 1057.8 739.4 1058.2 739.5 1058.6 740.7 1059.0 739.3 1059.4 739.7 1059.8 739.0 1060.2 740.8 1060.6 740.6 1061.0 739.6 1061.4 737.5 1061.8 737.1 1062.2 738.4 1062.6 739.7 1063.0 740.1 1063.4 740.0 1063.8 740.6 1064.2 739.7 1064.6 739.2 1065.0 740.3 1065.4 741.0 1065.8 739.5 1066.2 738.2 1066.6 739.0 1067.0 739.0 1067.4 739.0 1067.8 740.5 1068.2 742.2 1068.6 741.7 1069.0 739.1 1069.4 737.6 1069.8 738.6 1070.2 739.8 1070.6 740.0 1071.0 740.0 1071.4 740.2 1071.8 739.8 1072.2 739.1 1072.6 740.2 1073.0 740.8 1073.4 741.0 1073.8 740.3 1074.2 740.9 1074.6 739.6 1075.0 738.0 1075.4 736.7 1075.8 739.4 1076.2 742.1 1076.6 741.6 1077.0 739.0 1077.4 738.4 1077.8 739.8 1078.2 741.1 1078.6 740.7 1079.0 739.4 1079.4 739.2 1079.8 741.4 1080.2 742.0 1080.6 739.8 1081.0 738.4 1081.4 738.4 1081.8 739.7 1082.2 739.8 1082.6 740.9 1083.0 740.5 1083.4 740.7 1083.8 740.6 1084.2 740.5 1084.6 739.6 1085.0 739.7 1085.4 739.7 1085.8 740.3 1086.2 740.2 1086.6 740.3 1087.0 740.0" stroke="#008000" stroke-width="3.7" fill="none" stroke-linejoin="round"/>
<path d="M257.7 709.3L258.1 709.2 258.5 709.0 258.9 708.6 259.3 708.5 259.7 707.8 260.1 707.3 260.5 707.3 260.9 709.1 261.3 709.4 261.7 707.8 262.1 707.0 262.5 706.5 262.9 706.6 263.3 705.9 263.7 707.4 264.1 708.9 264.5 708.5 264.9 705.7 265.3 704.3 265.7 705.5 266.1 707.4 266.5 707.7 266.9 706.2 267.3 705.2 267.7 705.7 268.1 705.5 268.5 704.6 268.9 704.1 269.3 704.1 269.7 704.1 270.1 705.1 270.5 706.4 270.9 705.4 271.3 703.6 271.7 703.2 272.1 703.8 272.5 703.9 272.9 704.8 273.3 703.4 273.7 701.7 274.1 699.7 274.5 701.1 274.9 702.7 275.3 703.3 275.7 702.2 276.1 700.5 276.5 700.2 276.9 700.6 277.3 702.6 277.7 703.3 278.1 702.5 278.5 701.0 278.9 700.4 279.3 700.9 279.7 701.8 280.1 701.9 280.5 701.0 280.9 701.5 281.3 702.5 281.7 703.3 282.1 703.4 282.5 702.8 282.9 702.7 283.3 703.9 283.7 704.8 284.1 703.1 284.5 701.5 284.9 700.3 285.3 700.9 285.7 701.7 286.1 703.0 286.5 703.9 286.9 703.4 287.3 701.7 287.7 701.4 288.1 701.6 288.5 701.9 288.9 700.4 289.3 699.8 289.7 698.8 290.1 698.5 290.5 698.5 290.9 698.0 291.3 697.8 291.7 697.7 292.1 699.3 292.5 698.1 292.9 696.6 293.3 695.7 293.7 696.6 294.1 697.0 294.5 697.2 294.9 697.6 295.3 696.5 295.7 695.7 296.1 695.3 296.5 695.0 296.9 695.1 297.3 694.6 297.7 694.2 298.1 693.0 298.5 694.1 298.9 694.6 299.3 694.3 299.7 693.6 300.1 693.6 300.5 693.9 300.9 693.2 301.3 693.2 301.7 692.7 302.1 691.0 302.5 690.9 302.9 691.7 303.3 691.5 303.7 690.0 304.1 688.9 304.5 688.9 304.9 688.6 305.3 689.2 305.7 689.5 306.1 689.7 306.5 689.8 306.9 688.5 307.3 686.1 307.7 686.0 308.1 685.7 308.5 685.7 308.9 685.0 309.3 685.2 309.7 685.7 310.1 686.0 310.5 685.6 310.9 684.6 311.3 684.0 311.7 684.4 312.1 685.6 312.5 686.2 312.9 685.2 313.3 685.0 313.7 684.4 314.1 683.4 314.5 682.4 314.9 682.8 315.3 683.5 315.7 684.5 316.1 685.1 316.5 684.5 316.9 684.5 317.3 685.0 317.7 685.4 318.1 684.4 318.5 683.1 318.9 683.2 319.3 684.0 319.7 684.9 320.1 683.9 320.5 683.2 320.9 681.9 321.3 682.0 321.7 682.4 322.1 682.7 322.5 683.6 322.9 682.6 323.3 682.3 323.7 680.5 324.1 681.0 324.5 680.3 324.9 681.0 325.3 681.2 325.7 681.1 326.1 679.8 326.5 678.8 326.9 679.2 327.3 680.4 327.7 681.7 328.1 680.2 328.5 678.6 328.9 677.2 329.3 677.9 329.7 677.8 330.1 678.6 330.5 678.9 330.9 678.4 331.3 678.9 331.7 679.2 332.1 679.1 332.5 678.7 332.9 677.9 333.3 676.8 333.7 676.8 334.1 677.6 334.5 676.5 334.9 675.6 335.3 676.7 335.7 677.0 336.1 675.0 336.5 673.8 336.9 674.3 337.3 674.5 337.7 673.7 338.1 673.5 338.5 674.2 338.9 673.5 339.3 671.8 339.7 670.9 340.1 671.2 340.5 671.6 340.9 672.2 341.3 673.6 341.7 673.6 342.1 673.2 342.5 670.8 342.9 669.3 343.3 669.4 343.7 669.8 344.1 670.7 344.5 670.8 344.9 671.4 345.3 670.0 345.7 668.4 346.1 667.0 346.5 666.6 346.9 667.3 347.3 668.9 347.7 668.8 348.1 667.7 348.5 665.2 348.9 665.0 349.3 665.4 349.7 666.9 350.1 667.9 350.5 667.8 350.9 665.9 351.3 664.3 351.7 664.5 352.1 665.3 352.5 664.7 352.9 664.8 353.3 664.4 353.7 664.5 354.1 664.0 354.5 662.8 354.9 662.5 355.3 664.6 355.7 666.1 356.1 664.6 356.5 663.4 356.9 662.9 357.3 662.8 357.7 662.9 358.1 663.4 358.5 663.0 358.9 662.1 359.3 661.7 359.7 661.8 360.1 661.7 360.5 661.1 360.9 659.9 361.3 660.7 361.7 661.1 362.1 661.0 362.5 660.7 362.9 659.4 363.3 657.9 363.7 657.8 364.1 660.5 364.5 661.4 364.9 660.3 365.3 657.6 365.7 656.9 366.1 656.8 366.5 657.8 366.9 657.2 367.3 657.7 367.7 657.0 368.1 657.3 368.5 655.5 368.9 656.0 369.3 656.4 369.7 658.7 370.1 658.5 370.5 656.1 370.9 655.0 371.3 655.1 371.7 655.0 372.1 653.7 372.5 653.1 372.9 653.6 373.3 654.0 373.7 654.5 374.1 654.0 374.5 653.1 374.9 652.5 375.3 652.9 375.7 654.5 376.1 654.3 376.5 652.7 376.9 650.6 377.3 650.0 377.7 650.4 378.1 651.2 378.5 650.6 378.9 649.7 379.3 649.3 379.7 649.6 380.1 649.2 380.5 649.3 380.9 649.0 381.3 649.0 381.7 648.0 382.1 647.8 382.5 646.7 382.9 647.8 383.3 648.9 383.7 650.6 384.1 649.6 384.5 647.6 384.9 645.6 385.3 646.1 385.7 648.0 386.1 649.5 386.5 649.7 386.9 647.8 387.3 647.6 387.7 648.1 388.1 648.4 388.5 645.7 388.9 644.1 389.3 644.6 389.7 647.3 390.1 648.2 390.5 647.8 390.9 647.4 391.3 648.3 391.7 648.6 392.1 647.9 392.5 648.1 392.9 647.8 393.3 647.4 393.7 646.7 394.1 646.3 394.5 646.3 394.9 647.8 395.3 650.0 395.7 650.5 396.1 649.8 396.5 648.1 396.9 645.8 397.3 644.0 397.7 644.3 398.1 644.9 398.5 645.9 398.9 646.3 399.3 645.6 399.7 644.5 400.1 644.0 400.5 644.6 400.9 643.3 401.3 642.8 401.7 641.9 402.1 642.0 402.5 642.7 402.9 644.8 403.3 645.4 403.7 644.7 404.1 643.3 404.5 643.3 404.9 644.3 405.3 644.8 405.7 644.6 406.1 644.1 406.5 645.7 406.9 647.8 407.3 649.9 407.7 649.9 408.1 647.9 408.5 646.0 408.9 645.9 409.3 647.9 409.7 649.0 410.1 648.1 410.5 646.3 410.9 645.3 411.3 645.7 411.7 646.7 412.1 646.3 412.5 644.2 412.9 644.5 413.3 645.4 413.7 645.7 414.1 644.5 414.5 644.7 414.9 644.0 415.3 643.4 415.7 642.1 416.1 643.4 416.5 645.7 416.9 646.4 417.3 645.0 417.7 643.7 418.1 643.7 418.5 643.6 418.9 643.6 419.3 644.5 419.7 644.3 420.1 643.7 420.5 643.8 420.9 644.1 421.3 645.3 421.7 645.4 422.1 646.2 422.5 646.1 422.9 646.3 423.3 646.0 423.7 644.8 424.1 645.1 424.5 645.6 424.9 645.6 425.3 645.4 425.7 645.8 426.1 646.5 426.5 645.6 426.9 645.5 427.3 646.5 427.7 646.7 428.1 644.3 428.5 642.3 428.9 642.7 429.3 644.9 429.7 646.6 430.1 646.9 430.5 645.5 430.9 644.9 431.3 644.9 431.7 644.7 432.1 642.9 432.5 643.1 432.9 643.2 433.3 644.7 433.7 646.2 434.1 647.3 434.5 645.1 434.9 642.7 435.3 642.2 435.7 643.4 436.1 645.0 436.5 645.2 436.9 644.2 437.3 643.1 437.7 644.3 438.1 645.7 438.5 645.6 438.9 644.3 439.3 643.8 439.7 643.3 440.1 642.9 440.5 643.3 440.9 643.6 441.3 643.8 441.7 644.0 442.1 644.5 442.5 644.9 442.9 644.4 443.3 643.6 443.7 642.2 444.1 642.3 444.5 640.6 444.9 639.8 445.3 638.9 445.7 639.4 446.1 639.9 446.5 638.5 446.9 636.8 447.3 635.3 447.7 636.8 448.1 638.4 448.5 639.1 448.9 638.5 449.3 638.7 449.7 639.5 450.1 639.2 450.5 637.2 450.9 636.2 451.3 637.0 451.7 637.5 452.1 637.5 452.5 637.0 452.9 637.5 453.3 637.3 453.7 636.4 454.1 636.6 454.5 635.8 454.9 636.1 455.3 634.6 455.7 634.3 456.1 633.1 456.5 633.9 456.9 633.0 457.3 631.8 457.7 631.5 458.1 633.0 458.5 633.1 458.9 631.3 459.3 629.3 459.7 628.3 460.1 628.6 460.5 630.3 460.9 631.1 461.3 631.4 461.7 630.4 462.1 628.3 462.5 626.4 462.9 626.9 463.3 627.8 463.7 628.4 464.1 626.4 464.5 625.0 464.9 623.7 465.3 625.0 465.7 625.2 466.1 624.6 466.5 624.0 466.9 622.9 467.3 622.8 467.7 623.4 468.1 624.2 468.5 623.9 468.9 622.9 469.3 623.2 469.7 623.5 470.1 624.4 470.5 624.9 470.9 624.1 471.3 624.6 471.7 625.0 472.1 624.9 472.5 624.7 472.9 624.9 473.3 626.7 473.7 627.3 474.1 627.7 474.5 626.3 474.9 625.3 475.3 625.3 475.7 626.0 476.1 628.2 476.5 629.7 476.9 630.1 477.3 629.6 477.7 629.5 478.1 628.5 478.5 627.0 478.9 627.9 479.3 629.2 479.7 631.0 480.1 631.8 480.5 632.3 480.9 631.6 481.3 630.4 481.7 630.2 482.1 630.2 482.5 631.1 482.9 632.5 483.3 632.9 483.7 633.4 484.1 632.9 484.5 633.6 484.9 634.7 485.3 634.4 485.7 634.6 486.1 634.2 486.5 635.8 486.9 635.6 487.3 635.8 487.7 634.8 488.1 633.3 488.5 635.3 488.9 638.2 489.3 639.7 489.7 636.9 490.1 636.6 490.5 638.7 490.9 640.8 491.3 639.3 491.7 637.5 492.1 637.8 492.5 639.7 492.9 641.4 493.3 641.2 493.7 640.3 494.1 638.2 494.5 639.6 494.9 641.9 495.3 643.6 495.7 642.0 496.1 642.2 496.5 642.5 496.9 642.9 497.3 641.5 497.7 641.3 498.1 641.5 498.5 642.1 498.9 643.7 499.3 645.2 499.7 645.7 500.1 644.4 500.5 643.8 500.9 643.2 501.3 644.0 501.7 644.5 502.1 645.2 502.5 645.7 502.9 646.4 503.3 646.2 503.7 647.1 504.1 647.6 504.5 647.7 504.9 647.1 505.3 648.1 505.7 649.0 506.1 647.5 506.5 646.7 506.9 648.1 507.3 651.6 507.7 652.7 508.1 651.7 508.5 650.8 508.9 649.8 509.3 649.0 509.7 649.3 510.1 651.3 510.5 653.0 510.9 652.8 511.3 652.9 511.7 653.5 512.1 654.5 512.5 654.3 512.9 652.8 513.3 652.4 513.7 654.4 514.1 655.8 514.5 655.6 514.9 655.7 515.3 654.8 515.7 656.1 516.1 657.8 516.5 659.3 516.9 656.6 517.3 655.0 517.7 657.6 518.1 659.8 518.5 661.1 518.9 658.8 519.3 658.6 519.7 659.0 520.1 659.5 520.5 659.8 520.9 659.6 521.3 660.8 521.7 661.9 522.1 662.3 522.5 663.0 522.9 662.4 523.3 662.2 523.7 662.0 524.1 663.2 524.5 664.6 524.9 663.2 525.3 661.5 525.7 660.0 526.1 663.2 526.5 666.3 526.9 667.3 527.3 665.8 527.7 663.4 528.1 662.7 528.5 663.8 528.9 666.1 529.3 667.7 529.7 666.6 530.1 666.3 530.5 665.2 530.9 665.7 531.3 665.6 531.7 666.4 532.1 667.6 532.5 668.0 532.9 667.8 533.3 667.1 533.7 667.3 534.1 667.0 534.5 668.0 534.9 669.3 535.3 670.6 535.7 670.3 536.1 669.6 536.5 668.7 536.9 668.2 537.3 668.7 537.7 670.6 538.1 672.1 538.5 671.4 538.9 669.4 539.3 670.1 539.7 672.9 540.1 674.8 540.5 675.4 540.9 674.0 541.3 673.1 541.7 671.9 542.1 674.4 542.5 675.8 542.9 676.8 543.3 676.2 543.7 675.9 544.1 675.8 544.5 674.4 544.9 674.2 545.3 674.1 545.7 676.4 546.1 678.3 546.5 679.3 546.9 677.7 547.3 675.7 547.7 676.3 548.1 677.5 548.5 678.2 548.9 677.1 549.3 677.3 549.7 678.1 550.1 679.7 550.5 679.3 550.9 678.8 551.3 677.6 551.7 678.3 552.1 679.0 552.5 679.8 552.9 680.1 553.3 679.4 553.7 680.4 554.1 680.9 554.5 682.3 554.9 681.6 555.3 680.8 555.7 680.0 556.1 680.6 556.5 681.6 556.9 682.1 557.3 681.2 557.7 681.4 558.1 681.6 558.5 680.9 558.9 681.3 559.3 682.4 559.7 683.6 560.1 682.4 560.5 681.7 560.9 682.0 561.3 684.2 561.7 684.9 562.1 683.2 562.5 681.5 562.9 682.2 563.3 684.0 563.7 683.7 564.1 682.8 564.5 681.9 564.9 683.5 565.3 685.1 565.7 686.0 566.1 686.4 566.5 686.4 566.9 686.6 567.3 684.8 567.7 684.0 568.1 684.0 568.5 686.2 568.9 687.6 569.3 687.6 569.7 687.1 570.1 687.1 570.5 688.0 570.9 687.7 571.3 687.2 571.7 687.8 572.1 688.7 572.5 689.9 572.9 689.0 573.3 688.8 573.7 688.3 574.1 688.7 574.5 689.7 574.9 689.6 575.3 689.9 575.7 688.1 576.1 688.7 576.5 689.2 576.9 691.5 577.3 693.0 577.7 692.8 578.1 691.4 578.5 689.3 578.9 689.4 579.3 689.9 579.7 691.2 580.1 692.2 580.5 692.8 580.9 693.4 581.3 692.8 581.7 692.7 582.1 692.0 582.5 692.5 582.9 691.3 583.3 692.0 583.7 693.3 584.1 695.3 584.5 695.3 584.9 694.0 585.3 693.4 585.7 693.5 586.1 695.0 586.5 696.0 586.9 695.9 587.3 695.0 587.7 694.3 588.1 693.8 588.5 694.3 588.9 695.9 589.3 696.9 589.7 695.5 590.1 694.2 590.5 695.2 590.9 697.1 591.3 696.5 591.7 695.5 592.1 694.5 592.5 695.1 592.9 695.5 593.3 696.9 593.7 697.1 594.1 696.1 594.5 695.4 594.9 695.1 595.3 696.8 595.7 696.7 596.1 697.2 596.5 696.7 596.9 697.7 597.3 696.7 597.7 696.2 598.1 696.2 598.5 696.6 598.9 696.8 599.3 697.1 599.7 697.1 600.1 697.3 600.5 697.9 600.9 697.9 601.3 697.8 601.7 697.5 602.1 697.6 602.5 697.6 602.9 698.9 603.3 699.4 603.7 697.8 604.1 697.6 604.5 699.4 604.9 700.4 605.3 699.6 605.7 699.3 606.1 698.3 606.5 698.2 606.9 699.1 607.3 701.0 607.7 701.4 608.1 700.3 608.5 699.9 608.9 701.0 609.3 701.0 609.7 699.8 610.1 699.5 610.5 701.1 610.9 700.2 611.3 699.9 611.7 700.8 612.1 701.2 612.5 701.0 612.9 701.7 613.3 703.2 613.7 703.6 614.1 702.3 614.5 701.0 614.9 699.4 615.3 699.3 615.7 700.4 616.1 703.1 616.5 704.4 616.9 704.3 617.3 702.7 617.7 701.4 618.1 700.7 618.5 701.6 618.9 702.4 619.3 704.8 619.7 706.4 620.1 705.7 620.5 703.4 620.9 702.5 621.3 703.0 621.7 703.3 622.1 702.5 622.5 703.3 622.9 704.7 623.3 706.5 623.7 705.9 624.1 705.6 624.5 705.0 624.9 703.9 625.3 703.9 625.7 705.0 626.1 705.7 626.5 704.1 626.9 704.5 627.3 705.3 627.7 706.0 628.1 705.1 628.5 706.7 628.9 706.3 629.3 706.9 629.7 704.9 630.1 705.9 630.5 705.9 630.9 706.1 631.3 705.4 631.7 706.2 632.1 706.7 632.5 706.7 632.9 707.3 633.3 708.6 633.7 707.5 634.1 706.6 634.5 705.7 634.9 706.7 635.3 707.2 635.7 706.9 636.1 707.5 636.5 708.1 636.9 709.3 637.3 709.4 637.7 709.0 638.1 706.5 638.5 705.7 638.9 707.4 639.3 710.0 639.7 710.5 640.1 709.9 640.5 708.4 640.9 707.6 641.3 709.9 641.7 712.4 642.1 711.9 642.5 709.6 642.9 709.3 643.3 708.9 643.7 708.2 644.1 708.9 644.5 711.7 644.9 713.4 645.3 712.7 645.7 710.7 646.1 709.2 646.5 709.9 646.9 711.3 647.3 711.4 647.7 710.7 648.1 709.6 648.5 709.2 648.9 708.8 649.3 710.7 649.7 712.9 650.1 714.0 650.5 711.3 650.9 709.5 651.3 710.7 651.7 713.0 652.1 712.4 652.5 711.0 652.9 710.8 653.3 710.9 653.7 711.1 654.1 712.2 654.5 712.5 654.9 712.2 655.3 711.3 655.7 711.2 656.1 712.1 656.5 713.2 656.9 712.9 657.3 711.4 657.7 711.7 658.1 711.6 658.5 712.6 658.9 712.3 659.3 713.9 659.7 714.9 660.1 715.3 660.5 712.5 660.9 709.7 661.3 709.3 661.7 711.0 662.1 712.8 662.5 714.9 662.9 715.8 663.3 714.6 663.7 713.7 664.1 713.4 664.5 713.7 664.9 713.3 665.3 712.1 665.7 711.7 666.1 713.4 666.5 714.9 666.9 714.4 667.3 713.8 667.7 713.8 668.1 713.0 668.5 713.6 668.9 713.7 669.3 713.3 669.7 713.5 670.1 715.2 670.5 717.0 670.9 716.3 671.3 714.5 671.7 713.9 672.1 713.7 672.5 713.9 672.9 713.6 673.3 715.8 673.7 716.4 674.1 715.4 674.5 714.0 674.9 715.1 675.3 715.2 675.7 714.0 676.1 714.3 676.5 716.4 676.9 716.8 677.3 715.9 677.7 715.8 678.1 715.4 678.5 714.7 678.9 715.7 679.3 717.0 679.7 717.9 680.1 716.9 680.5 716.0 680.9 715.4 681.3 715.3 681.7 716.1 682.1 716.2 682.5 716.7 682.9 716.4 683.3 716.3 683.7 717.4 684.1 717.2 684.5 717.3 684.9 715.8 685.3 717.0 685.7 717.1 686.1 717.8 686.5 717.5 686.9 717.8 687.3 717.8 687.7 717.7 688.1 717.9 688.5 717.7 688.9 717.2 689.3 717.0 689.7 717.0 690.1 716.9 690.5 718.1 690.9 718.1 691.3 719.0 691.7 718.5 692.1 719.4 692.5 718.5 692.9 718.7 693.3 718.9 693.7 720.3 694.1 720.5 694.5 719.3 694.9 717.5 695.3 718.7 695.7 720.3 696.1 721.6 696.5 720.4 696.9 718.1 697.3 717.3 697.7 717.0 698.1 718.1 698.5 719.2 698.9 720.5 699.3 720.0 699.7 717.7 700.1 718.3 700.5 719.7 700.9 720.9 701.3 720.4 701.7 718.7 702.1 717.7 702.5 717.7 702.9 719.8 703.3 720.6 703.7 719.4 704.1 718.2 704.5 719.3 704.9 720.4 705.3 721.0 705.7 721.1 706.1 721.2 706.5 720.7 706.9 719.0 707.3 718.4 707.7 718.4 708.1 720.1 708.5 721.5 708.9 721.3 709.3 720.7 709.7 719.8 710.1 719.6 710.5 718.8 710.9 718.9 711.3 719.7 711.7 720.0 712.1 721.8 712.5 722.6 712.9 723.1 713.3 721.5 713.7 723.2 714.1 722.0 714.5 721.1 714.9 720.0 715.3 722.4 715.7 722.9 716.1 721.8 716.5 721.8 716.9 722.6 717.3 723.1 717.7 721.9 718.1 721.4 718.5 721.8 718.9 721.1 719.3 721.3 719.7 721.3 720.1 722.5 720.5 722.9 720.9 722.5 721.3 722.9 721.7 723.7 722.1 723.5 722.5 721.4 722.9 720.3 723.3 721.4 723.7 723.3 724.1 723.5 724.5 722.1 724.9 721.5 725.3 722.2 725.7 722.4 726.1 721.8 726.5 721.4 726.9 722.2 727.3 723.1 727.7 722.8 728.1 722.2 728.5 723.2 728.9 724.1 729.3 723.3 729.7 721.7 730.1 721.5 730.5 722.1 730.9 723.8 731.3 723.7 731.7 722.2 732.1 721.2 732.5 722.7 732.9 723.1 733.3 723.0 733.7 722.6 734.1 722.9 734.5 723.2 734.9 724.7 735.3 724.7 735.7 724.0 736.1 723.4 736.5 724.6 736.9 724.6 737.3 724.4 737.7 724.7 738.1 725.5 738.5 725.1 738.9 722.8 739.3 721.8 739.7 723.2 740.1 725.7 740.5 726.1 740.9 725.3 741.3 723.3 741.7 723.0 742.1 723.9 742.5 725.0 742.9 725.2 743.3 724.4 743.7 723.7 744.1 723.7 744.5 723.5 744.9 723.9 745.3 725.1 745.7 726.2 746.1 725.6 746.5 724.3 746.9 723.8 747.3 723.7 747.7 723.8 748.1 724.3 748.5 724.3 748.9 723.9 749.3 723.8 749.7 725.0 750.1 726.5 750.5 726.1 750.9 724.9 751.3 723.2 751.7 722.9 752.1 723.5 752.5 725.0 752.9 725.9 753.3 724.4 753.7 724.0 754.1 723.9 754.5 725.9 754.9 725.5 755.3 726.0 755.7 725.5 756.1 724.7 756.5 724.3 756.9 724.5 757.3 725.3 757.7 725.8 758.1 726.9 758.5 727.4 758.9 727.6 759.3 726.1 759.7 725.9 760.1 725.4 760.5 726.3 760.9 725.8 761.3 725.6 761.7 726.1 762.1 726.4 762.5 726.7 762.9 727.3 763.3 726.7 763.7 725.1 764.1 724.9 764.5 726.8 764.9 728.3 765.3 728.0 765.7 727.7 766.1 727.4 766.5 727.4 766.9 727.5 767.3 727.5 767.7 727.3 768.1 726.0 768.5 724.2 768.9 725.4 769.3 728.3 769.7 730.5 770.1 729.2 770.5 726.8 770.9 725.3 771.3 726.1 771.7 728.2 772.1 729.8 772.5 729.7 772.9 726.9 773.3 726.3 773.7 726.3 774.1 727.9 774.5 728.1 774.9 729.0 775.3 729.4 775.7 729.8 776.1 728.0 776.5 725.5 776.9 725.8 777.3 728.5 777.7 728.9 778.1 727.4 778.5 727.1 778.9 728.3 779.3 728.6 779.7 728.4 780.1 726.9 780.5 728.0 780.9 729.1 781.3 729.4 781.7 726.9 782.1 725.9 782.5 727.1 782.9 730.1 783.3 732.1 783.7 731.2 784.1 728.8 784.5 726.9 784.9 727.6 785.3 728.3 785.7 729.5 786.1 729.8 786.5 730.4 786.9 729.3 787.3 729.5 787.7 729.4 788.1 728.9 788.5 727.8 788.9 728.0 789.3 728.8 789.7 729.4 790.1 730.5 790.5 732.1 790.9 731.6 791.3 730.9 791.7 727.9 792.1 728.5 792.5 729.0 792.9 731.5 793.3 730.7 793.7 731.0 794.1 731.0 794.5 730.8 794.9 729.9 795.3 727.4 795.7 727.5 796.1 728.4 796.5 730.2 796.9 730.7 797.3 731.3 797.7 731.2 798.1 729.0 798.5 728.7 798.9 729.2 799.3 731.4 799.7 731.4 800.1 730.3 800.5 729.1 800.9 731.0 801.3 732.0 801.7 732.5 802.1 731.3 802.5 729.9 802.9 729.3 803.3 732.0 803.7 734.2 804.1 732.4 804.5 730.0 804.9 729.2 805.3 731.8 805.7 733.3 806.1 731.9 806.5 729.8 806.9 730.2 807.3 731.0 807.7 729.9 808.1 729.9 808.5 731.9 808.9 732.4 809.3 731.7 809.7 731.2 810.1 731.4 810.5 730.9 810.9 730.2 811.3 731.4 811.7 732.4 812.1 732.3 812.5 732.9 812.9 734.4 813.3 733.6 813.7 731.4 814.1 730.0 814.5 731.1 814.9 732.4 815.3 733.4 815.7 733.6 816.1 733.4 816.5 732.0 816.9 729.7 817.3 729.2 817.7 731.4 818.1 733.3 818.5 732.8 818.9 732.1 819.3 731.7 819.7 730.8 820.1 730.2 820.5 731.2 820.9 732.5 821.3 733.0 821.7 732.1 822.1 731.8 822.5 732.4 822.9 732.9 823.3 732.1 823.7 732.1 824.1 732.8 824.5 732.0 824.9 730.6 825.3 731.5 825.7 732.8 826.1 734.2 826.5 734.0 826.9 733.3 827.3 732.5 827.7 731.8 828.1 732.2 828.5 732.1 828.9 732.4 829.3 732.1 829.7 732.1 830.1 731.3 830.5 730.3 830.9 731.2 831.3 732.7 831.7 733.4 832.1 733.6 832.5 732.7 832.9 732.0 833.3 732.7 833.7 733.2 834.1 733.8 834.5 733.0 834.9 733.6 835.3 733.0 835.7 733.1 836.1 733.0 836.5 733.6 836.9 733.6 837.3 732.6 837.7 732.6 838.1 733.4 838.5 733.9 838.9 733.5 839.3 733.6 839.7 732.6 840.1 732.4 840.5 732.7 840.9 732.7 841.3 732.0 841.7 732.5 842.1 734.5 842.5 734.7 842.9 734.8 843.3 733.4 843.7 733.6 844.1 733.0 844.5 733.9 844.9 734.2 845.3 734.2 845.7 732.6 846.1 732.8 846.5 732.5 846.9 732.7 847.3 733.5 847.7 735.1 848.1 735.2 848.5 734.0 848.9 733.9 849.3 733.5 849.7 733.6 850.1 733.5 850.5 733.3 850.9 733.2 851.3 733.7 851.7 734.0 852.1 734.4 852.5 735.5 852.9 736.6 853.3 736.0 853.7 733.7 854.1 733.1 854.5 733.8 854.9 735.2 855.3 734.6 855.7 734.8 856.1 733.6 856.5 733.5 856.9 732.6 857.3 734.5 857.7 734.9 858.1 733.7 858.5 732.8 858.9 734.2 859.3 736.4 859.7 734.9 860.1 733.9 860.5 734.2 860.9 735.0 861.3 734.9 861.7 734.1 862.1 733.8 862.5 734.4 862.9 734.4 863.3 734.3 863.7 734.1 864.1 735.1 864.5 735.8 864.9 734.6 865.3 734.9 865.7 734.3 866.1 735.0 866.5 734.3 866.9 735.0 867.3 734.8 867.7 734.3 868.1 734.4 868.5 736.1 868.9 736.5 869.3 735.3 869.7 733.7 870.1 733.4 870.5 733.2 870.9 733.7 871.3 735.4 871.7 735.9 872.1 734.9 872.5 733.7 872.9 733.4 873.3 735.9 873.7 738.1 874.1 738.6 874.5 735.5 874.9 733.9 875.3 733.9 875.7 734.8 876.1 734.3 876.5 734.4 876.9 734.8 877.3 735.8 877.7 735.5 878.1 735.9 878.5 735.8 878.9 734.5 879.3 733.2 879.7 734.4 880.1 736.9 880.5 736.6 880.9 735.2 881.3 734.7 881.7 736.2 882.1 736.3 882.5 736.0 882.9 735.2 883.3 734.1 883.7 734.4 884.1 735.7 884.5 737.2 884.9 736.8 885.3 736.1 885.7 735.0 886.1 735.2 886.5 735.2 886.9 736.2 887.3 738.0 887.7 737.2 888.1 735.5 888.5 734.2 888.9 735.7 889.3 735.5 889.7 735.7 890.1 735.8 890.5 736.1 890.9 737.3 891.3 737.4 891.7 736.3 892.1 735.0 892.5 735.1 892.9 735.9 893.3 735.4 893.7 736.8 894.1 737.7 894.5 737.7 894.9 734.9 895.3 734.4 895.7 734.6 896.1 736.3 896.5 737.3 896.9 736.6 897.3 734.6 897.7 734.0 898.1 735.7 898.5 736.6 898.9 736.5 899.3 735.9 899.7 735.4 900.1 735.1 900.5 734.3 900.9 734.6 901.3 735.9 901.7 736.8 902.1 735.7 902.5 735.4 902.9 736.6 903.3 737.2 903.7 736.7 904.1 736.5 904.5 736.6 904.9 736.3 905.3 735.8 905.7 735.8 906.1 737.0 906.5 736.4 906.9 735.5 907.3 734.6 907.7 735.3 908.1 737.2 908.5 737.5 908.9 737.2 909.3 736.0 909.7 736.9 910.1 737.7 910.5 737.7 910.9 735.8 911.3 733.9 911.7 734.6 912.1 737.3 912.5 738.9 912.9 739.4 913.3 738.5 913.7 736.5 914.1 734.7 914.5 735.0 914.9 736.6 915.3 737.5 915.7 736.8 916.1 736.4 916.5 735.6 916.9 736.0 917.3 736.1 917.7 737.2 918.1 737.4 918.5 736.8 918.9 736.5 919.3 737.3 919.7 738.1 920.1 737.3 920.5 735.1 920.9 735.2 921.3 736.1 921.7 737.7 922.1 737.1 922.5 736.9 922.9 736.6 923.3 737.8 923.7 737.8 924.1 736.8 924.5 736.2 924.9 737.6 925.3 738.1 925.7 738.3 926.1 738.1 926.5 738.8 926.9 737.3 927.3 736.9 927.7 737.1 928.1 738.7 928.5 738.4 928.9 738.1 929.3 736.4 929.7 736.2 930.1 737.5 930.5 739.2 930.9 739.0 931.3 738.3 931.7 739.2 932.1 739.1 932.5 737.6 932.9 735.8 933.3 736.1 933.7 737.6 934.1 739.1 934.5 739.0 934.9 737.6 935.3 737.4 935.7 738.9 936.1 739.2 936.5 738.9 936.9 738.6 937.3 738.8 937.7 738.6 938.1 738.5 938.5 737.6 938.9 736.4 939.3 736.5 939.7 737.9 940.1 739.4 940.5 740.5 940.9 739.7 941.3 738.7 941.7 737.0 942.1 736.3 942.5 737.1 942.9 738.5 943.3 740.4 943.7 740.5 944.1 739.7 944.5 737.1 944.9 734.5 945.3 735.1 945.7 737.0 946.1 741.2 946.5 742.5 946.9 741.7 947.3 738.2 947.7 735.6 948.1 735.6 948.5 737.3 948.9 738.3 949.3 739.2 949.7 740.2 950.1 740.4 950.5 739.2 950.9 737.8 951.3 739.0 951.7 739.5 952.1 739.4 952.5 737.3 952.9 736.7 953.3 736.6 953.7 738.7 954.1 740.5 954.5 740.6 954.9 738.5 955.3 737.7 955.7 738.4 956.1 738.3 956.5 739.4 956.9 740.5 957.3 742.4 957.7 739.8 958.1 737.2 958.5 736.7 958.9 739.4 959.3 740.5 959.7 738.9 960.1 738.4 960.5 738.3 960.9 739.9 961.3 740.7 961.7 741.2 962.1 738.4 962.5 736.8 962.9 737.8 963.3 740.7 963.7 741.4 964.1 740.6 964.5 738.5 964.9 738.3 965.3 739.7 965.7 741.2 966.1 740.7 966.5 739.6 966.9 739.5 967.3 739.5 967.7 740.3 968.1 740.4 968.5 739.3 968.9 738.0 969.3 738.2 969.7 739.4 970.1 740.6 970.5 741.1 970.9 741.5 971.3 740.5 971.7 740.2 972.1 739.2 972.5 738.5 972.9 738.5 973.3 739.3 973.7 738.8 974.1 738.3 974.5 739.2 974.9 740.3 975.3 740.6 975.7 740.8 976.1 741.3 976.5 740.5 976.9 739.0 977.3 738.4 977.7 737.6 978.1 738.3 978.5 738.7 978.9 740.9 979.3 740.8 979.7 740.9 980.1 740.1 980.5 739.9 980.9 740.8 981.3 740.6 981.7 738.8 982.1 738.5 982.5 740.4 982.9 741.5 983.3 740.2 983.7 739.8 984.1 739.8 984.5 740.8 984.9 740.9 985.3 740.6 985.7 740.3 986.1 740.2 986.5 740.8 986.9 739.9 987.3 739.6 987.7 739.3 988.1 739.9 988.5 740.9 988.9 741.2 989.3 741.6 989.7 739.8 990.1 739.9 990.5 740.5 990.9 740.6 991.3 740.3 991.7 741.0 992.1 741.7 992.5 740.3 992.9 738.6 993.3 738.6 993.7 739.4 994.1 740.4 994.5 741.8 994.9 742.1 995.3 741.7 995.7 739.1 996.1 738.9 996.5 739.9 996.9 740.8 997.3 741.9 997.7 741.7 998.1 742.0 998.5 740.7 998.9 740.9 999.3 739.1 999.7 739.5 1000.1 739.2 1000.5 741.1 1000.9 740.4 1001.3 740.9 1001.7 741.8 1002.1 742.4 1002.5 741.6 1002.9 739.1 1003.3 739.6 1003.7 740.5 1004.1 742.7 1004.5 741.3 1004.9 739.9 1005.3 739.6 1005.7 741.9 1006.1 741.3 1006.5 740.4 1006.9 741.1 1007.3 742.3 1007.7 743.6 1008.1 741.9 1008.5 740.4 1008.9 739.2 1009.3 739.9 1009.7 741.1 1010.1 741.0 1010.5 741.5 1010.9 740.3 1011.3 740.2 1011.7 740.5 1012.1 742.3 1012.5 742.3 1012.9 740.6 1013.3 740.1 1013.7 740.4 1014.1 741.4 1014.5 742.1 1014.9 743.2 1015.3 741.5 1015.7 740.9 1016.1 741.6 1016.5 742.1 1016.9 740.7 1017.3 740.8 1017.7 741.5 1018.1 741.6 1018.5 741.2 1018.9 741.4 1019.3 742.9 1019.7 743.6 1020.1 743.1 1020.5 741.0 1020.9 740.1 1021.3 741.3 1021.7 741.4 1022.1 742.1 1022.5 741.4 1022.9 740.7 1023.3 740.5 1023.7 741.9 1024.1 743.2 1024.5 742.0 1024.9 741.1 1025.3 740.3 1025.7 741.2 1026.1 742.7 1026.5 743.0 1026.9 741.7 1027.3 741.0 1027.7 741.9 1028.1 742.4 1028.5 742.0 1028.9 741.1 1029.3 741.1 1029.7 741.3 1030.1 741.1 1030.5 741.7 1030.9 742.3 1031.3 742.9 1031.7 741.6 1032.1 741.7 1032.5 741.7 1032.9 742.3 1033.3 741.5 1033.7 740.9 1034.1 740.7 1034.5 741.1 1034.9 741.6 1035.3 743.3 1035.7 744.1 1036.1 743.9 1036.5 742.4 1036.9 741.5 1037.3 740.6 1037.7 741.1 1038.1 741.1 1038.5 742.5 1038.9 743.8 1039.3 743.6 1039.7 742.3 1040.1 742.3 1040.5 744.1 1040.9 743.9 1041.3 744.2 1041.7 743.1 1042.1 741.9 1042.5 741.4 1042.9 742.3 1043.3 741.7 1043.7 741.5 1044.1 742.6 1044.5 743.6 1044.9 743.4 1045.3 743.6 1045.7 742.6 1046.1 741.6 1046.5 741.2 1046.9 742.6 1047.3 742.4 1047.7 741.8 1048.1 741.8 1048.5 743.7 1048.9 743.7 1049.3 743.6 1049.7 743.2 1050.1 744.4 1050.5 744.4 1050.9 743.8 1051.3 743.6 1051.7 742.1 1052.1 741.7 1052.5 741.8 1052.9 743.8 1053.3 743.4 1053.7 741.2 1054.1 740.7 1054.5 742.3 1054.9 744.0 1055.3 743.6 1055.7 741.8 1056.1 741.4 1056.5 742.2 1056.9 743.1 1057.3 744.0 1057.7 744.5 1058.1 745.6 1058.5 744.9 1058.9 742.8 1059.3 740.6 1059.7 739.6 1060.1 741.4 1060.5 743.7 1060.9 744.4 1061.3 744.0 1061.7 743.0 1062.1 744.1 1062.5 743.9 1062.9 743.1 1063.3 742.3 1063.7 742.1 1064.1 743.2 1064.5 744.3 1064.9 744.4 1065.3 744.4 1065.7 743.4 1066.1 743.8 1066.5 743.2 1066.9 743.0 1067.3 742.9 1067.7 742.9 1068.1 743.7 1068.5 743.1 1068.9 742.2 1069.3 742.3 1069.7 743.5 1070.1 744.3 1070.5 744.0 1070.9 744.2 1071.3 744.2 1071.7 744.5 1072.1 743.7 1072.5 743.5 1072.9 742.7 1073.3 742.1 1073.7 741.5 1074.1 742.6 1074.5 743.6 1074.9 744.9 1075.3 745.4 1075.7 745.4 1076.1 744.0 1076.5 742.6 1076.9 742.1 1077.3 742.8 1077.7 745.2 1078.1 745.3 1078.5 744.7 1078.9 743.1 1079.3 743.5 1079.7 742.5 1080.1 742.6 1080.5 742.9 1080.9 743.9 1081.3 745.4 1081.7 745.4 1082.1 744.3 1082.5 742.1 1082.9 742.7 1083.3 744.5 1083.7 746.4 1084.1 746.1 1084.5 744.0 1084.9 743.5 1085.3 743.4 1085.7 743.7 1086.1 743.8 1086.5 744.0 1086.9 744.2" stroke="#000080" stroke-width="3.7" fill="none" stroke-linejoin="round"/>
<g stroke="#000" stroke-width="2.6" fill="none" stroke-linecap="butt">
<path d="M194.8 22.2 V816.8"/>
<path d="M193.5 801.4 H1149.5"/>
<path d="M179 764.2 H194.8"/>
<path d="M179 616.1 H194.8"/>
<path d="M179 467.9 H194.8"/>
<path d="M179 319.8 H194.8"/>
<path d="M179 171.6 H194.8"/>
<path d="M179 23.5 H194.8"/>
<path d="M194.8 801.4 V816.8"/>
<path d="M322.1 801.4 V816.8"/>
<path d="M449.4 801.4 V816.8"/>
<path d="M576.7 801.4 V816.8"/>
<path d="M704.0 801.4 V816.8"/>
<path d="M831.3 801.4 V816.8"/>
<path d="M958.6 801.4 V816.8"/>
<path d="M1085.9 801.4 V816.8"/>
</g>
<g font-size="31.5" text-anchor="end">
<text x="170" y="773.4">0</text>
<text x="170" y="625.3">4000</text>
<text x="170" y="477.1">8000</text>
<text x="170" y="329.0">12000</text>
<text x="170" y="180.8">16000</text>
<text x="170" y="32.7">20000</text>
</g>
<g font-size="31.5" text-anchor="middle">
<text x="194.8" y="850.3">0</text>
<text x="322.1" y="850.3">10</text>
<text x="449.4" y="850.3">20</text>
<text x="576.7" y="850.3">30</text>
<text x="704.0" y="850.3">40</text>
<text x="831.3" y="850.3">50</text>
<text x="958.6" y="850.3">60</text>
<text x="1085.9" y="850.3">70</text>
</g>
<text font-size="39" text-anchor="middle" transform="translate(38.4 387.0) rotate(-90)">Intensity (cps)</text>
<text font-size="39" text-anchor="middle" x="671.6" y="909.5">Angle (2 theta)</text>
<rect x="719.6" y="82.85" width="335.4" height="287.65" fill="#fff" stroke="#444" stroke-width="1.6"/>
<path d="M734.9 108.2 H822.6" stroke="#000000" stroke-width="3.5" stroke-linecap="round"/>
<text x="832.3" y="120.1" font-size="38.5">PVA</text>
<path d="M734.9 156.3 H822.6" stroke="#ff0000" stroke-width="3.5" stroke-linecap="round"/>
<text x="832.3" y="168.2" font-size="38.5">PVA/PVP</text>
<path d="M734.9 204.3 H822.6" stroke="#0000ff" stroke-width="3.5" stroke-linecap="round"/>
<text x="832.3" y="216.2" font-size="38.5">PVA/CMC-1</text>
<path d="M734.9 252.4 H822.6" stroke="#ff00ff" stroke-width="3.5" stroke-linecap="round"/>
<text x="832.3" y="264.3" font-size="38.5">C1P12</text>
<path d="M734.9 300.4 H822.6" stroke="#008000" stroke-width="3.5" stroke-linecap="round"/>
<text x="832.3" y="312.3" font-size="38.5">C2P12</text>
<path d="M734.9 348.5 H822.6" stroke="#000080" stroke-width="3.5" stroke-linecap="round"/>
<text x="832.3" y="360.4" font-size="38.5">C3P12</text>
</svg></body></html>
